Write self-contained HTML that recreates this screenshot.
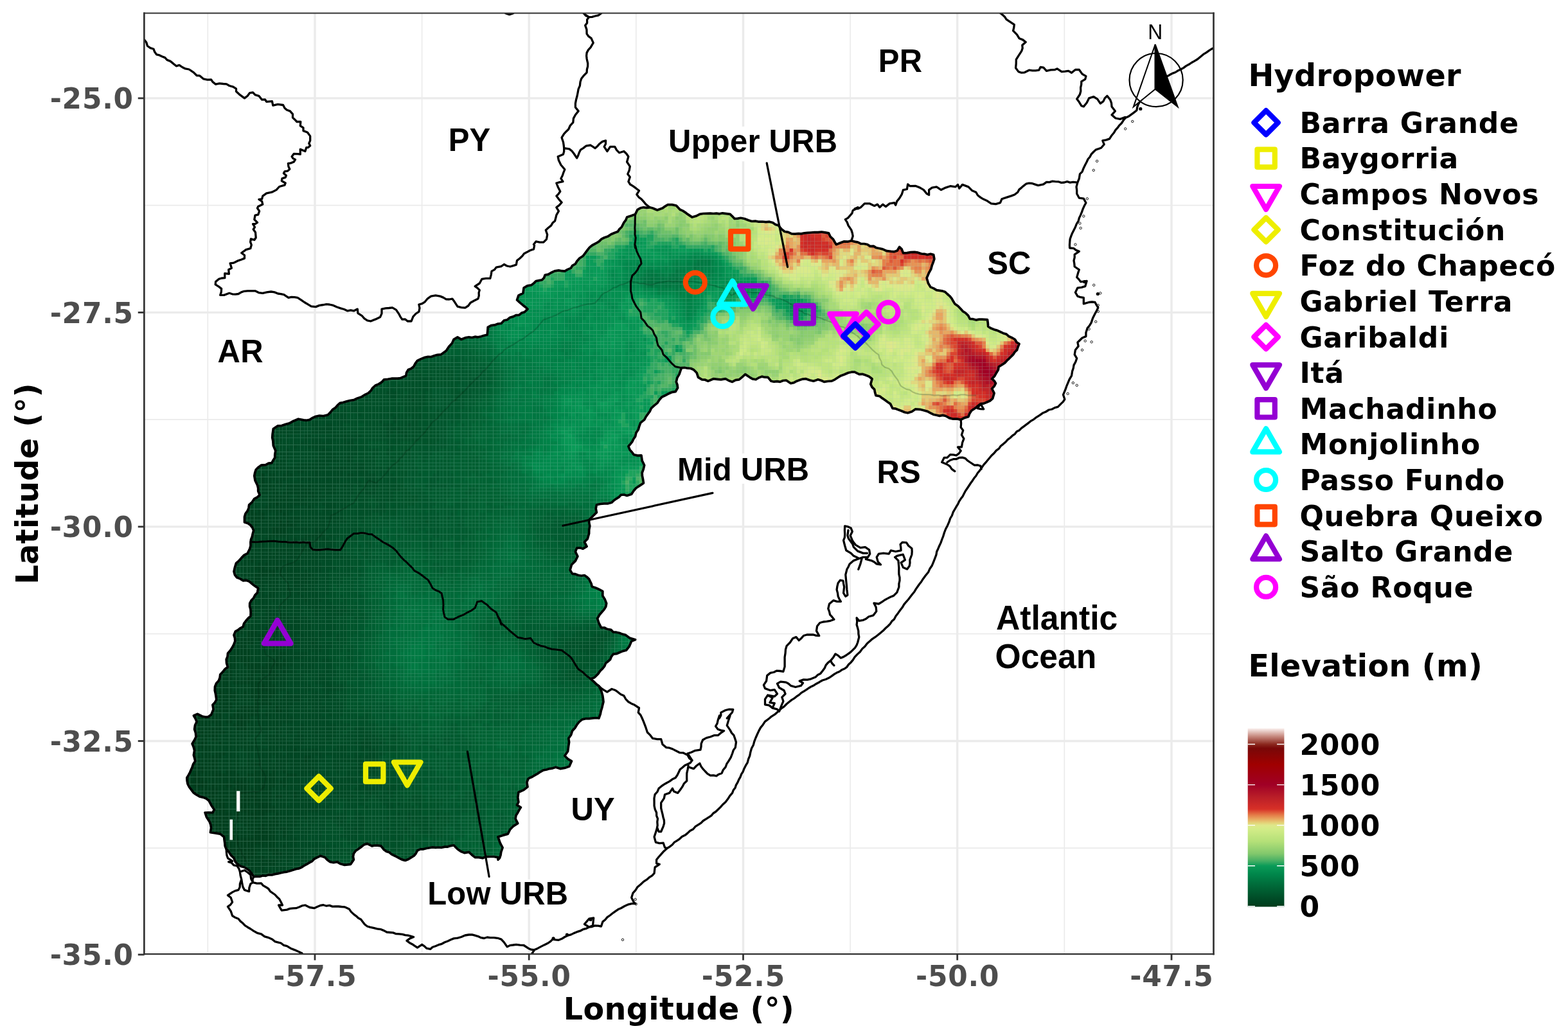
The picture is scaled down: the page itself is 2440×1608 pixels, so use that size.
<!DOCTYPE html>
<html lang="en"><head><meta charset="utf-8"><title>Uruguay River Basin map</title><style>html,body{margin:0;padding:0;background:#fff}svg{display:block}</style></head><body><svg xmlns="http://www.w3.org/2000/svg" width="2440" height="1608" viewBox="0 0 2440 1608">
<defs>
<clipPath id="panel"><rect x="224.35" y="20.5" width="1664.15" height="1464.6"/></clipPath>
<clipPath id="basin"><path d="M1011.0 322.8L1015.7 324.0L1022.8 327.0L1031.0 324.0L1039.3 318.5L1052.3 320.0L1058.2 326.3L1070.0 333.4L1077.1 338.1L1088.9 333.4L1105.4 332.2L1124.3 331.8L1136.1 333.4L1143.1 340.5L1152.6 339.3L1164.4 342.8L1180.9 345.2L1197.4 345.2L1211.6 351.1L1221.0 360.5L1237.5 364.1L1256.4 362.4L1272.9 361.7L1289.5 362.9L1296.5 372.3L1301.3 380.6L1313.1 375.9L1324.9 374.7L1335.0 377.1L1373.7 387.9L1386.6 391.4L1396.1 390.3L1399.6 384.4L1403.2 387.9L1405.5 393.8L1417.3 392.6L1433.8 395.0L1452.7 396.6L1453.9 403.2L1450.4 412.7L1445.6 424.5L1442.1 432.7L1444.5 441.0L1448.0 446.9L1457.4 451.6L1465.7 452.8L1474.0 457.5L1481.0 464.6L1485.8 472.9L1495.2 481.1L1502.3 487.0L1509.4 496.5L1518.8 498.1L1528.2 497.2L1536.5 497.6L1537.7 508.3L1547.1 513.0L1556.5 516.5L1566.0 520.1L1575.4 526.0L1586.0 535.4L1582.5 544.8L1576.6 551.9L1570.7 557.8L1563.6 564.9L1554.2 570.8L1550.6 580.2L1543.6 589.7L1549.5 596.7L1543.6 605.0L1547.1 612.1L1544.7 620.3L1535.3 626.2L1525.9 628.6L1518.8 634.5L1511.7 639.2L1507.0 648.7L1495.2 653.4L1483.4 652.2L1471.6 647.5L1457.4 646.3L1443.3 640.4L1431.5 637.3L1424.4 636.9L1412.6 642.8L1398.4 638.0L1389.0 635.7L1385.5 628.6L1377.2 622.7L1368.9 616.8L1363.0 615.6L1360.7 606.2L1354.8 597.9L1357.1 589.7L1346.5 583.8L1337.1 582.6L1330.0 579.1L1320.1 580.2L1308.3 584.9L1294.2 593.2L1282.4 594.4L1272.9 590.8L1265.9 593.2L1254.1 589.7L1239.9 593.2L1230.5 596.7L1223.4 592.0L1213.9 594.4L1199.8 593.2L1195.1 587.3L1185.6 586.1L1176.2 590.8L1166.7 587.3L1159.7 582.6L1150.2 590.8L1139.6 594.4L1129.0 589.7L1121.9 590.8L1110.1 589.7L1101.8 593.2L1092.4 590.8L1086.5 587.3L1084.1 580.2L1079.4 575.5L1070.0 573.2L1060.5 572.7L1057.0 582.6L1052.3 594.4L1054.6 603.8L1051.1 609.7L1039.3 613.3L1029.9 618.0L1022.8 627.4L1013.3 635.7L1008.6 643.9L1002.7 653.4L996.8 658.1L993.3 668.7L988.6 679.3L983.8 687.6L977.9 694.7L980.3 700.6L986.2 707.7L998.0 708.8L999.2 717.1L1002.7 724.2L999.2 736.0L1000.4 745.4L1001.5 752.0L996.8 755.1L989.7 759.8L982.7 769.2L975.6 771.6L966.2 770.4L959.1 776.3L952.0 782.2L940.2 783.9L928.4 785.8L927.2 791.7L928.4 797.6L922.5 803.5L916.6 809.4L917.8 818.8L916.6 830.6L914.2 838.9L909.5 843.6L913.1 850.7L907.2 854.2L897.7 853.0L895.4 858.9L898.9 866.0L895.4 873.1L889.5 879.0L887.1 887.2L890.6 893.1L900.1 895.5L909.5 895.5L916.6 901.4L920.1 908.5L921.3 913.2L930.8 916.7L937.8 920.3L937.8 927.4L941.4 933.3L943.7 939.2L940.2 948.6L933.1 956.8L929.6 962.7L931.9 969.8L935.5 976.9L944.9 979.3L950.8 980.4L954.4 984.0L963.8 985.2L973.2 988.2L980.3 993.4L988.6 995.8L982.7 998.1L979.1 1006.4L974.4 1012.3L963.8 1015.8L954.4 1018.2L949.6 1026.5L942.6 1032.4L937.8 1040.6L930.8 1048.9L924.9 1054.8L919.0 1056.7L924.9 1061.9L931.9 1067.8L935.5 1074.8L937.8 1083.1L939.0 1092.5L936.7 1102.0L934.3 1111.4L931.9 1118.0L928.4 1117.5L916.6 1118.7L906.0 1119.9L897.7 1128.2L890.6 1137.6L884.7 1149.4L884.7 1161.2L883.6 1169.5L878.8 1176.5L883.6 1181.3L889.5 1184.8L885.9 1193.1L878.8 1195.4L871.8 1196.6L864.7 1194.2L855.2 1196.6L841.1 1201.3L831.6 1207.2L822.2 1211.9L819.8 1217.8L821.0 1224.9L815.1 1229.6L806.9 1233.2L805.7 1241.4L806.9 1248.5L804.5 1253.2L810.4 1256.8L805.7 1265.0L802.1 1274.5L805.7 1281.6L798.6 1286.3L793.9 1291.0L790.3 1298.1L782.1 1300.4L775.0 1302.8L777.4 1309.9L782.1 1319.3L779.7 1326.4L777.4 1335.8L775.0 1338.2L774.6 1334.6L762.8 1333.5L751.0 1335.8L739.2 1334.6L729.7 1326.4L722.7 1327.6L712.0 1321.7L706.1 1315.8L692.0 1318.1L677.8 1319.3L663.7 1320.5L649.5 1324.0L647.1 1328.7L640.1 1334.6L630.6 1339.4L621.2 1335.8L609.4 1329.9L597.6 1322.8L592.9 1316.9L578.7 1316.9L571.6 1313.4L566.9 1314.6L557.5 1321.7L550.4 1328.7L550.4 1338.2L545.7 1345.3L536.2 1346.4L524.4 1341.7L513.8 1341.7L505.5 1334.6L498.5 1332.3L489.0 1337.0L477.2 1345.3L465.4 1351.9L446.5 1357.1L427.7 1360.6L408.8 1363.0L394.6 1364.6L392.3 1360.6L387.6 1354.7L380.5 1350.0L371.0 1346.4L366.3 1341.7L364.0 1335.8L359.2 1331.1L352.2 1321.7L349.8 1312.2L348.6 1302.8L342.7 1298.1L335.6 1296.9L327.4 1295.7L328.6 1288.6L326.2 1279.2L321.5 1272.1L319.1 1265.0L330.9 1265.0L333.3 1260.3L328.6 1253.2L325.0 1246.2L316.8 1241.4L305.0 1236.7L297.9 1229.6L292.0 1220.2L290.8 1210.8L295.5 1202.5L299.1 1194.2L303.8 1184.8L301.4 1175.4L302.6 1168.3L299.1 1157.7L305.0 1147.0L302.6 1135.2L306.1 1123.4L301.4 1114.0L307.3 1111.4L314.4 1115.0L323.8 1116.1L328.6 1112.6L332.1 1104.3L330.9 1097.3L336.8 1089.0L335.6 1080.7L334.5 1068.9L340.4 1059.5L342.7 1050.1L349.8 1041.8L354.5 1038.3L352.2 1026.5L354.5 1017.0L361.6 1007.6L365.8 998.1L364.0 988.7L366.3 982.8L378.1 975.7L382.8 966.3L389.9 959.2L389.9 948.6L388.7 939.2L394.6 930.9L400.5 922.6L401.7 915.6L394.6 910.8L387.6 904.9L378.1 903.8L368.7 899.0L364.0 889.6L367.5 876.6L375.8 868.4L385.2 861.3L388.7 854.2L389.9 844.8L392.3 835.3L394.6 825.9L389.9 817.6L380.5 812.9L380.5 804.6L385.2 795.2L387.6 785.8L395.8 776.3L404.1 770.4L401.7 764.5L400.5 755.1L397.0 748.0L395.8 740.7L398.2 731.3L406.4 724.2L413.5 723.7L422.9 720.6L427.7 712.4L428.8 701.8L425.3 693.5L424.8 686.4L424.1 675.8L425.3 667.5L432.4 662.8L444.2 660.5L456.0 655.7L464.2 652.2L472.5 653.9L481.9 653.4L491.4 648.2L503.2 647.5L510.3 645.8L522.1 634.5L529.1 627.4L538.6 625.1L550.4 622.7L562.2 618.0L572.8 612.1L579.9 603.8L589.3 597.9L597.6 590.8L609.4 589.2L623.5 588.5L631.8 584.9L635.3 575.5L643.6 570.8L649.5 561.4L661.3 556.2L675.5 553.8L686.1 551.9L694.3 546.0L699.1 538.9L706.1 528.3L712.0 524.8L717.9 528.3L725.0 525.5L743.9 524.8L758.1 521.2L759.2 509.4L769.9 505.9L780.0 503.5L784.4 498.8L798.6 492.9L816.3 485.8L821.0 481.1L813.9 475.2L804.5 467.0L806.9 459.9L813.9 456.3L815.1 448.1L826.9 443.8L834.0 437.5L843.4 435.8L848.2 428.0L857.6 424.5L869.4 420.9L878.8 422.1L888.3 417.4L897.7 406.8L907.2 398.5L914.2 389.1L921.3 382.0L928.4 378.2L940.2 370.0L950.8 364.8L961.4 360.5L967.3 353.5L970.9 346.4L975.6 338.1L982.7 335.8L988.6 333.4L992.1 326.3L1001.5 322.8L1011.0 322.8Z"/></clipPath>
</defs>
<rect width="2440" height="1608" fill="#fff"/>
<g stroke="#ebebeb" fill="none"><line x1="323.3" x2="323.3" y1="20.5" y2="1485.1" stroke-width="1.7"/><line x1="656.6" x2="656.6" y1="20.5" y2="1485.1" stroke-width="1.7"/><line x1="989.8" x2="989.8" y1="20.5" y2="1485.1" stroke-width="1.7"/><line x1="1323.1" x2="1323.1" y1="20.5" y2="1485.1" stroke-width="1.7"/><line x1="1656.3" x2="1656.3" y1="20.5" y2="1485.1" stroke-width="1.7"/><line y1="319.6" y2="319.6" x1="224.35" x2="1888.5" stroke-width="1.7"/><line y1="653.2" y2="653.2" x1="224.35" x2="1888.5" stroke-width="1.7"/><line y1="986.7" y2="986.7" x1="224.35" x2="1888.5" stroke-width="1.7"/><line y1="1320.2" y2="1320.2" x1="224.35" x2="1888.5" stroke-width="1.7"/><line x1="490.0" x2="490.0" y1="20.5" y2="1485.1" stroke-width="3.4"/><line x1="823.2" x2="823.2" y1="20.5" y2="1485.1" stroke-width="3.4"/><line x1="1156.5" x2="1156.5" y1="20.5" y2="1485.1" stroke-width="3.4"/><line x1="1489.7" x2="1489.7" y1="20.5" y2="1485.1" stroke-width="3.4"/><line x1="1823.0" x2="1823.0" y1="20.5" y2="1485.1" stroke-width="3.4"/><line y1="152.9" y2="152.9" x1="224.35" x2="1888.5" stroke-width="3.4"/><line y1="486.4" y2="486.4" x1="224.35" x2="1888.5" stroke-width="3.4"/><line y1="819.9" y2="819.9" x1="224.35" x2="1888.5" stroke-width="3.4"/><line y1="1153.5" y2="1153.5" x1="224.35" x2="1888.5" stroke-width="3.4"/></g>
<g clip-path="url(#panel)">
<path d="M224.7 62.0L227.9 66.3L229.4 71.5L233.8 74.6L238.9 76.2L240.7 80.8L243.6 84.9L248.1 85.9L252.3 88.0L256.6 89.6L260.1 93.4L264.8 95.1L269.6 98.9L274.3 102.8L279.0 101.4L283.5 104.5L288.4 106.9L294.3 108.0L301.4 112.8L306.1 117.5L310.9 117.9L316.8 122.9L322.6 124.1L328.6 123.8L330.9 127.4L335.6 131.2L341.5 129.8L347.4 130.5L352.5 130.9L356.9 133.5L362.8 135.2L367.5 138.2L367.5 142.3L373.4 147.7L380.5 152.9L385.2 149.3L388.7 144.6L393.5 143.9L397.0 147.7L402.9 149.3L407.6 155.2L412.3 154.8L414.7 158.3L423.4 157.6L424.8 164.2L432.4 162.3L440.6 163.5L443.0 168.2L446.5 171.3L451.3 172.9L455.5 177.7L455.5 183.1L458.8 186.2L461.9 189.5L467.8 189.5L467.3 195.8L472.0 198.9L472.0 203.6L478.4 206.0L482.7 211.9L482.7 218.9L480.8 223.2L482.7 226.7L479.6 229.6L476.8 229.6L474.9 235.5L467.3 232.4L467.3 240.2L463.1 239.7L457.2 239.5L454.1 243.7L456.0 246.6L459.5 248.4L457.2 252.0L452.4 253.9L448.4 254.3L448.9 259.1L450.8 263.3L447.7 266.1L443.0 266.9L441.4 269.7L445.4 273.2L444.2 276.1L439.0 277.9L438.3 281.5L444.2 285.0L443.0 288.1L434.7 290.5L430.0 295.6L422.9 299.2L414.7 300.8L408.8 305.1L407.6 309.8L402.9 310.3L407.6 313.3L408.8 318.1L401.7 321.6L400.5 324.0L403.6 328.7L401.7 334.1L397.0 335.1L395.8 341.7L400.5 346.4L397.0 348.7L393.5 348.7L396.5 353.5L394.2 357.0L397.5 361.7L398.2 370.0L395.8 373.5L390.4 371.9L389.6 376.6L391.3 381.3L389.9 386.0L389.9 386.7L382.8 388.6L375.8 393.8L380.5 397.3L380.5 402.1L375.8 404.0L371.0 405.6L364.0 409.1L358.1 409.8L360.4 417.4L355.7 419.8L356.4 426.4L349.8 425.7L349.8 432.7L345.0 433.0L340.4 434.4L335.6 438.6L335.2 442.9L340.4 446.2L344.6 449.3L344.3 454.4L342.7 459.4L348.6 459.4L356.9 456.3L361.5 457.8L366.2 458.1L371.0 457.5L375.4 454.9L380.1 453.3L385.2 452.8L391.1 452.9L397.0 452.8L402.6 455.6L408.8 456.3L415.2 454.9L421.8 454.0L427.3 454.9L432.4 457.0L437.1 457.7L441.8 458.7L448.9 463.4L453.6 462.3L458.3 462.7L463.1 463.4L468.5 466.8L473.7 470.5L479.0 473.7L484.3 476.9L491.4 477.6L497.1 475.4L503.2 474.5L507.9 473.6L512.6 474.0L518.7 475.4L524.4 478.0L530.0 479.9L535.6 481.5L540.9 483.9L545.7 482.8L550.4 483.9L556.3 481.1L557.0 487.7L563.4 491.7L567.0 495.9L571.6 498.8L576.8 500.0L584.6 496.9L591.7 493.4L594.0 488.2L594.0 481.1L599.9 479.9L605.3 479.5L610.6 478.8L616.5 482.3L621.2 489.4L623.2 493.4L625.9 497.2L630.6 496.9L634.2 500.0L640.1 500.0L642.9 492.9L646.9 488.5L651.9 485.1L653.0 479.6L651.9 474.0L656.9 472.7L661.3 469.8L665.4 464.8L670.7 461.1L677.8 459.9L684.9 461.1L689.8 463.1L694.3 465.8L699.1 466.0L703.8 465.1L707.3 469.8L712.0 477.1L717.8 478.7L723.8 479.2L728.7 476.0L732.1 471.2L737.9 468.0L743.9 465.1L745.3 460.4L745.1 455.6L746.3 451.6L743.0 448.4L739.2 445.7L746.3 441.0L749.8 434.4L756.2 433.4L762.8 433.4L764.2 427.8L765.1 422.1L769.3 419.9L772.2 416.2L780.0 414.6L784.4 411.5L788.9 414.0L793.9 415.0L798.6 413.6L803.3 412.2L804.5 405.6L808.8 402.2L812.8 398.5L815.6 394.7L819.8 392.6L824.9 389.7L830.5 387.9L831.6 382.0L830.5 380.6L834.0 375.9L839.8 377.2L845.8 377.1L850.5 372.3L851.7 365.3L849.3 358.2L853.3 354.5L857.6 351.1L859.9 347.1L863.5 344.0L864.8 339.3L865.9 334.6L869.4 328.7L865.9 322.8L870.3 319.4L874.1 315.2L869.4 309.8L865.9 305.1L869.1 301.8L871.8 298.0L868.2 290.9L865.9 285.0L870.9 283.6L876.0 282.7L872.9 277.9L875.3 273.2L876.9 268.5L878.8 263.8L875.9 260.2L872.9 256.7L869.4 249.6L868.2 243.7L876.5 240.2L877.7 235.6L877.7 230.7M908.3 20.7L911.8 24.6L916.6 26.6L913.6 30.5L913.6 35.7L910.7 39.6L912.9 45.9L913.1 52.6L916.0 56.7L920.1 59.7L923.2 66.7L919.0 73.8L915.5 77.6L913.1 82.1L912.6 86.8L913.1 91.5L914.7 98.6L914.6 103.4L913.4 108.0L913.1 112.8L908.7 117.3L904.8 122.2L903.0 127.6L902.4 133.4L900.1 138.7L899.1 144.3L898.0 149.8L896.5 155.2L895.4 161.1L895.4 167.0L900.1 172.9L895.4 178.8L892.4 184.4L891.8 190.6L887.4 195.3L884.7 201.3L881.1 204.7L877.7 208.3L874.1 214.2L876.5 221.3L877.2 226.0L877.7 230.7M877.7 230.7L885.9 231.9L889.9 235.0L893.0 239.0L897.7 246.1L899.8 241.8L901.4 237.3L903.6 233.1L907.9 230.4L911.9 227.2L919.0 226.0L926.0 230.7L929.8 227.4L933.1 223.7L937.4 220.4L942.6 218.9L942.5 224.0L940.2 228.4L944.9 235.5L949.6 228.4L956.7 228.4L959.6 233.6L963.8 237.8L970.9 235.5L974.8 239.2L977.9 243.7L975.6 252.0L980.3 259.1L979.2 265.2L976.8 270.9L980.3 275.6L977.9 282.7L980.6 287.0L985.0 289.7L989.8 293.2L994.5 296.8L990.9 302.7L993.9 306.8L998.0 309.8L1001.6 313.9L1005.1 318.1L1011.0 322.8M1556.5 20.2L1560.2 23.1L1563.5 26.2L1566.0 30.2L1573.1 34.9L1578.3 38.4L1577.7 43.2L1576.6 47.9L1582.5 53.8L1586.0 59.7L1591.5 61.9L1596.2 65.6L1590.8 70.3L1591.2 75.1L1589.6 79.7L1584.9 86.8L1581.3 92.7L1581.2 99.2L1580.6 105.7L1584.9 111.6L1589.5 113.2L1594.3 112.8L1601.4 109.2L1606.5 109.9L1611.6 109.9L1616.7 109.2L1619.1 104.5L1623.8 105.2L1628.5 110.4L1634.9 108.8L1641.5 108.5L1645.0 106.9L1652.1 111.6L1657.4 111.1L1662.7 110.4L1667.5 113.2L1673.4 108.5L1679.3 108.5L1684.0 115.1L1689.9 118.7L1688.7 123.4L1682.8 126.9L1682.7 131.7L1681.6 136.4L1681.8 141.8L1680.4 147.0L1675.7 154.1L1679.3 158.8L1682.8 164.7L1686.3 165.9L1691.1 160.0L1694.6 152.9L1701.7 150.5L1707.6 154.1L1712.3 161.1L1717.0 157.6L1719.2 152.9L1722.9 149.3L1727.6 155.2L1729.5 160.4L1730.0 165.9L1735.4 172.9L1730.0 178.8L1735.9 184.0L1743.0 185.4L1751.2 182.4M1324.9 374.7L1327.2 367.6L1326.3 362.8L1324.9 358.2L1320.1 351.1L1318.3 346.1L1315.4 341.7L1319.4 339.3L1322.5 335.8L1325.8 332.2L1327.2 327.5L1331.4 325.6L1335.0 322.8L1330.0 325.1L1335.0 324.9L1339.4 322.8L1345.3 316.9L1353.6 316.9L1360.7 320.4L1365.4 318.1L1368.9 322.8L1373.7 318.1L1378.4 321.6L1384.3 316.9L1391.8 315.7L1393.7 319.2L1395.7 313.4L1399.6 308.6L1403.2 302.7L1405.5 295.6L1411.4 294.5L1412.6 286.9L1416.1 289.7L1424.4 289.3L1431.5 292.1L1437.4 295.6L1442.1 301.5L1445.6 303.4L1445.6 295.6L1450.4 292.1L1457.4 290.9L1464.5 295.6L1471.6 292.1L1478.7 289.7L1486.9 290.9L1490.5 287.4L1492.8 293.3L1497.6 287.4L1502.3 289.1L1507.0 290.9L1512.9 296.8L1518.8 299.2L1521.5 304.0L1525.9 307.4L1530.4 310.1L1535.3 312.2L1542.4 316.9L1549.5 317.6L1556.5 315.7L1558.9 309.8L1566.0 307.4L1573.1 305.1L1578.8 303.0L1583.7 299.2L1585.9 295.1L1589.6 292.1L1593.1 289.1L1596.7 286.2L1601.3 285.2L1606.1 285.5L1610.8 287.1L1615.5 288.6L1623.8 286.9L1628.5 283.4L1633.1 283.6L1637.7 282.2L1642.3 282.7L1646.9 282.8L1651.5 284.4L1656.1 284.0L1660.6 282.6L1665.2 284.1L1669.8 283.4L1675.0 283.8M1890.0 73.8L1885.5 76.2L1881.2 78.8L1877.1 81.8L1872.8 84.4L1868.2 88.2L1863.7 92.0L1858.6 95.1L1854.3 97.5L1850.1 100.3L1845.7 102.6L1841.7 105.6L1837.4 108.0L1833.1 109.9L1829.2 112.5L1824.7 114.1L1820.6 116.3L1816.6 118.7L1812.1 121.6L1807.5 124.4L1802.9 127.1L1798.4 130.2L1794.8 133.8L1790.7 136.8L1786.7 139.9L1783.1 143.4L1780.4 148.3L1776.9 152.7L1774.1 157.5L1771.3 162.3L1769.7 166.9L1768.9 171.8L1764.3 175.4L1759.5 178.8L1755.6 181.6L1751.2 183.6L1748.0 187.5L1745.3 191.8L1741.9 195.1L1739.1 198.9L1735.9 202.4L1733.3 206.8L1730.0 210.7L1726.5 216.1L1721.2 217.9L1715.8 218.9L1718.2 224.8L1713.5 230.3L1705.2 233.1L1701.6 236.5L1698.1 240.2L1696.0 244.3L1693.0 247.8L1691.1 252.0L1688.6 256.7L1686.3 261.4L1684.0 267.3L1680.4 270.9L1679.3 277.9L1676.9 283.8L1675.0 290.9L1675.7 296.2L1675.7 301.5L1679.3 308.2L1686.3 309.1L1689.9 315.7L1687.4 320.3L1685.2 325.1L1683.5 329.9L1681.6 334.6L1679.4 339.1L1678.1 344.0L1675.3 348.5L1673.4 353.5L1671.0 358.2L1668.6 362.9L1666.7 367.6L1665.1 372.3L1664.7 376.9L1664.4 381.5L1664.6 386.0L1671.0 386.7L1674.8 389.6L1679.3 391.4L1672.2 396.2L1672.2 400.9L1671.0 405.6L1671.8 410.3L1672.2 415.0L1679.3 419.8L1677.4 425.6L1675.7 431.6L1678.9 434.9L1681.6 438.6L1686.4 438.2L1691.1 437.5L1688.7 445.7L1682.9 447.4L1676.9 448.1L1673.4 455.2L1676.9 461.1L1681.5 462.7L1686.3 463.4L1686.3 468.1L1686.3 472.9L1694.6 470.5L1699.3 470.0L1704.0 470.5L1706.2 474.7L1708.8 478.8L1706.6 483.6L1704.0 488.2L1700.5 495.3L1698.1 502.4L1695.5 506.7L1692.2 510.6L1689.9 517.7L1689.9 523.6L1684.0 526.0L1680.5 529.5L1676.9 533.0L1678.1 538.9L1673.4 544.8L1672.2 551.9L1675.7 557.8L1673.8 563.3L1671.0 568.4L1670.2 573.2L1668.6 577.9L1667.5 584.9L1664.1 590.7L1661.6 596.7L1659.6 601.4L1658.0 606.2L1654.5 614.4L1656.8 621.5L1654.3 625.4L1650.9 628.6L1646.2 633.3L1641.4 634.6L1637.0 637.0L1632.1 638.0L1627.4 641.0L1622.4 643.1L1617.9 646.3L1613.1 649.3L1608.6 652.8L1603.7 655.7L1599.1 659.4L1594.4 662.9L1589.6 666.4L1586.3 669.7L1582.1 671.8L1579.3 675.6L1575.4 678.2L1572.0 681.5L1568.1 684.4L1564.9 688.0L1561.3 691.1L1557.3 694.3L1554.4 698.4L1550.2 701.4L1547.1 705.3L1542.8 709.3L1539.1 713.8L1535.3 718.3L1530.8 723.3L1527.1 728.9L1524.3 732.9L1521.2 736.5L1518.8 740.7L1515.8 744.3L1513.3 748.2L1510.5 752.0L1507.6 756.5L1504.6 761.0L1502.1 764.7L1500.0 768.7L1498.0 772.7L1495.2 776.3L1492.6 780.3L1490.7 784.7L1488.1 788.7L1485.8 792.8L1483.1 797.4L1481.4 802.5L1478.7 807.0L1476.8 812.7L1474.4 818.2L1471.6 823.5L1469.5 829.0L1467.8 834.6L1465.7 840.0L1464.0 844.9L1461.8 849.5L1459.8 854.2L1457.7 858.8L1456.9 863.7L1455.1 868.4L1452.8 874.3L1450.4 880.2L1447.0 885.2L1444.5 890.8L1440.2 896.0L1436.2 901.4L1433.7 905.5L1430.7 909.3L1427.9 913.2L1425.2 917.1L1422.8 921.3L1419.7 925.0L1416.6 929.0L1413.6 933.0L1410.2 936.8L1406.8 940.9L1404.1 945.6L1400.8 949.8L1397.5 954.4L1394.0 958.9L1391.4 963.9L1387.8 967.1L1385.2 971.1L1381.9 974.5L1377.9 978.0L1374.2 981.8L1370.1 985.2L1366.1 988.5L1361.9 991.7L1357.5 994.6L1353.6 998.1L1349.3 1001.7L1345.9 1006.2L1341.8 1009.9L1338.3 1014.7L1334.0 1018.6L1330.0 1022.9L1327.4 1027.1L1324.3 1030.9L1320.6 1034.2L1317.8 1038.3L1314.1 1041.0L1309.8 1042.8L1306.1 1045.5L1301.8 1047.3L1297.9 1049.7L1294.2 1052.4L1289.7 1055.3L1284.9 1057.5L1279.8 1059.0L1275.2 1061.7L1270.6 1064.2L1266.7 1066.7L1262.5 1068.7L1258.6 1071.0L1254.8 1073.7L1250.9 1076.1L1247.0 1078.4L1243.5 1081.6L1239.5 1084.2L1235.9 1087.2L1231.8 1089.6L1228.1 1092.5L1223.9 1096.0L1220.1 1099.9L1215.6 1103.0L1211.6 1106.7L1208.3 1109.9L1204.8 1112.7L1200.8 1115.1L1197.4 1118.0L1190.3 1123.4L1187.2 1128.2L1183.6 1132.6L1180.9 1137.6L1178.4 1143.0L1176.0 1148.5L1173.8 1154.1L1172.3 1159.8L1169.5 1165.0L1167.9 1170.6L1166.8 1176.3L1164.6 1181.6L1163.2 1187.2L1160.4 1191.7L1158.0 1196.4L1156.1 1201.3L1153.6 1205.2L1152.0 1209.6L1149.7 1213.6L1147.9 1217.8L1145.5 1221.8L1144.1 1226.3L1141.2 1230.0L1139.6 1234.4L1135.7 1238.8L1132.6 1243.8L1129.0 1248.5L1124.8 1252.2L1121.2 1256.4L1117.2 1260.3L1113.8 1263.5L1109.9 1266.0L1106.9 1269.6L1103.0 1272.1L1098.7 1274.8L1094.4 1277.5L1090.8 1281.2L1086.5 1283.9L1082.0 1286.7L1078.6 1290.8L1073.8 1293.3L1070.0 1296.9L1066.0 1300.1L1061.4 1302.3L1057.6 1305.8L1053.5 1308.7L1049.3 1311.2L1046.1 1315.0L1042.3 1317.9L1038.1 1320.5L1033.1 1324.9L1028.7 1329.9L1025.0 1334.0L1021.6 1338.2L1021.6 1344.1L1026.3 1345.3L1019.2 1350.0L1018.6 1354.7L1018.1 1359.4L1014.9 1362.8L1011.0 1365.3L1006.5 1369.2L1001.5 1372.4L996.9 1376.7L992.1 1380.7L989.0 1385.7L985.0 1390.1L982.7 1397.2L986.2 1404.3L988.6 1406.6L983.2 1406.6L977.9 1407.8L971.9 1410.5L966.2 1413.7L961.9 1415.6L958.2 1418.2L954.4 1420.8L949.7 1424.5L944.9 1427.9L941.7 1431.8L937.8 1434.9L935.5 1442.0L930.8 1441.2L926.0 1440.8L921.4 1442.5L916.6 1443.2L909.5 1438.5L913.1 1434.4L916.6 1430.2L923.7 1429.0L923.1 1434.9L922.5 1440.8L917.4 1442.8L912.4 1445.3L907.2 1446.7L902.6 1449.2L897.7 1450.7L893.0 1452.6L888.5 1454.9L883.6 1456.2L878.8 1458.5L874.3 1461.3L869.4 1463.3L864.6 1462.9L860.0 1462.1L856.7 1465.4L852.9 1468.0L846.9 1470.9L841.1 1473.9L836.4 1476.4L831.6 1478.6L828.1 1484.0M1495.2 653.4L1495.6 659.3L1495.2 665.2L1498.7 669.9L1496.4 677.0L1499.9 682.9L1497.6 688.8L1496.4 695.9L1490.5 695.9L1495.2 701.8L1492.2 705.9L1488.1 708.8L1483.4 707.9L1478.7 707.7L1474.0 712.4L1469.2 712.4L1465.7 719.5L1474.0 723.0L1478.2 725.8L1481.0 730.1L1485.8 733.6M1474.0 719.5L1478.4 716.5L1483.4 714.7L1488.4 714.6L1492.8 712.4L1497.7 712.1L1502.3 713.6L1505.5 716.9L1509.4 719.5L1516.4 724.2L1521.3 723.8L1525.9 725.4L1527.1 730.1M1525.9 628.6L1528.3 632.7L1530.6 636.9L1525.8 636.6L1521.2 635.7L1525.9 628.6M919.0 1056.7L924.9 1061.9L928.3 1065.1L932.0 1068.0L935.5 1071.3L940.1 1074.4L944.9 1077.2L952.0 1072.5L957.0 1074.2L961.4 1077.2L965.8 1080.8L970.9 1083.1L973.8 1088.3L977.9 1092.5L982.5 1095.2L987.4 1097.3L994.5 1102.0L993.3 1109.1L996.9 1113.1L999.2 1118.0L1001.5 1123.4L1003.3 1128.2L1005.1 1132.9L1007.4 1140.0L1011.9 1144.4L1015.7 1149.4L1022.8 1150.6L1028.7 1150.6L1031.0 1158.8L1036.9 1163.6L1041.8 1164.2L1046.4 1165.9L1053.5 1169.5L1057.9 1171.7L1062.9 1171.8L1070.0 1175.4L1072.6 1180.3L1077.1 1183.6L1074.2 1187.4L1070.0 1189.5L1065.6 1191.6L1062.0 1194.8L1058.2 1197.8L1056.1 1202.2L1053.9 1206.7L1051.1 1210.8L1046.2 1213.1L1041.7 1216.4L1036.9 1219.0L1032.8 1221.4L1028.9 1224.2L1025.1 1227.3L1022.9 1232.5L1019.2 1236.7L1018.0 1242.5L1018.1 1248.5L1018.1 1254.3L1019.3 1259.8L1021.6 1265.0L1021.7 1269.8L1023.5 1274.4L1022.8 1279.2L1023.2 1284.9L1022.1 1290.3L1020.4 1295.7L1018.1 1302.8L1020.4 1311.1L1026.2 1312.7L1032.2 1312.2L1034.6 1319.3L1038.1 1320.5M1071.2 1191.9L1070.1 1197.8L1068.8 1203.7L1068.7 1209.6L1068.8 1215.5L1064.5 1219.6L1061.7 1224.9L1058.3 1229.7L1054.6 1234.4L1048.7 1232.0L1046.4 1227.3L1041.7 1234.4L1034.6 1236.7L1033.4 1242.6L1028.7 1249.7L1028.7 1258.0L1029.8 1262.7L1031.0 1267.4L1032.0 1272.2L1033.4 1276.8L1033.6 1281.6L1032.2 1286.3L1028.7 1294.5L1025.1 1294.5L1022.8 1288.6M1077.1 1183.6L1073.5 1178.3L1070.0 1173.0L1076.0 1171.0L1081.8 1168.3L1090.0 1167.1L1091.0 1162.4L1091.2 1157.7L1093.6 1151.8L1099.2 1148.6L1105.4 1147.0L1111.1 1144.7L1117.2 1144.7L1121.7 1140.9L1126.6 1137.6L1121.8 1136.9L1117.2 1135.2L1113.6 1130.5L1116.1 1126.1L1117.2 1121.1L1119.5 1114.0M1072.3 1194.2L1079.4 1196.6L1083.8 1192.0L1088.9 1188.3L1090.8 1192.7L1093.6 1196.6L1097.2 1200.5L1100.9 1204.3L1105.4 1207.2L1110.2 1206.8L1114.8 1207.9L1118.7 1205.2L1123.1 1203.7L1125.3 1198.5L1129.0 1194.2L1130.8 1189.2L1133.7 1184.8L1137.2 1179.1L1139.6 1173.0L1141.2 1167.9L1144.3 1163.6L1145.5 1155.3L1143.8 1150.0L1142.0 1144.7L1138.5 1140.9L1136.1 1136.4L1131.3 1129.3L1133.7 1121.1L1136.1 1114.0M1314.7 818.9L1319.7 819.9L1324.2 822.1L1326.3 827.4L1323.2 833.7L1326.3 841.1L1328.7 844.9L1331.6 848.4L1338.9 852.6L1346.3 851.6L1352.6 855.8L1353.7 862.1L1350.5 867.4L1343.2 867.4L1336.8 869.5L1332.7 867.2L1328.4 865.3L1324.2 861.1L1316.8 856.8L1314.7 849.5L1312.6 841.1L1314.4 836.5L1314.7 831.6L1314.4 825.3L1314.7 818.9M1320.0 825.3L1318.9 833.7L1320.4 838.2L1323.2 842.1L1326.5 846.5L1328.4 851.6L1334.7 857.9L1343.2 861.1L1349.5 861.1M1336.8 869.5L1328.4 872.6L1322.1 877.9L1320.2 882.2L1317.9 886.3L1315.8 894.7L1316.3 900.0L1316.8 905.3L1317.5 911.6L1317.9 917.9L1318.9 926.3L1315.8 928.4L1312.6 923.2L1313.1 918.4L1313.7 913.7L1312.7 909.0L1312.0 904.2L1307.4 903.2L1304.2 907.4L1302.9 912.6L1302.1 917.9L1303.5 923.1L1304.2 928.4L1306.1 932.5L1308.4 936.4L1302.5 936.4L1296.8 934.7L1290.5 940.0L1288.8 947.4L1290.5 952.0L1291.6 956.8L1294.9 960.4L1297.9 964.2L1292.3 966.3L1286.3 967.4L1281.0 968.0L1275.8 969.5L1271.6 974.7L1270.5 982.1L1274.7 989.5L1270.1 989.3L1265.7 988.0L1261.1 988.0L1255.7 988.0L1250.5 989.5L1247.1 993.4L1243.2 996.8L1238.9 991.6L1233.7 993.7L1229.5 1000.0L1224.2 1005.3L1222.5 1010.9L1222.1 1016.8L1221.1 1023.1L1221.1 1029.5L1221.1 1037.9L1218.9 1045.3L1213.7 1044.5L1208.4 1044.2L1203.9 1046.5L1198.9 1047.4L1193.7 1051.6L1192.6 1060.0L1188.4 1066.3L1190.5 1071.6L1198.9 1074.7L1205.3 1073.7L1209.5 1080.0L1205.3 1084.2L1200.0 1083.2L1194.7 1082.1L1190.5 1088.4L1190.5 1096.8L1196.8 1097.9L1202.1 1102.1L1209.5 1104.2L1212.6 1107.4M1392.6 867.4L1397.9 872.6L1398.4 878.4L1398.9 884.2L1398.8 889.2L1398.9 894.1L1400.0 898.9L1400.0 903.9L1398.9 908.7L1398.9 913.7L1395.8 922.1L1390.5 927.4L1385.7 929.2L1381.1 931.6L1376.7 934.0L1372.6 936.8L1367.4 940.0L1360.0 938.9L1363.2 945.3L1363.8 951.6L1358.9 957.9L1351.6 960.0L1347.7 963.2L1343.2 965.3L1336.8 966.3L1333.1 961.7L1333.8 967.2L1333.1 972.6L1334.6 977.3L1335.8 982.1L1335.9 986.9L1336.8 991.6L1334.7 1000.0L1333.0 1004.4L1330.5 1008.4L1324.2 1014.7L1320.5 1017.4L1316.8 1020.0L1312.8 1022.4L1308.4 1024.2L1304.5 1020.6L1300.0 1017.9L1296.8 1023.2L1292.6 1028.4L1288.4 1031.6L1285.2 1035.4L1283.2 1040.0L1280.1 1044.3L1276.8 1048.4L1272.7 1050.4L1269.5 1053.7L1262.1 1056.8L1256.4 1058.1L1250.5 1057.9L1244.2 1060.0L1249.5 1063.2L1246.3 1067.4L1237.9 1069.5L1230.5 1067.4L1227.1 1064.3L1223.2 1062.1L1214.7 1061.1L1209.5 1064.2L1212.6 1070.5L1220.0 1074.7L1222.1 1080.0L1216.8 1085.3L1218.9 1091.6L1215.8 1098.9L1212.6 1107.4M1350.5 867.4L1347.4 870.5L1355.8 872.6L1360.3 874.8L1364.2 877.9L1370.5 878.9L1366.3 874.7L1364.2 867.4L1367.4 862.1L1374.7 861.1L1383.2 862.1L1386.3 856.8L1393.7 858.5L1402.1 856.8L1401.8 852.1L1401.1 847.4L1404.2 844.2L1410.5 844.6L1413.7 849.5L1418.9 853.7L1419.2 858.4L1418.9 863.2L1415.8 871.6L1416.0 876.3L1415.2 881.1L1411.6 885.9L1405.3 883.2L1402.1 875.8L1408.4 871.6L1405.3 863.2L1400.5 864.2L1395.8 865.3L1392.6 867.4M1341.1 869.5L1338.9 877.9L1335.8 886.3M1292.6 1028.4L1294.7 1032.5L1297.9 1035.8M1194.7 1082.1L1202.1 1086.3L1197.9 1093.7L1205.3 1094.7L1202.1 1102.1M1119.5 1118.0L1121.8 1113.8L1121.9 1109.1L1129.0 1105.5L1134.8 1104.1L1140.8 1104.3L1139.4 1109.0L1136.1 1112.6L1131.3 1118.0M394.6 1364.6L393.0 1369.0L393.5 1373.6L399.8 1375.2L406.4 1374.8L409.4 1378.4L413.5 1380.7L417.8 1383.5L420.6 1387.7L427.7 1392.5L431.1 1396.2L434.7 1399.5L437.3 1404.2L439.5 1409.0L433.6 1409.0L435.9 1413.2L438.3 1417.2L446.5 1416.1L451.1 1414.4L455.9 1413.8L460.7 1413.7L465.4 1412.0L469.9 1409.9L474.9 1409.0L481.9 1412.5L489.0 1413.7L493.7 1411.5L498.5 1409.5L503.3 1408.7L507.9 1410.2L512.7 1409.4L517.3 1411.1L522.1 1410.9L526.8 1411.0L531.5 1411.5L536.2 1411.8L543.3 1414.9L546.4 1419.4L550.4 1423.1L554.1 1425.8L557.5 1429.0L561.7 1431.2L564.5 1434.9L567.6 1439.0L571.6 1442.0L576.3 1443.4L581.1 1444.4L586.9 1445.9L592.9 1446.7L597.5 1448.6L601.9 1451.0L607.0 1451.5L611.8 1451.9L616.4 1453.7L621.2 1453.8L626.0 1454.3L630.6 1455.6L635.3 1456.2L643.6 1458.5L637.7 1460.9L633.0 1464.4L637.5 1467.7L642.4 1470.3L649.5 1475.1L656.6 1470.3L660.4 1472.9L663.7 1476.2L669.6 1477.4L673.2 1474.2L677.8 1472.7L682.5 1470.7L687.5 1469.3L692.0 1466.8L696.8 1465.0L701.4 1462.8L706.1 1460.9L712.1 1460.1L717.9 1458.5L723.6 1456.0L729.7 1455.0L734.5 1454.8L739.2 1456.2L744.0 1457.6L748.6 1459.7L753.3 1460.5L758.1 1459.0L762.8 1459.7L768.6 1459.6L774.4 1460.3L780.0 1462.1L784.4 1466.8L789.2 1473.9L793.6 1471.6L798.5 1471.0L803.3 1470.3L809.2 1471.1L815.1 1471.5L822.2 1476.2L826.7 1478.2L831.6 1478.6M352.2 1321.7L352.4 1326.5L352.9 1331.2L354.5 1335.8L361.6 1340.5L355.7 1341.7L360.3 1343.0L363.9 1346.8L368.7 1347.6L371.7 1352.0L373.4 1357.1L374.2 1363.0L375.8 1368.9L373.4 1375.9L373.2 1380.9L371.0 1385.4L366.1 1386.6L361.6 1388.9L354.5 1393.6L359.2 1397.2L361.6 1404.3L358.6 1408.4L354.5 1411.3L359.2 1418.4L361.6 1425.5L366.1 1428.3L371.0 1430.2L374.2 1434.1L378.1 1437.3L381.2 1440.7L385.2 1443.2L390.0 1446.0L394.6 1449.1L400.2 1452.3L406.4 1453.8L411.8 1457.8L418.2 1459.7L423.4 1461.9L427.7 1465.6L432.4 1466.8L437.1 1468.0L441.3 1471.3L446.5 1472.7L452.2 1476.2L458.3 1478.6L464.3 1481.2L470.1 1484.0M373.4 1357.1L380.5 1354.7L385.4 1358.0L389.9 1361.8L390.7 1368.0L393.5 1373.6L389.9 1375.9L387.9 1381.7L387.6 1387.7L380.5 1385.4L378.1 1380.9L376.9 1375.9L375.8 1368.9M786.8 20.7L792.7 22.6L798.6 20.7M908.3 20.7L912.3 24.0L916.6 26.6L921.4 26.3L926.0 25.0L931.2 23.8L935.5 20.7" fill="none" stroke="#000" stroke-width="3.3" stroke-linejoin="round" stroke-linecap="round"/>
<g clip-path="url(#basin)" id="raster">
<path d="M1011.0 322.8L1015.7 324.0L1022.8 327.0L1031.0 324.0L1039.3 318.5L1052.3 320.0L1058.2 326.3L1070.0 333.4L1077.1 338.1L1088.9 333.4L1105.4 332.2L1124.3 331.8L1136.1 333.4L1143.1 340.5L1152.6 339.3L1164.4 342.8L1180.9 345.2L1197.4 345.2L1211.6 351.1L1221.0 360.5L1237.5 364.1L1256.4 362.4L1272.9 361.7L1289.5 362.9L1296.5 372.3L1301.3 380.6L1313.1 375.9L1324.9 374.7L1335.0 377.1L1373.7 387.9L1386.6 391.4L1396.1 390.3L1399.6 384.4L1403.2 387.9L1405.5 393.8L1417.3 392.6L1433.8 395.0L1452.7 396.6L1453.9 403.2L1450.4 412.7L1445.6 424.5L1442.1 432.7L1444.5 441.0L1448.0 446.9L1457.4 451.6L1465.7 452.8L1474.0 457.5L1481.0 464.6L1485.8 472.9L1495.2 481.1L1502.3 487.0L1509.4 496.5L1518.8 498.1L1528.2 497.2L1536.5 497.6L1537.7 508.3L1547.1 513.0L1556.5 516.5L1566.0 520.1L1575.4 526.0L1586.0 535.4L1582.5 544.8L1576.6 551.9L1570.7 557.8L1563.6 564.9L1554.2 570.8L1550.6 580.2L1543.6 589.7L1549.5 596.7L1543.6 605.0L1547.1 612.1L1544.7 620.3L1535.3 626.2L1525.9 628.6L1518.8 634.5L1511.7 639.2L1507.0 648.7L1495.2 653.4L1483.4 652.2L1471.6 647.5L1457.4 646.3L1443.3 640.4L1431.5 637.3L1424.4 636.9L1412.6 642.8L1398.4 638.0L1389.0 635.7L1385.5 628.6L1377.2 622.7L1368.9 616.8L1363.0 615.6L1360.7 606.2L1354.8 597.9L1357.1 589.7L1346.5 583.8L1337.1 582.6L1330.0 579.1L1320.1 580.2L1308.3 584.9L1294.2 593.2L1282.4 594.4L1272.9 590.8L1265.9 593.2L1254.1 589.7L1239.9 593.2L1230.5 596.7L1223.4 592.0L1213.9 594.4L1199.8 593.2L1195.1 587.3L1185.6 586.1L1176.2 590.8L1166.7 587.3L1159.7 582.6L1150.2 590.8L1139.6 594.4L1129.0 589.7L1121.9 590.8L1110.1 589.7L1101.8 593.2L1092.4 590.8L1086.5 587.3L1084.1 580.2L1079.4 575.5L1070.0 573.2L1060.5 572.7L1057.0 582.6L1052.3 594.4L1054.6 603.8L1051.1 609.7L1039.3 613.3L1029.9 618.0L1022.8 627.4L1013.3 635.7L1008.6 643.9L1002.7 653.4L996.8 658.1L993.3 668.7L988.6 679.3L983.8 687.6L977.9 694.7L980.3 700.6L986.2 707.7L998.0 708.8L999.2 717.1L1002.7 724.2L999.2 736.0L1000.4 745.4L1001.5 752.0L996.8 755.1L989.7 759.8L982.7 769.2L975.6 771.6L966.2 770.4L959.1 776.3L952.0 782.2L940.2 783.9L928.4 785.8L927.2 791.7L928.4 797.6L922.5 803.5L916.6 809.4L917.8 818.8L916.6 830.6L914.2 838.9L909.5 843.6L913.1 850.7L907.2 854.2L897.7 853.0L895.4 858.9L898.9 866.0L895.4 873.1L889.5 879.0L887.1 887.2L890.6 893.1L900.1 895.5L909.5 895.5L916.6 901.4L920.1 908.5L921.3 913.2L930.8 916.7L937.8 920.3L937.8 927.4L941.4 933.3L943.7 939.2L940.2 948.6L933.1 956.8L929.6 962.7L931.9 969.8L935.5 976.9L944.9 979.3L950.8 980.4L954.4 984.0L963.8 985.2L973.2 988.2L980.3 993.4L988.6 995.8L982.7 998.1L979.1 1006.4L974.4 1012.3L963.8 1015.8L954.4 1018.2L949.6 1026.5L942.6 1032.4L937.8 1040.6L930.8 1048.9L924.9 1054.8L919.0 1056.7L924.9 1061.9L931.9 1067.8L935.5 1074.8L937.8 1083.1L939.0 1092.5L936.7 1102.0L934.3 1111.4L931.9 1118.0L928.4 1117.5L916.6 1118.7L906.0 1119.9L897.7 1128.2L890.6 1137.6L884.7 1149.4L884.7 1161.2L883.6 1169.5L878.8 1176.5L883.6 1181.3L889.5 1184.8L885.9 1193.1L878.8 1195.4L871.8 1196.6L864.7 1194.2L855.2 1196.6L841.1 1201.3L831.6 1207.2L822.2 1211.9L819.8 1217.8L821.0 1224.9L815.1 1229.6L806.9 1233.2L805.7 1241.4L806.9 1248.5L804.5 1253.2L810.4 1256.8L805.7 1265.0L802.1 1274.5L805.7 1281.6L798.6 1286.3L793.9 1291.0L790.3 1298.1L782.1 1300.4L775.0 1302.8L777.4 1309.9L782.1 1319.3L779.7 1326.4L777.4 1335.8L775.0 1338.2L774.6 1334.6L762.8 1333.5L751.0 1335.8L739.2 1334.6L729.7 1326.4L722.7 1327.6L712.0 1321.7L706.1 1315.8L692.0 1318.1L677.8 1319.3L663.7 1320.5L649.5 1324.0L647.1 1328.7L640.1 1334.6L630.6 1339.4L621.2 1335.8L609.4 1329.9L597.6 1322.8L592.9 1316.9L578.7 1316.9L571.6 1313.4L566.9 1314.6L557.5 1321.7L550.4 1328.7L550.4 1338.2L545.7 1345.3L536.2 1346.4L524.4 1341.7L513.8 1341.7L505.5 1334.6L498.5 1332.3L489.0 1337.0L477.2 1345.3L465.4 1351.9L446.5 1357.1L427.7 1360.6L408.8 1363.0L394.6 1364.6L392.3 1360.6L387.6 1354.7L380.5 1350.0L371.0 1346.4L366.3 1341.7L364.0 1335.8L359.2 1331.1L352.2 1321.7L349.8 1312.2L348.6 1302.8L342.7 1298.1L335.6 1296.9L327.4 1295.7L328.6 1288.6L326.2 1279.2L321.5 1272.1L319.1 1265.0L330.9 1265.0L333.3 1260.3L328.6 1253.2L325.0 1246.2L316.8 1241.4L305.0 1236.7L297.9 1229.6L292.0 1220.2L290.8 1210.8L295.5 1202.5L299.1 1194.2L303.8 1184.8L301.4 1175.4L302.6 1168.3L299.1 1157.7L305.0 1147.0L302.6 1135.2L306.1 1123.4L301.4 1114.0L307.3 1111.4L314.4 1115.0L323.8 1116.1L328.6 1112.6L332.1 1104.3L330.9 1097.3L336.8 1089.0L335.6 1080.7L334.5 1068.9L340.4 1059.5L342.7 1050.1L349.8 1041.8L354.5 1038.3L352.2 1026.5L354.5 1017.0L361.6 1007.6L365.8 998.1L364.0 988.7L366.3 982.8L378.1 975.7L382.8 966.3L389.9 959.2L389.9 948.6L388.7 939.2L394.6 930.9L400.5 922.6L401.7 915.6L394.6 910.8L387.6 904.9L378.1 903.8L368.7 899.0L364.0 889.6L367.5 876.6L375.8 868.4L385.2 861.3L388.7 854.2L389.9 844.8L392.3 835.3L394.6 825.9L389.9 817.6L380.5 812.9L380.5 804.6L385.2 795.2L387.6 785.8L395.8 776.3L404.1 770.4L401.7 764.5L400.5 755.1L397.0 748.0L395.8 740.7L398.2 731.3L406.4 724.2L413.5 723.7L422.9 720.6L427.7 712.4L428.8 701.8L425.3 693.5L424.8 686.4L424.1 675.8L425.3 667.5L432.4 662.8L444.2 660.5L456.0 655.7L464.2 652.2L472.5 653.9L481.9 653.4L491.4 648.2L503.2 647.5L510.3 645.8L522.1 634.5L529.1 627.4L538.6 625.1L550.4 622.7L562.2 618.0L572.8 612.1L579.9 603.8L589.3 597.9L597.6 590.8L609.4 589.2L623.5 588.5L631.8 584.9L635.3 575.5L643.6 570.8L649.5 561.4L661.3 556.2L675.5 553.8L686.1 551.9L694.3 546.0L699.1 538.9L706.1 528.3L712.0 524.8L717.9 528.3L725.0 525.5L743.9 524.8L758.1 521.2L759.2 509.4L769.9 505.9L780.0 503.5L784.4 498.8L798.6 492.9L816.3 485.8L821.0 481.1L813.9 475.2L804.5 467.0L806.9 459.9L813.9 456.3L815.1 448.1L826.9 443.8L834.0 437.5L843.4 435.8L848.2 428.0L857.6 424.5L869.4 420.9L878.8 422.1L888.3 417.4L897.7 406.8L907.2 398.5L914.2 389.1L921.3 382.0L928.4 378.2L940.2 370.0L950.8 364.8L961.4 360.5L967.3 353.5L970.9 346.4L975.6 338.1L982.7 335.8L988.6 333.4L992.1 326.3L1001.5 322.8L1011.0 322.8Z" fill="#0a6a40" fill-opacity="0.35"/>
<g transform="translate(284.312 311.704) scale(5.5542 5.5587)" fill="none" stroke-width="1">
<path stroke="#003c1c" d="M1 162h1m1 0h1m-2 1h1m1 0h1m-2 1h1m1 0h1m-4 1h1m9 16h1m0 1h1"/>
<path stroke="#003c1c" d="M3 161h1m0 1h1m-4 1h1m1 0h1m1 0h1m-2 1h1m1 4h1m7 14h1m-2 1h1m0 1h1"/>
<path stroke="#003f1e" d="M22 137h1m-14 1h1m-7 6h1m0 1h1m11 0h1m-14 1h1m0 1h1m11 0h1m-14 1h1m0 1h1m-2 1h1m-1 2h1m1 0h1m-3 6h1m-2 1h1m1 0h1m-2 1h1m1 0h1m-4 1h1m1 0h1m5 0h1m11 0h1m-18 1h1m0 1h1m7 0h1m1 0h1m-16 1h1m11 0h1m1 0h1m1 0h1m-14 1h1m1 0h1m1 0h1m5 0h1m1 0h1m5 0h1m-20 1h1m1 0h1m1 0h1m1 0h1m5 0h1m1 0h1m-14 1h1m1 0h1m1 0h1m5 0h1m3 0h1m1 0h1m-14 1h1m1 0h1m5 0h1m1 0h1m3 0h1m-12 1h1m3 0h1m1 0h1m1 0h1m1 0h1m1 0h1m-14 1h1m1 0h1m3 0h1m1 0h1m3 0h1m1 0h1m-16 1h1m1 0h1m5 0h1m1 0h1m1 0h1m1 0h1m-16 1h1m1 0h1m1 0h1m1 0h1m1 0h1m3 0h1m1 0h1m-16 1h1m1 0h1m1 0h1m1 0h1m7 0h1m-14 1h1m1 0h1m1 0h1m1 0h1m-6 1h1m1 0h1m1 0h1m9 0h1m-14 1h1m1 0h1m1 0h1m7 0h1m-14 1h1m1 0h1m1 0h1m7 0h1m1 0h1m-12 1h1m1 0h1m7 0h1m1 0h1m-12 1h1m1 0h1m1 0h1m1 0h1m1 0h1m1 0h1m-12 1h1m1 0h1m1 0h1m1 0h1m1 0h1m1 0h1m-8 1h1m1 0h1m1 0h1m-4 1h1m1 0h1m1 0h1m-6 1h1m1 0h1m1 0h1m-4 1h1m1 0h1m-4 1h1m1 0h1m-2 1h1"/>
<path stroke="#003f1e" d="M26 130h1m-5 6h1m-14 1h1m13 0h1m-14 1h1m-2 1h1m-6 5h1m-2 1h1m1 0h1m-2 1h1m11 0h1m-14 1h1m0 1h1m-2 1h1m1 0h1m-2 1h1m-2 1h1m1 2h1m-2 5h1m-2 1h1m1 0h1m-4 1h1m1 0h1m-4 1h1m7 0h1m-8 1h1m12 1h1m-14 1h1m3 0h1m1 0h1m3 0h1m3 0h1m5 0h1m-20 1h1m1 0h1m1 0h1m1 0h1m5 0h1m1 0h1m-14 1h1m1 0h1m1 0h1m5 0h1m1 0h1m3 0h1m-16 1h1m1 0h1m7 0h1m1 0h1m1 0h1m-10 1h1m3 0h1m1 0h1m1 0h1m1 0h1m-14 1h1m1 0h1m1 0h1m3 0h1m1 0h1m3 0h1m1 0h1m-16 1h1m1 0h1m5 0h1m5 0h1m-14 1h1m1 0h1m3 0h1m1 0h1m3 0h1m1 0h1m-18 1h1m1 0h1m1 0h1m1 0h1m5 0h1m1 0h1m1 0h1m-16 1h1m1 0h1m1 0h1m1 0h1m-6 1h1m1 0h1m1 0h1m-6 1h1m1 0h1m1 0h1m1 0h1m-4 1h1m1 0h1m9 0h1m-16 1h1m1 0h1m1 0h1m1 0h1m7 0h1m1 0h1m-12 1h1m1 0h1m5 0h1m1 0h1m-12 1h1m1 0h1m1 0h1m1 0h1m1 0h1m1 0h1m1 0h1m-12 1h1m1 0h1m1 0h1m1 0h1m1 0h1m-8 1h1m3 0h1m1 0h1m-8 1h1m3 0h1m1 0h1m-4 1h1m1 0h1m1 0h1m-4 1h1m1 0h1m-4 1h1m1 0h1m-2 1h1"/>
<path stroke="#004220" d="M22 77h1m-3 2h1m1 0h1m-2 1h1m4 5h1m-9 2h1m-2 1h1m1 0h1m1 0h1m-4 1h1m1 0h1m1 0h1m-6 1h1m1 0h1m1 0h1m5 0h1m1 0h1m-12 1h1m1 0h1m7 0h1m1 0h1m-12 1h1m1 0h1m3 0h1m1 0h1m-2 1h1m1 0h1m-10 1h1m1 8h1m1 0h1m-10 1h1m5 0h1m1 0h1m3 0h1m-6 1h1m1 0h1m1 0h1m-12 1h1m5 0h1m1 0h1m-6 1h1m3 0h1m-2 1h1m-2 7h1m-1 2h1m-2 1h1m6 1h1m-11 2h1m7 0h1m-10 1h1m1 0h1m1 0h1m1 0h1m-6 1h1m3 0h1m1 0h1m3 0h1m-12 1h1m1 0h1m1 0h1m-4 1h1m1 0h1m1 0h1m5 0h1m-12 1h1m1 0h1m9 0h1m-14 1h1m1 0h1m1 0h1m7 0h1m-14 1h1m1 0h1m1 0h1m1 0h1m9 0h1m-16 1h1m1 0h1m1 0h1m9 0h1m-16 1h1m1 0h1m1 0h1m1 0h1m5 0h1m1 0h1m1 0h1m-16 1h1m3 0h1m1 0h1m1 0h1m1 0h1m1 0h1m1 0h1m-16 1h1m1 0h1m3 0h1m1 0h1m1 0h1m1 0h1m1 0h1m-16 1h1m1 0h1m5 0h1m1 0h1m1 0h1m1 0h1m-16 1h1m1 0h1m9 0h1m1 0h1m1 0h1m-16 1h1m1 0h1m5 0h1m1 0h1m1 0h1m1 0h1m-16 1h1m1 0h1m1 0h1m1 0h1m1 0h1m1 0h1m1 0h1m1 0h1m-16 1h1m1 0h1m7 0h1m1 0h1m1 0h1m1 0h1m-16 1h1m1 0h1m7 0h1m3 0h1m-14 1h1m1 0h1m3 0h1m1 0h1m1 0h1m1 0h1m1 0h1m-16 1h1m1 0h1m1 0h1m5 0h1m1 0h1m1 0h1m-16 1h1m1 0h1m11 0h1m-16 1h1m1 0h1m1 0h1m7 0h1m1 0h1m1 0h1m-16 1h1m1 0h1m1 0h1m3 0h1m1 0h1m-12 1h1m1 0h1m1 0h1m3 0h1m1 0h1m1 0h1m5 0h1m-20 1h1m1 0h1m5 0h1m1 0h1m1 0h1m3 0h1m-18 1h1m1 0h1m1 0h1m3 0h1m3 0h1m-14 1h1m1 0h1m1 0h1m3 0h1m1 0h1m1 0h1m-12 1h1m3 0h1m3 0h1m-10 1h1m1 0h1m1 0h1m5 0h1m1 0h1m-12 1h1m1 0h1m1 0h1m-6 1h1m1 0h1m1 0h1m-6 1h1m1 0h1m1 0h1m-7 2h1m1 0h1m1 0h1m-4 1h1m1 0h1m1 0h1m23 0h1m-26 1h1m3 0h1m-8 1h1m1 0h1m1 0h1m1 0h1m25 0h1m-32 1h1m1 0h1m1 0h1m25 0h1m-30 1h1m1 0h1m1 0h1m11 0h1m-16 1h1m1 0h1m-2 1h1m1 0h1m3 0h1m7 0h1m1 0h1m1 0h1m-20 1h1m1 0h1m3 0h1m1 0h1m3 0h1m1 0h1m3 0h1m5 0h1m-24 1h1m1 0h1m1 0h1m1 0h1m1 0h1m1 0h1m3 0h1m1 0h1m1 0h1m-18 1h1m1 0h1m1 0h1m5 0h1m1 0h1m1 0h1m1 0h1m3 0h1m-22 1h1m1 0h1m1 0h1m9 0h1m1 0h1m1 0h1m-16 1h1m1 0h1m5 0h1m1 0h1m3 0h1m-14 1h1m1 0h1m5 0h1m1 0h1m1 0h1m7 0h1m-22 1h1m1 0h1m3 0h1m5 0h1m1 0h1m1 0h1m-16 1h1m1 0h1m5 0h1m3 0h1m-16 1h1m3 0h1m11 0h1m-12 1h1m5 0h1m5 0h1m-14 1h1m1 0h1m9 0h1m-8 1h1m5 0h1m-10 1h1m1 0h1m1 0h1m3 0h1m-8 1h1m1 0h1m1 0h1m1 0h1m1 0h1m1 0h1m-12 1h1m3 0h1m1 0h1m3 0h1m1 0h1m-12 1h1m3 0h1m3 0h1m1 0h1m1 0h1m-14 1h1m1 0h1m1 0h1m5 0h1m3 0h1m-14 1h1m1 0h1m1 0h1m5 0h1m-2 1h1m-2 1h1m1 0h1m-6 1h1m1 0h1m1 0h1m3 0h1m-8 1h1m3 0h1m-6 1h1m5 0h1m-8 1h1m1 0h1m-4 1h1m1 0h1m1 0h1m1 0h1m-8 1h1m1 0h1m1 0h1m1 0h1m1 0h1m-8 1h1m1 0h1m1 0h1m-4 1h1m3 0h1m-4 1h1m3 0h1"/>
<path stroke="#004220" d="M22 78h1m-4 7h1m-2 1h1m0 1h1m1 0h1m5 0h1m-10 1h1m1 0h1m1 0h1m5 0h1m-12 1h1m1 0h1m1 0h1m-4 1h1m1 0h1m-2 1h1m7 0h1m1 0h1m-10 1h1m5 0h1m1 0h1m-10 1h1m5 0h1m1 0h1m-8 1h1m-2 7h1m1 2h1m0 1h1m1 0h1m-4 1h1m1 0h1m1 0h1m-6 1h1m-2 1h1m1 0h1m-3 8h1m-3 4h1m-2 1h1m-2 1h1m3 0h1m5 0h1m-12 1h1m3 0h1m1 0h1m1 0h1m-8 1h1m1 0h1m1 0h1m1 0h1m-8 1h1m1 0h1m1 0h1m5 0h1m1 0h1m-12 1h1m1 0h1m7 0h1m-12 1h1m1 0h1m1 0h1m-6 1h1m1 0h1m1 0h1m9 0h1m-16 1h1m1 0h1m1 0h1m1 0h1m7 0h1m-14 1h1m3 0h1m7 0h1m-14 1h1m1 0h1m3 0h1m1 0h1m3 0h1m3 0h1m-16 1h1m5 0h1m1 0h1m1 0h1m1 0h1m1 0h1m-16 1h1m7 0h1m1 0h1m1 0h1m3 0h1m-18 1h1m1 0h1m5 0h1m5 0h1m-16 1h1m1 0h1m5 0h1m5 0h1m-16 1h1m1 0h1m3 0h1m1 0h1m1 0h1m1 0h1m1 0h1m-14 1h1m1 0h1m7 0h1m3 0h1m-14 1h1m1 0h1m5 0h1m1 0h1m3 0h1m-14 1h1m1 0h1m5 0h1m1 0h1m1 0h1m-14 1h1m1 0h1m5 0h1m1 0h1m1 0h1m-14 1h1m1 0h1m1 0h1m5 0h1m1 0h1m-14 1h1m1 0h1m1 0h1m7 0h1m1 0h1m-16 1h1m1 0h1m1 0h1m3 0h1m1 0h1m1 0h1m5 0h1m-18 1h1m1 0h1m3 0h1m1 0h1m1 0h1m7 0h1m-20 1h1m1 0h1m3 0h1m1 0h1m1 0h1m1 0h1m-14 1h1m1 0h1m3 0h1m1 0h1m1 0h1m-12 1h1m1 0h1m1 0h1m1 0h1m5 0h1m-14 1h1m1 0h1m1 0h1m5 0h1m1 0h1m-12 1h1m1 0h1m1 0h1m5 0h1m-10 1h1m1 0h1m1 0h1m-6 1h1m1 0h1m-4 1h1m3 0h1m-8 1h1m1 0h1m1 0h1m3 0h1m-8 1h1m3 0h1m-4 1h1m1 0h1m-2 1h1m1 0h1m1 0h1m1 0h1m-8 1h1m1 0h1m1 0h1m1 0h1m23 0h1m-32 1h1m1 0h1m1 0h1m1 0h1m-4 1h1m1 0h1m11 0h1m-14 1h1m1 0h1m-4 1h1m1 0h1m1 0h1m1 0h1m1 0h1m5 0h1m1 0h1m5 0h1m-24 1h1m1 0h1m3 0h1m1 0h1m1 0h1m3 0h1m1 0h1m1 0h1m1 0h1m3 0h1m1 0h1m-26 1h1m1 0h1m1 0h1m1 0h1m1 0h1m1 0h1m3 0h1m1 0h1m1 0h1m3 0h1m-22 1h1m1 0h1m1 0h1m1 0h1m3 0h1m3 0h1m1 0h1m1 0h1m1 0h1m-18 1h1m3 0h1m3 0h1m1 0h1m3 0h1m3 0h1m-18 1h1m1 0h1m5 0h1m1 0h1m1 0h1m-14 1h1m1 0h1m5 0h1m3 0h1m1 0h1m-16 1h1m1 0h1m1 0h1m7 0h1m1 0h1m3 0h1m3 0h1m-24 1h1m3 0h1m9 0h1m1 0h1m-12 1h1m5 0h1m-8 1h1m1 0h1m3 0h1m1 0h1m3 0h1m-12 1h1m5 0h1m5 0h1m-12 1h1m1 0h1m9 0h1m-12 1h1m1 0h1m1 0h1m1 0h1m1 0h1m1 0h1m-12 1h1m1 0h1m1 0h1m1 0h1m1 0h1m1 0h1m1 0h1m-10 1h1m1 0h1m1 0h1m1 0h1m1 0h1m-18 1h1m5 0h1m1 0h1m1 0h1m1 0h1m3 0h1m3 0h1m-14 1h1m1 0h1m1 0h1m5 0h1m-10 1h1m1 0h1m5 0h1m3 0h1m-4 1h1m-4 1h1m1 0h1m-10 1h1m5 0h1m1 0h1m1 0h1m-6 1h1m3 0h1m1 0h1m-2 1h1m1 0h1m-8 1h1m1 0h1m-4 1h1m1 0h1m1 0h1m1 0h1m-8 1h1m1 0h1m1 0h1m1 0h1m-8 1h1m1 0h1m1 0h1m-4 1h1m1 0h1m1 0h1m1 0h1m-6 1h1m1 0h1m1 0h1"/>
<path stroke="#004623" d="M25 66h1m13 4h1m-19 6h1m1 0h1m5 0h1m3 0h1m3 0h1m-18 1h1m3 0h1m3 0h1m1 0h1m-10 1h1m1 0h1m1 0h1m1 0h1m5 0h1m1 0h1m-12 1h1m1 0h1m-4 1h1m1 0h1m1 0h1m1 0h1m1 0h1m1 0h1m1 0h1m-14 1h1m1 0h1m5 0h1m1 0h1m1 0h1m-14 1h1m1 0h1m1 0h1m3 0h1m1 0h1m1 0h1m1 0h1m-12 1h1m1 0h1m1 0h1m3 0h1m1 0h1m1 0h1m-18 1h1m5 0h1m1 0h1m1 0h1m1 0h1m1 0h1m-16 1h1m5 0h1m3 0h1m1 0h1m1 0h1m1 0h1m-16 1h1m3 0h1m1 0h1m1 0h1m1 0h1m5 0h1m-16 1h1m1 0h1m1 0h1m1 0h1m1 0h1m1 0h1m-8 1h1m3 0h1m1 0h1m-6 1h1m1 0h1m1 0h1m1 0h1m1 0h1m-10 1h1m1 0h1m5 0h1m-10 1h1m1 0h1m1 0h1m-4 1h1m5 0h1m1 0h1m1 0h1m3 0h1m-18 1h1m1 0h1m1 0h1m5 0h1m7 0h1m-18 1h1m3 0h1m1 0h1m1 0h1m5 0h1m1 0h1m1 0h1m-20 1h1m3 0h1m9 0h1m-16 1h1m1 0h1m7 0h1m1 0h1m1 0h1m1 0h1m-18 1h1m1 0h1m1 0h1m7 0h1m-12 1h1m1 0h1m1 0h1m3 0h1m1 0h1m1 0h1m1 0h1m1 0h1m-18 1h1m1 0h1m1 0h1m1 0h1m1 0h1m1 0h1m1 0h1m-14 1h1m1 0h1m1 0h1m1 0h1m1 0h1m1 0h1m1 0h1m1 0h1m-14 1h1m1 0h1m1 0h1m1 0h1m1 0h1m1 0h1m-14 1h1m1 0h1m1 0h1m5 0h1m1 0h1m1 0h1m1 0h1m-16 1h1m1 0h1m5 0h1m3 0h1m1 0h1m1 0h1m-18 1h1m1 0h1m1 0h1m7 0h1m1 0h1m1 0h1m-16 1h1m1 0h1m5 0h1m1 0h1m1 0h1m1 0h1m1 0h1m1 0h1m-20 1h1m3 0h1m3 0h1m1 0h1m3 0h1m1 0h1m1 0h1m-16 1h1m3 0h1m1 0h1m1 0h1m5 0h1m1 0h1m-16 1h1m1 0h1m3 0h1m5 0h1m1 0h1m-12 1h1m3 0h1m3 0h1m3 0h1m-14 1h1m3 0h1m-6 1h1m1 0h1m1 0h1m-6 1h1m1 0h1m1 0h1m1 0h1m-8 1h1m1 0h1m1 0h1m-2 1h1m1 0h1m-4 1h1m3 0h1m-2 1h1m1 0h1m-6 1h1m1 0h1m1 0h1m1 0h1m1 0h1m-12 1h1m5 0h1m3 0h1m3 0h1m-14 1h1m1 0h1m1 0h1m1 0h1m1 0h1m3 0h1m1 0h1m-16 1h1m1 0h1m1 0h1m3 0h1m1 0h1m1 0h1m1 0h1m-10 1h1m1 0h1m1 0h1m3 0h1m1 0h1m-16 1h1m5 0h1m3 0h1m1 0h1m1 0h1m1 0h1m-14 1h1m1 0h1m1 0h1m1 0h1m1 0h1m1 0h1m1 0h1m-12 1h1m1 0h1m3 0h1m1 0h1m1 0h1m-14 1h1m1 0h1m1 0h1m1 0h1m3 0h1m1 0h1m-12 1h1m1 0h1m1 0h1m3 0h1m1 0h1m-10 1h1m1 0h1m1 0h1m1 0h1m3 0h1m1 0h1m1 0h1m-16 1h1m1 0h1m1 0h1m1 0h1m3 0h1m1 0h1m1 0h1m-14 1h1m1 0h1m7 0h1m-16 1h1m13 0h1m3 0h1m-18 1h1m11 0h1m-14 1h1m1 0h1m9 0h1m1 0h1m-16 1h1m1 0h1m1 0h1m1 0h1m7 0h1m-14 1h1m1 0h1m9 0h1m-2 1h1m1 0h1m-16 1h1m1 0h1m1 0h1m9 0h1m-14 1h1m1 0h1m1 0h1m7 0h1m1 0h1m-14 1h1m13 0h1m-14 1h1m1 0h1m7 0h1m1 0h1m1 0h1m1 0h1m-20 1h1m1 0h1m1 0h1m1 0h1m1 0h1m3 0h1m1 0h1m1 0h1m1 0h1m-18 1h1m1 0h1m1 0h1m7 0h1m1 0h1m1 0h1m-16 1h1m5 0h1m1 0h1m1 0h1m1 0h1m1 0h1m-16 1h1m9 0h1m3 0h1m-18 1h1m1 0h1m7 0h1m3 0h1m1 0h1m1 0h1m-18 1h1m7 0h1m1 0h1m1 0h1m1 0h1m1 0h1m1 0h1m-20 1h1m7 0h1m1 0h1m1 0h1m1 0h1m1 0h1m1 0h1m-22 1h1m3 0h1m5 0h1m1 0h1m1 0h1m1 0h1m1 0h1m-16 1h1m1 0h1m5 0h1m1 0h1m1 0h1m1 0h1m7 0h1m-22 1h1m1 0h1m1 0h1m1 0h1m1 0h1m1 0h1m3 0h1m3 0h1m1 0h1m-22 1h1m1 0h1m1 0h1m1 0h1m5 0h1m1 0h1m7 0h1m-24 1h1m1 0h1m1 0h1m1 0h1m7 0h1m1 0h1m1 0h1m3 0h1m-26 1h1m1 0h1m1 0h1m1 0h1m1 0h1m1 0h1m1 0h1m3 0h1m1 0h1m1 0h1m1 0h1m1 0h1m1 0h1m-26 1h1m1 0h1m1 0h1m1 0h1m1 0h1m1 0h1m1 0h1m3 0h1m1 0h1m1 0h1m1 0h1m1 0h1m-24 1h1m1 0h1m1 0h1m1 0h1m1 0h1m1 0h1m1 0h1m1 0h1m1 0h1m3 0h1m3 0h1m1 0h1m1 0h1m-34 1h1m3 0h1m3 0h1m1 0h1m3 0h1m1 0h1m1 0h1m1 0h1m1 0h1m3 0h1m1 0h1m1 0h1m1 0h1m1 0h1m-28 1h1m1 0h1m1 0h1m5 0h1m1 0h1m3 0h1m1 0h1m1 0h1m1 0h1m-24 1h1m1 0h1m1 0h1m3 0h1m1 0h1m1 0h1m1 0h1m1 0h1m1 0h1m1 0h1m1 0h1m3 0h1m-26 1h1m1 0h1m1 0h1m3 0h1m3 0h1m1 0h1m1 0h1m3 0h1m1 0h1m1 0h1m-26 1h1m1 0h1m1 0h1m1 0h1m1 0h1m1 0h1m1 0h1m1 0h1m1 0h1m1 0h1m1 0h1m1 0h1m1 0h1m1 0h1m-26 1h1m3 0h1m1 0h1m1 0h1m7 0h1m1 0h1m1 0h1m1 0h1m1 0h1m1 0h1m-22 1h1m9 0h1m1 0h1m3 0h1m1 0h1m1 0h1m-18 1h1m7 0h1m1 0h1m1 0h1m-6 1h1m3 0h1m1 0h1m-14 1h1m7 0h1m1 0h1m1 0h1m1 0h1m-8 1h1m1 0h1m1 0h1m1 0h1m1 0h1m1 0h1m-12 1h1m1 0h1m1 0h1m3 0h1m-6 1h1m1 0h1m1 0h1m-8 1h1m1 0h1m1 0h1m1 0h1m1 0h1m1 0h1m-10 1h1m1 0h1m1 0h1m1 0h1m1 0h1m1 0h1m-10 1h1m1 0h1m1 0h1m1 0h1m1 0h1m1 0h1m-12 1h1m1 0h1m1 0h1m1 0h1m1 0h1m1 0h1m-12 1h1m1 0h1m1 0h1m1 0h1m1 0h1m-10 1h1m1 0h1m1 0h1m1 0h1m1 0h1m1 0h1m-8 1h1m1 0h1m1 0h1m-16 1h1m11 0h1m1 0h1m-14 1h1m11 0h1m-4 1h1m3 0h1m-4 1h1m1 0h1m-4 1h1m1 0h1m1 0h1m-4 1h1m1 0h1m1 0h1m-6 1h1m3 0h1m-8 1h1m3 0h1m1 0h1m1 0h1m-10 1h1m1 0h1m3 0h1m1 0h1m-8 1h1m1 0h1m1 0h1m1 0h1m-4 1h1m-3 2h1m1 0h1m1 0h1m-8 1h1m3 0h1m-4 1h1"/>
<path stroke="#004623" d="M25 67h1m-6 9h1m11 0h1m-12 1h1m3 0h1m3 0h1m7 0h1m-18 1h1m3 0h1m3 0h1m-8 1h1m1 0h1m3 0h1m-6 1h1m1 0h1m5 0h1m1 0h1m-12 1h1m1 0h1m1 0h1m3 0h1m1 0h1m1 0h1m1 0h1m-14 1h1m3 0h1m1 0h1m1 0h1m1 0h1m1 0h1m1 0h1m-16 1h1m3 0h1m1 0h1m1 0h1m3 0h1m-14 1h1m3 0h1m1 0h1m1 0h1m1 0h1m1 0h1m-8 1h1m1 0h1m1 0h1m1 0h1m1 0h1m-14 1h1m3 0h1m1 0h1m1 0h1m1 0h1m-8 1h1m1 0h1m3 0h1m-4 1h1m-4 1h1m1 0h1m1 0h1m1 0h1m1 0h1m-10 1h1m1 0h1m1 0h1m1 0h1m1 0h1m1 0h1m-12 1h1m1 0h1m1 0h1m5 0h1m-10 1h1m1 0h1m5 0h1m1 0h1m1 0h1m-14 1h1m1 0h1m5 0h1m7 0h1m-14 1h1m1 0h1m1 0h1m5 0h1m1 0h1m1 0h1m-20 1h1m1 0h1m1 0h1m5 0h1m1 0h1m1 0h1m3 0h1m1 0h1m-20 1h1m1 0h1m7 0h1m1 0h1m1 0h1m-16 1h1m1 0h1m7 0h1m3 0h1m1 0h1m-18 1h1m1 0h1m1 0h1m1 0h1m1 0h1m1 0h1m1 0h1m1 0h1m1 0h1m-18 1h1m1 0h1m1 0h1m1 0h1m1 0h1m1 0h1m1 0h1m1 0h1m-16 1h1m1 0h1m1 0h1m1 0h1m1 0h1m1 0h1m3 0h1m-16 1h1m1 0h1m3 0h1m1 0h1m1 0h1m1 0h1m1 0h1m-16 1h1m1 0h1m1 0h1m1 0h1m1 0h1m1 0h1m1 0h1m3 0h1m1 0h1m-18 1h1m1 0h1m1 0h1m3 0h1m1 0h1m1 0h1m1 0h1m1 0h1m-18 1h1m3 0h1m1 0h1m5 0h1m1 0h1m1 0h1m1 0h1m1 0h1m-20 1h1m1 0h1m1 0h1m7 0h1m1 0h1m1 0h1m1 0h1m1 0h1m-20 1h1m1 0h1m3 0h1m1 0h1m1 0h1m3 0h1m1 0h1m1 0h1m-12 1h1m1 0h1m5 0h1m1 0h1m1 0h1m-16 1h1m1 0h1m1 0h1m1 0h1m5 0h1m-8 1h1m3 0h1m3 0h1m-14 1h1m1 0h1m1 0h1m7 0h1m-12 1h1m1 0h1m1 0h1m7 0h1m-14 1h1m1 0h1m11 0h1m-16 1h1m1 0h1m1 0h1m-4 1h1m1 0h1m1 0h1m3 0h1m-8 1h1m1 0h1m1 0h1m-6 1h1m3 0h1m3 0h1m-10 1h1m1 0h1m1 0h1m1 0h1m3 0h1m1 0h1m-14 1h1m1 0h1m3 0h1m1 0h1m5 0h1m-14 1h1m1 0h1m1 0h1m1 0h1m1 0h1m1 0h1m1 0h1m-14 1h1m1 0h1m1 0h1m1 0h1m1 0h1m1 0h1m1 0h1m1 0h1m-16 1h1m3 0h1m1 0h1m5 0h1m1 0h1m-16 1h1m7 0h1m1 0h1m3 0h1m-8 1h1m1 0h1m1 0h1m1 0h1m1 0h1m-12 1h1m1 0h1m5 0h1m1 0h1m1 0h1m3 0h1m-18 1h1m1 0h1m1 0h1m3 0h1m1 0h1m1 0h1m-12 1h1m1 0h1m1 0h1m1 0h1m1 0h1m1 0h1m-12 1h1m1 0h1m1 0h1m1 0h1m3 0h1m1 0h1m1 0h1m-14 1h1m1 0h1m1 0h1m3 0h1m1 0h1m1 0h1m-18 1h1m3 0h1m1 0h1m1 0h1m3 0h1m1 0h1m-14 1h1m5 0h1m7 0h1m-16 1h1m1 0h1m11 0h1m-16 1h1m1 0h1m1 0h1m7 0h1m3 0h1m-16 1h1m1 0h1m3 0h1m1 0h1m3 0h1m-14 1h1m1 0h1m3 0h1m1 0h1m3 0h1m1 0h1m-16 1h1m11 0h1m1 0h1m-14 1h1m1 0h1m1 0h1m7 0h1m1 0h1m-14 1h1m1 0h1m9 0h1m-12 1h1m1 0h1m7 0h1m-12 1h1m1 0h1m7 0h1m3 0h1m1 0h1m-16 1h1m1 0h1m5 0h1m1 0h1m1 0h1m1 0h1m1 0h1m-18 1h1m1 0h1m1 0h1m5 0h1m1 0h1m1 0h1m-16 1h1m7 0h1m1 0h1m3 0h1m-16 1h1m7 0h1m1 0h1m1 0h1m3 0h1m-18 1h1m9 0h1m1 0h1m1 0h1m1 0h1m-18 1h1m7 0h1m1 0h1m1 0h1m1 0h1m1 0h1m1 0h1m-16 1h1m5 0h1m1 0h1m1 0h1m1 0h1m1 0h1m1 0h1m-20 1h1m1 0h1m5 0h1m1 0h1m1 0h1m1 0h1m1 0h1m5 0h1m-22 1h1m1 0h1m3 0h1m1 0h1m1 0h1m1 0h1m1 0h1m3 0h1m-18 1h1m1 0h1m1 0h1m1 0h1m1 0h1m1 0h1m3 0h1m1 0h1m7 0h1m-28 1h1m1 0h1m1 0h1m1 0h1m1 0h1m5 0h1m1 0h1m5 0h1m-26 1h1m3 0h1m1 0h1m1 0h1m1 0h1m5 0h1m1 0h1m1 0h1m3 0h1m1 0h1m-26 1h1m3 0h1m1 0h1m1 0h1m1 0h1m3 0h1m1 0h1m1 0h1m1 0h1m1 0h1m1 0h1m-24 1h1m1 0h1m1 0h1m1 0h1m1 0h1m1 0h1m1 0h1m3 0h1m1 0h1m1 0h1m1 0h1m-24 1h1m1 0h1m1 0h1m1 0h1m3 0h1m1 0h1m1 0h1m1 0h1m1 0h1m1 0h1m1 0h1m1 0h1m1 0h1m1 0h1m-34 1h1m9 0h1m7 0h1m1 0h1m1 0h1m1 0h1m1 0h1m1 0h1m1 0h1m1 0h1m1 0h1m-26 1h1m1 0h1m3 0h1m1 0h1m1 0h1m1 0h1m1 0h1m1 0h1m1 0h1m1 0h1m3 0h1m1 0h1m-28 1h1m1 0h1m1 0h1m3 0h1m1 0h1m1 0h1m3 0h1m1 0h1m1 0h1m1 0h1m1 0h1m1 0h1m-28 1h1m1 0h1m1 0h1m3 0h1m3 0h1m1 0h1m1 0h1m1 0h1m1 0h1m1 0h1m1 0h1m-24 1h1m1 0h1m1 0h1m1 0h1m1 0h1m1 0h1m1 0h1m1 0h1m1 0h1m3 0h1m1 0h1m1 0h1m-20 1h1m1 0h1m5 0h1m1 0h1m3 0h1m1 0h1m1 0h1m1 0h1m-20 1h1m9 0h1m5 0h1m3 0h1m-20 1h1m7 0h1m3 0h1m1 0h1m3 0h1m-18 1h1m9 0h1m1 0h1m-6 1h1m3 0h1m1 0h1m-8 1h1m1 0h1m1 0h1m1 0h1m1 0h1m-8 1h1m1 0h1m1 0h1m1 0h1m1 0h1m1 0h1m-12 1h1m3 0h1m3 0h1m-8 1h1m1 0h1m1 0h1m1 0h1m1 0h1m-10 1h1m1 0h1m3 0h1m1 0h1m1 0h1m1 0h1m-12 1h1m1 0h1m1 0h1m1 0h1m1 0h1m1 0h1m-10 1h1m1 0h1m1 0h1m1 0h1m1 0h1m1 0h1m-14 1h1m3 0h1m1 0h1m1 0h1m1 0h1m-8 1h1m1 0h1m1 0h1m-4 1h1m1 0h1m-16 1h1m11 0h1m1 0h1m1 0h1m-6 1h1m3 0h1m-4 1h1m1 0h1m-4 1h1m3 0h1m-4 1h1m1 0h1m1 0h1m-6 1h1m1 0h1m1 0h1m-4 1h1m1 0h1m1 0h1m-10 1h1m5 0h1m1 0h1m1 0h1m-12 1h1m1 0h1m5 0h1m1 0h1m-8 1h1m1 0h1m1 0h1m1 0h1m-4 1h1m1 0h1m-4 1h1m-4 1h1m1 0h1m1 0h1m-2 1h1m-2 1h1"/>
<path stroke="#004925" d="M39 60h1m-2 1h1m-2 1h1m-12 1h1m1 0h1m3 0h1m3 0h1m3 0h1m-16 1h1m1 0h1m1 0h1m1 0h1m1 0h1m3 0h1m1 0h1m1 0h1m-16 1h1m1 0h1m1 0h1m1 0h1m3 0h1m1 0h1m1 0h1m1 0h1m-14 1h1m5 0h1m7 0h1m1 0h1m-20 1h1m7 0h1m1 0h1m1 0h1m1 0h1m1 0h1m-18 1h1m7 0h1m3 0h1m1 0h1m1 0h1m3 0h1m1 0h1m-12 1h1m1 0h1m-10 1h1m7 0h1m3 0h1m-14 1h1m9 0h1m1 0h1m1 0h1m-18 1h1m3 0h1m9 0h1m1 0h1m-16 1h1m1 0h1m9 0h1m1 0h1m1 0h1m3 0h1m-24 1h1m3 0h1m5 0h1m1 0h1m1 0h1m1 0h1m-20 1h1m1 0h1m1 0h1m1 0h1m1 0h1m1 0h1m1 0h1m1 0h1m1 0h1m1 0h1m3 0h1m1 0h1m-20 1h1m1 0h1m3 0h1m3 0h1m3 0h1m1 0h1m1 0h1m-18 1h1m5 0h1m1 0h1m1 0h1m1 0h1m1 0h1m1 0h1m1 0h1m1 0h1m-18 1h1m7 0h1m1 0h1m1 0h1m1 0h1m-16 1h1m1 0h1m1 0h1m1 0h1m1 0h1m1 0h1m1 0h1m1 0h1m-6 1h1m1 0h1m1 0h1m3 0h1m-20 1h1m1 0h1m7 0h1m1 0h1m1 0h1m1 0h1m-16 1h1m9 0h1m3 0h1m-22 1h1m1 0h1m7 0h1m7 0h1m-18 1h1m1 0h1m11 0h1m1 0h1m-18 1h1m1 0h1m13 0h1m3 0h1m1 0h1m-22 1h1m9 0h1m1 0h1m7 0h1m-10 1h1m1 0h1m1 0h1m3 0h1m-16 1h1m5 0h1m1 0h1m1 0h1m1 0h1m1 0h1m1 0h1m-8 1h1m1 0h1m1 0h1m1 0h1m1 0h1m-10 1h1m1 0h1m1 0h1m1 0h1m-8 1h1m1 0h1m1 0h1m1 0h1m-4 1h1m3 0h1m-8 1h1m1 0h1m1 0h1m-14 1h1m7 0h1m1 0h1m7 0h1m-20 1h1m3 0h1m1 0h1m1 0h1m1 0h1m3 0h1m1 0h1m1 0h1m-18 1h1m1 0h1m1 0h1m9 0h1m1 0h1m1 0h1m-18 1h1m1 0h1m1 0h1m3 0h1m1 0h1m1 0h1m1 0h1m1 0h1m-16 1h1m11 0h1m1 0h1m-8 1h1m1 0h1m1 0h1m1 0h1m-6 1h1m1 0h1m1 0h1m1 0h1m-24 1h1m13 0h1m1 0h1m1 0h1m1 0h1m-4 1h1m1 0h1m1 0h1m-2 1h1m1 0h1m-6 1h1m1 0h1m1 0h1m-2 1h1m-10 1h1m7 0h1m1 0h1m-10 1h1m1 0h1m5 0h1m-14 1h1m3 0h1m1 0h1m5 0h1m-12 1h1m3 0h1m3 0h1m3 0h1m-14 1h1m3 0h1m1 0h1m1 0h1m1 0h1m1 0h1m1 0h1m-12 1h1m3 0h1m1 0h1m1 0h1m1 0h1m-10 1h1m1 0h1m1 0h1m1 0h1m1 0h1m1 0h1m-14 1h1m1 0h1m1 0h1m1 0h1m1 0h1m1 0h1m1 0h1m-12 1h1m1 0h1m1 0h1m5 0h1m1 0h1m-16 1h1m3 0h1m1 0h1m1 0h1m1 0h1m-12 1h1m5 0h1m1 0h1m1 0h1m5 0h1m-8 1h1m1 0h1m1 0h1m-16 1h1m1 0h1m7 0h1m3 0h1m1 0h1m-8 1h1m5 0h1m-2 1h1m1 0h1m-8 1h1m5 0h1m1 0h1m1 0h1m-4 1h1m-2 1h1m1 0h1m-4 1h1m1 0h1m1 0h1m-6 1h1m1 0h1m1 0h1m1 0h1m-8 1h1m1 0h1m1 0h1m1 0h1m-3 2h1m1 0h1m-6 1h1m1 0h1m1 0h1m3 0h1m-10 1h1m3 0h1m-6 1h1m1 0h1m1 0h1m1 0h1m-6 1h1m1 0h1m1 0h1m-6 1h1m1 0h1m5 0h1m-10 1h1m1 0h1m1 0h1m5 0h1m-10 1h1m1 0h1m1 0h1m3 0h1m1 0h1m-12 1h1m1 0h1m1 0h1m1 0h1m3 0h1m1 0h1m-12 1h1m1 0h1m1 0h1m1 0h1m3 0h1m1 0h1m-16 1h1m3 0h1m1 0h1m3 0h1m-4 1h1m1 0h1m1 0h1m1 0h1m-8 1h1m1 0h1m1 0h1m-6 1h1m1 0h1m1 0h1m1 0h1m-8 1h1m1 0h1m3 0h1m1 0h1m-18 1h1m7 0h1m1 0h1m1 0h1m1 0h1m1 0h1m1 0h1m-10 1h1m1 0h1m1 0h1m1 0h1m3 0h1m-10 1h1m1 0h1m1 0h1m1 0h1m-8 1h1m1 0h1m1 0h1m1 0h1m1 0h1m-12 1h1m1 0h1m1 0h1m1 0h1m1 0h1m1 0h1m1 0h1m1 0h1m-16 1h1m1 0h1m1 0h1m3 0h1m1 0h1m1 0h1m1 0h1m-18 1h1m3 0h1m5 0h1m1 0h1m1 0h1m1 0h1m1 0h1m-24 1h1m1 0h1m5 0h1m1 0h1m1 0h1m3 0h1m1 0h1m1 0h1m1 0h1m-24 1h1m1 0h1m1 0h1m7 0h1m3 0h1m1 0h1m1 0h1m1 0h1m-20 1h1m13 0h1m1 0h1m1 0h1m1 0h1m9 0h1m-30 1h1m11 0h1m1 0h1m1 0h1m5 0h1m5 0h1m1 0h1m-26 1h1m11 0h1m3 0h1m1 0h1m7 0h1m-38 1h1m11 0h1m11 0h1m1 0h1m1 0h1m3 0h1m3 0h1m-36 1h1m1 0h1m5 0h1m11 0h1m1 0h1m3 0h1m1 0h1m3 0h1m1 0h1m1 0h1m-38 1h1m21 0h1m3 0h1m1 0h1m1 0h1m1 0h1m1 0h1m1 0h1m-36 1h1m11 0h1m7 0h1m5 0h1m5 0h1m-12 1h1m3 0h1m1 0h1m3 0h1m1 0h1m1 0h1m-10 1h1m5 0h1m1 0h1m1 0h1m-16 1h1m1 0h1m5 0h1m-14 1h1m1 0h1m1 0h1m1 0h1m1 0h1m3 0h1m1 0h1m3 0h1m1 0h1m-20 1h1m1 0h1m1 0h1m1 0h1m1 0h1m1 0h1m1 0h1m1 0h1m1 0h1m1 0h1m-18 1h1m1 0h1m1 0h1m1 0h1m1 0h1m1 0h1m3 0h1m1 0h1m3 0h1m-18 1h1m1 0h1m1 0h1m1 0h1m1 0h1m1 0h1m3 0h1m-18 1h1m1 0h1m1 0h1m3 0h1m1 0h1m-12 1h1m1 0h1m1 0h1m1 0h1m3 0h1m1 0h1m-10 1h1m1 0h1m-2 1h1m0 1h1m-2 1h1m-4 1h1m1 0h1m1 0h1m-4 1h1m-4 1h1m1 0h1m-4 1h1m-2 1h1m1 0h1m1 0h1m-4 1h1m1 0h1m-4 1h1m1 0h1m-2 1h1m1 0h1m-2 1h1m1 0h1m1 0h1m-6 1h1m1 0h1m1 0h1m-4 1h1m3 0h1m-6 1h1m-2 1h1m1 0h1m3 0h1m-10 1h1m1 0h1m1 0h1m1 0h1m-8 1h1m1 0h1m1 0h1m1 0h1m-4 1h1m1 0h1m-6 1h1m1 0h1"/>
<path stroke="#004925" d="M37 61h1m1 0h1m-13 2h1m3 0h1m5 0h1m3 0h1m-16 1h1m1 0h1m1 0h1m1 0h1m5 0h1m1 0h1m-16 1h1m1 0h1m1 0h1m1 0h1m5 0h1m1 0h1m1 0h1m-16 1h1m7 0h1m7 0h1m-16 1h1m9 0h1m3 0h1m3 0h1m1 0h1m-22 1h1m7 0h1m1 0h1m1 0h1m1 0h1m5 0h1m-22 1h1m5 0h1m3 0h1m1 0h1m1 0h1m-2 1h1m1 0h1m-14 1h1m1 0h1m9 0h1m1 0h1m-16 1h1m1 0h1m9 0h1m1 0h1m1 0h1m3 0h1m-22 1h1m1 0h1m9 0h1m1 0h1m1 0h1m1 0h1m-22 1h1m1 0h1m1 0h1m1 0h1m3 0h1m1 0h1m1 0h1m1 0h1m1 0h1m-20 1h1m1 0h1m3 0h1m1 0h1m1 0h1m1 0h1m1 0h1m1 0h1m1 0h1m1 0h1m1 0h1m1 0h1m-24 1h1m1 0h1m1 0h1m1 0h1m1 0h1m3 0h1m1 0h1m1 0h1m1 0h1m1 0h1m1 0h1m-22 1h1m3 0h1m3 0h1m1 0h1m1 0h1m3 0h1m1 0h1m1 0h1m3 0h1m-22 1h1m3 0h1m1 0h1m1 0h1m1 0h1m1 0h1m1 0h1m1 0h1m-18 1h1m3 0h1m1 0h1m1 0h1m1 0h1m1 0h1m1 0h1m1 0h1m1 0h1m-18 1h1m1 0h1m5 0h1m1 0h1m1 0h1m1 0h1m1 0h1m-16 1h1m9 0h1m1 0h1m1 0h1m-18 1h1m13 0h1m1 0h1m1 0h1m-20 1h1m7 0h1m3 0h1m1 0h1m1 0h1m-18 1h1m11 0h1m1 0h1m1 0h1m-18 1h1m1 0h1m11 0h1m1 0h1m1 0h1m1 0h1m-20 1h1m9 0h1m1 0h1m1 0h1m3 0h1m1 0h1m-12 1h1m1 0h1m1 0h1m1 0h1m1 0h1m1 0h1m-18 1h1m5 0h1m1 0h1m1 0h1m1 0h1m1 0h1m1 0h1m1 0h1m-10 1h1m1 0h1m1 0h1m1 0h1m1 0h1m1 0h1m-10 1h1m1 0h1m1 0h1m3 0h1m-10 1h1m1 0h1m1 0h1m1 0h1m-4 1h1m1 0h1m-8 1h1m1 0h1m1 0h1m3 0h1m-18 1h1m7 0h1m1 0h1m-8 1h1m1 0h1m7 0h1m-12 1h1m1 0h1m1 0h1m7 0h1m1 0h1m1 0h1m-18 1h1m1 0h1m1 0h1m3 0h1m5 0h1m1 0h1m1 0h1m-6 1h1m1 0h1m-6 1h1m1 0h1m1 0h1m-10 1h1m3 0h1m1 0h1m1 0h1m1 0h1m-8 1h1m1 0h1m1 0h1m1 0h1m-10 1h1m5 0h1m1 0h1m1 0h1m-6 1h1m1 0h1m1 0h1m-22 1h1m19 0h1m1 0h1m-11 2h1m7 0h1m-10 1h1m1 0h1m7 0h1m-10 1h1m1 0h1m3 0h1m1 0h1m-16 1h1m1 0h1m3 0h1m3 0h1m3 0h1m-10 1h1m1 0h1m1 0h1m3 0h1m1 0h1m-10 1h1m1 0h1m1 0h1m3 0h1m1 0h1m-14 1h1m1 0h1m1 0h1m1 0h1m1 0h1m3 0h1m1 0h1m-14 1h1m1 0h1m1 0h1m1 0h1m1 0h1m1 0h1m1 0h1m-12 1h1m3 0h1m1 0h1m3 0h1m1 0h1m-12 1h1m1 0h1m1 0h1m1 0h1m3 0h1m-16 1h1m3 0h1m3 0h1m1 0h1m-6 1h1m5 0h1m-12 1h1m5 0h1m1 0h1m3 0h1m-2 1h1m1 0h1m-2 1h1m-8 1h1m5 0h1m1 0h1m-8 1h1m3 0h1m1 0h1m1 0h1m1 0h1m-6 1h1m1 0h1m1 0h1m-4 1h1m-2 1h1m1 0h1m1 0h1m-6 1h1m1 0h1m1 0h1m1 0h1m-4 1h1m1 0h1m-4 1h1m1 0h1m-6 1h1m1 0h1m1 0h1m1 0h1m1 0h1m-8 1h1m1 0h1m1 0h1m-6 1h1m1 0h1m1 0h1m-2 1h1m5 0h1m-12 1h1m1 0h1m1 0h1m5 0h1m-10 1h1m1 0h1m5 0h1m-10 1h1m1 0h1m1 0h1m3 0h1m1 0h1m-10 1h1m1 0h1m1 0h1m5 0h1m-12 1h1m1 0h1m1 0h1m1 0h1m3 0h1m1 0h1m-14 1h1m1 0h1m1 0h1m1 0h1m1 0h1m3 0h1m-14 1h1m5 0h1m1 0h1m1 0h1m1 0h1m-4 1h1m1 0h1m-8 1h1m1 0h1m1 0h1m1 0h1m-8 1h1m1 0h1m1 0h1m1 0h1m1 0h1m-8 1h1m1 0h1m1 0h1m1 0h1m1 0h1m-10 1h1m1 0h1m1 0h1m1 0h1m1 0h1m-8 1h1m1 0h1m1 0h1m1 0h1m1 0h1m-8 1h1m1 0h1m1 0h1m1 0h1m1 0h1m-12 1h1m1 0h1m3 0h1m1 0h1m1 0h1m1 0h1m-14 1h1m3 0h1m1 0h1m1 0h1m1 0h1m1 0h1m1 0h1m-18 1h1m5 0h1m1 0h1m1 0h1m3 0h1m1 0h1m-22 1h1m1 0h1m5 0h1m1 0h1m3 0h1m1 0h1m1 0h1m1 0h1m1 0h1m-24 1h1m1 0h1m7 0h1m5 0h1m1 0h1m1 0h1m1 0h1m9 0h1m-32 1h1m13 0h1m1 0h1m1 0h1m9 0h1m1 0h1m1 0h1m-30 1h1m9 0h1m1 0h1m1 0h1m1 0h1m3 0h1m1 0h1m5 0h1m-36 1h1m21 0h1m3 0h1m1 0h1m5 0h1m1 0h1m-38 1h1m1 0h1m1 0h1m19 0h1m1 0h1m1 0h1m1 0h1m7 0h1m-38 1h1m25 0h1m1 0h1m1 0h1m1 0h1m3 0h1m-36 1h1m7 0h1m13 0h1m3 0h1m1 0h1m1 0h1m1 0h1m3 0h1m-38 1h1m19 0h1m5 0h1m7 0h1m-22 1h1m7 0h1m5 0h1m3 0h1m1 0h1m1 0h1m1 0h1m-16 1h1m1 0h1m5 0h1m3 0h1m1 0h1m-18 1h1m3 0h1m11 0h1m-18 1h1m3 0h1m1 0h1m1 0h1m1 0h1m1 0h1m5 0h1m-20 1h1m1 0h1m1 0h1m1 0h1m1 0h1m1 0h1m1 0h1m1 0h1m3 0h1m1 0h1m-20 1h1m1 0h1m1 0h1m1 0h1m1 0h1m1 0h1m1 0h1m3 0h1m-16 1h1m1 0h1m1 0h1m3 0h1m1 0h1m3 0h1m1 0h1m1 0h1m-16 1h1m1 0h1m1 0h1m1 0h1m1 0h1m5 0h1m-18 1h1m1 0h1m1 0h1m3 0h1m1 0h1m1 0h1m-12 1h1m1 0h1m7 0h1m-18 1h1m11 0h1m-4 1h1m1 0h1m-2 1h1m-4 1h1m1 0h1m-6 1h1m1 0h1m1 0h1m5 0h1m-12 1h1m1 0h1m1 0h1m7 0h1m-12 1h1m1 0h1m-4 1h1m1 0h1m13 0h1m-18 1h1m1 0h1m1 0h1m-4 1h1m1 0h1m-2 1h1m-2 1h1m1 0h1m-2 1h1m1 0h1m1 0h1m-5 2h1m3 0h1m-6 1h1m1 0h1m1 0h1m-6 1h1m1 0h1m1 0h1m-8 1h1m1 0h1m1 0h1m1 0h1m-6 1h1m1 0h1m1 0h1m-6 1h1m1 0h1"/>
<path stroke="#004c27" d="M58 53h1m-2 1h1m1 0h1m-2 1h1m-12 1h1m3 0h1m-8 1h1m3 0h1m-6 1h1m1 0h1m1 0h1m-6 1h1m5 0h1m-8 1h1m1 0h1m1 0h1m3 0h1m-18 1h1m3 0h1m3 0h1m1 0h1m1 0h1m-14 1h1m1 0h1m1 0h1m3 0h1m1 0h1m1 0h1m1 0h1m9 0h1m3 0h1m-30 1h1m3 0h1m3 0h1m3 0h1m1 0h1m11 0h1m1 0h1m-24 1h1m7 0h1m1 0h1m11 0h1m1 0h1m-26 1h1m9 0h1m1 0h1m1 0h1m9 0h1m1 0h1m1 0h1m-36 1h1m3 0h1m1 0h1m3 0h1m1 0h1m1 0h1m5 0h1m1 0h1m7 0h1m-30 1h1m1 0h1m1 0h1m11 0h1m1 0h1m1 0h1m-22 1h1m1 0h1m1 0h1m3 0h1m7 0h1m-18 1h1m1 0h1m1 0h1m1 0h1m1 0h1m5 0h1m1 0h1m1 0h1m1 0h1m1 0h1m-22 1h1m3 0h1m1 0h1m1 0h1m7 0h1m1 0h1m1 0h1m-22 1h1m3 0h1m1 0h1m1 0h1m1 0h1m7 0h1m1 0h1m1 0h1m-22 1h1m3 0h1m1 0h1m1 0h1m1 0h1m5 0h1m1 0h1m1 0h1m-18 1h1m1 0h1m1 0h1m1 0h1m7 0h1m-20 1h1m3 0h1m1 0h1m9 0h1m1 0h1m1 0h1m1 0h1m1 0h1m-10 1h1m5 0h1m1 0h1m1 0h1m-6 1h1m1 0h1m1 0h1m1 0h1m-4 1h1m1 0h1m1 0h1m-22 1h1m13 0h1m1 0h1m3 0h1m1 0h1m-10 1h1m1 0h1m1 0h1m3 0h1m-10 1h1m3 0h1m1 0h1m1 0h1m1 0h1m-10 1h1m1 0h1m-8 1h1m3 0h1m1 0h1m1 0h1m3 0h1m1 0h1m-14 1h1m1 0h1m1 0h1m1 0h1m-8 1h1m1 0h1m1 0h1m1 0h1m-8 1h1m5 0h1m-8 1h1m1 0h1m3 0h1m1 0h1m-8 1h1m3 0h1m1 0h1m-2 1h1m0 1h1m-4 1h1m1 0h1m1 0h1m-6 1h1m1 0h1m-2 1h1m1 0h1m-4 1h1m1 0h1m0 1h1m-2 1h1m-1 2h1m-2 1h1m-2 1h1m1 0h1m-2 1h1m1 0h1m-6 1h1m1 0h1m-2 1h1m1 0h1m-8 1h1m5 0h1m1 0h1m-4 1h1m-2 1h1m1 0h1m-2 1h1m-2 1h1m1 0h1m-4 1h1m1 0h1m-2 1h1m1 0h1m-2 1h1m-12 1h1m9 0h1m0 1h1m-2 1h1m1 0h1m-10 1h1m1 0h1m5 0h1m1 0h1m-8 1h1m1 0h1m1 0h1m1 0h1m1 0h1m1 0h1m-12 1h1m1 0h1m3 0h1m1 0h1m1 0h1m-8 1h1m1 0h1m1 0h1m1 0h1m-6 1h1m1 0h1m1 0h1m-6 1h1m1 0h1m1 0h1m1 0h1m-6 1h1m1 0h1m1 0h1m-2 1h1m-4 1h1m1 0h1m1 0h1m1 0h1m-6 1h1m0 1h1m1 0h1m-2 1h1m-2 1h1m-4 1h1m1 0h1m1 0h1m-2 1h1m-2 1h1m-2 1h1m1 0h1m1 0h1m-4 1h1m1 0h1m-4 1h1m1 0h1m1 0h1m-8 1h1m1 0h1m3 0h1m1 0h1m-8 1h1m1 0h1m3 0h1m-6 1h1m5 0h1m-6 1h1m5 0h1m-6 1h1m5 0h1m-10 1h1m3 0h1m1 0h1m0 1h1m-4 1h1m1 0h1m1 0h1m-4 1h1m1 0h1m1 0h1m-10 1h1m5 0h1m1 0h1m-2 1h1m1 0h1m-6 1h1m3 0h1m-4 1h1m1 0h1m-2 1h1m1 0h1m0 1h1m1 0h1m-4 1h1m1 0h1m3 0h1m-6 1h1m1 0h1m1 0h1m1 0h1m1 0h1m-10 1h1m1 0h1m1 0h1m1 0h1m1 0h1m1 0h1m-12 1h1m1 0h1m1 0h1m1 0h1m1 0h1m1 0h1m1 0h1m-12 1h1m1 0h1m1 0h1m1 0h1m3 0h1m1 0h1m-16 1h1m1 0h1m3 0h1m1 0h1m5 0h1m-14 1h1m5 0h1m1 0h1m1 0h1m-6 1h1m3 0h1m3 0h1m-14 1h1m5 0h1m-8 1h1m13 0h1m-16 1h1m1 0h1m3 0h1m1 0h1m3 0h1m1 0h1m-14 1h1m5 0h1m7 0h1m-16 1h1m1 0h1m3 0h1m1 0h1m-6 1h1m1 0h1m3 0h1m1 0h1m1 0h1m1 0h1m-12 1h1m5 0h1m4 1h1m1 0h1m-10 1h1m5 0h1m5 0h1m-10 1h1m3 0h1m1 0h1m1 0h1m-18 1h1m5 0h1m1 0h1m1 0h1m1 0h1m3 0h1m-16 1h1m5 0h1m3 0h1m1 0h1m1 0h1m1 0h1m-18 1h1m1 0h1m1 0h1m1 0h1m1 0h1m1 0h1m3 0h1m1 0h1m-18 1h1m1 0h1m3 0h1m1 0h1m1 0h1m5 0h1m1 0h1m1 0h1m-20 1h1m3 0h1m1 0h1m3 0h1m5 0h1m-18 1h1m1 0h1m5 0h1m-8 1h1m1 0h1m1 0h1m3 0h1m13 0h1m-26 1h1m1 0h1m1 0h1m1 0h1m3 0h1m1 0h1m-14 1h1m1 0h1m3 0h1m1 0h1m1 0h1m1 0h1m-16 1h1m1 0h1m1 0h1m5 0h1m1 0h1m1 0h1m1 0h1m-14 1h1m1 0h1m5 0h1m1 0h1m1 0h1m7 0h1m-22 1h1m1 0h1m7 0h1m1 0h1m-14 1h1m1 0h1m7 0h1m1 0h1m-12 1h1m1 0h1m7 0h1m1 0h1m-11 2h1m1 0h1m1 0h1m11 0h1m-20 1h1m3 0h1m-6 1h1m1 0h1m1 0h1m1 0h1m-6 1h1m3 0h1m-4 1h1m3 0h1"/>
<path stroke="#004c27" d="M58 54h1m-8 1h1m7 0h1m3 0h1m-18 1h1m1 0h1m15 0h1m-22 1h1m1 0h1m1 0h1m-6 1h1m1 0h1m3 0h1m-8 1h1m1 0h1m1 0h1m1 0h1m-8 1h1m1 0h1m1 0h1m13 0h1m-18 1h1m1 0h1m1 0h1m13 0h1m-30 1h1m1 0h1m1 0h1m1 0h1m1 0h1m1 0h1m1 0h1m1 0h1m1 0h1m-18 1h1m3 0h1m1 0h1m3 0h1m3 0h1m13 0h1m5 0h1m-30 1h1m1 0h1m5 0h1m1 0h1m13 0h1m1 0h1m-28 1h1m1 0h1m7 0h1m1 0h1m1 0h1m9 0h1m3 0h1m-34 1h1m1 0h1m1 0h1m3 0h1m1 0h1m1 0h1m3 0h1m1 0h1m1 0h1m13 0h1m-34 1h1m1 0h1m1 0h1m1 0h1m3 0h1m3 0h1m-16 1h1m1 0h1m1 0h1m9 0h1m1 0h1m-18 1h1m1 0h1m3 0h1m7 0h1m1 0h1m1 0h1m1 0h1m-22 1h1m1 0h1m1 0h1m1 0h1m1 0h1m1 0h1m5 0h1m1 0h1m1 0h1m1 0h1m-18 1h1m1 0h1m1 0h1m1 0h1m5 0h1m1 0h1m1 0h1m-18 1h1m1 0h1m1 0h1m1 0h1m7 0h1m-16 1h1m1 0h1m1 0h1m1 0h1m9 0h1m1 0h1m-18 1h1m11 0h1m1 0h1m1 0h1m1 0h1m1 0h1m-26 1h1m21 0h1m1 0h1m-4 1h1m1 0h1m1 0h1m-6 1h1m3 0h1m1 0h1m1 0h1m-10 1h1m1 0h1m1 0h1m3 0h1m-8 1h1m1 0h1m1 0h1m1 0h1m1 0h1m-10 1h1m1 0h1m5 0h1m1 0h1m-12 1h1m1 0h1m1 0h1m3 0h1m1 0h1m-10 1h1m1 0h1m5 0h1m-12 1h1m1 0h1m1 0h1m-6 1h1m1 0h1m1 0h1m1 0h1m-4 1h1m1 0h1m-8 1h1m5 0h1m-2 1h1m0 1h1m-5 2h1m3 0h1m-4 1h1m1 0h1m-4 1h1m1 0h1m-2 1h1m1 0h1m-4 1h1m1 0h1m-2 1h1m0 1h1m-3 2h1m1 0h1m-4 1h1m1 0h1m1 0h1m-4 1h1m1 0h1m1 0h1m-6 1h1m1 0h1m-2 1h1m-2 1h1m1 0h1m-2 1h1m-4 1h1m1 0h1m-2 1h1m1 0h1m-2 1h1m-2 1h1m1 0h1m-4 1h1m1 0h1m-2 1h1m1 0h1m-2 1h1m0 1h1m-2 1h1m1 0h1m-8 1h1m5 0h1m1 0h1m-8 1h1m3 0h1m1 0h1m1 0h1m1 0h1m-12 1h1m1 0h1m1 0h1m1 0h1m1 0h1m1 0h1m-10 1h1m1 0h1m1 0h1m1 0h1m-6 1h1m1 0h1m1 0h1m-4 1h1m1 0h1m1 0h1m-6 1h1m1 0h1m1 0h1m1 0h1m-6 1h1m1 0h1m1 0h1m-2 1h1m-2 1h1m3 0h1m-6 1h1m1 0h1m-2 1h1m1 0h1m-2 1h1m-2 1h1m-2 1h1m1 0h1m0 1h1m-4 1h1m1 0h1m-4 1h1m1 0h1m1 0h1m-10 1h1m3 0h1m1 0h1m3 0h1m-8 1h1m1 0h1m3 0h1m-8 1h1m1 0h1m3 0h1m-6 1h1m5 0h1m-6 1h1m1 0h1m3 0h1m1 0h1m-8 1h1m5 0h1m-6 1h1m3 0h1m-2 1h1m-8 1h1m5 0h1m1 0h1m-4 1h1m1 0h1m1 0h1m-4 1h1m1 0h1m1 0h1m-4 1h1m1 0h1m-4 1h1m1 0h1m1 0h1m-4 1h1m1 0h1m-2 1h1m1 0h1m-2 1h1m1 0h1m-2 1h1m3 0h1m1 0h1m-8 1h1m3 0h1m1 0h1m1 0h1m-8 1h1m1 0h1m1 0h1m1 0h1m1 0h1m-10 1h1m1 0h1m1 0h1m1 0h1m3 0h1m-14 1h1m1 0h1m1 0h1m1 0h1m7 0h1m-14 1h1m5 0h1m1 0h1m3 0h1m-14 1h1m5 0h1m1 0h1m5 0h1m-8 1h1m1 0h1m1 0h1m3 0h1m-16 1h1m9 0h1m3 0h1m-14 1h1m9 0h1m-14 1h1m1 0h1m3 0h1m1 0h1m1 0h1m3 0h1m-14 1h1m1 0h1m3 0h1m-4 1h1m1 0h1m3 0h1m5 0h1m-14 1h1m1 0h1m1 0h1m1 0h1m1 0h1m3 0h1m-6 1h1m1 0h1m3 0h1m-6 1h1m5 0h1m-8 1h1m3 0h1m1 0h1m1 0h1m1 0h1m-18 1h1m5 0h1m7 0h1m1 0h1m1 0h1m-12 1h1m1 0h1m3 0h1m1 0h1m1 0h1m-18 1h1m7 0h1m1 0h1m3 0h1m-16 1h1m1 0h1m1 0h1m3 0h1m1 0h1m5 0h1m-18 1h1m3 0h1m1 0h1m1 0h1m1 0h1m7 0h1m-16 1h1m3 0h1m1 0h1m9 0h1m-18 1h1m3 0h1m-6 1h1m1 0h1m1 0h1m3 0h1m11 0h1m-22 1h1m1 0h1m3 0h1m3 0h1m7 0h1m5 0h1m-26 1h1m3 0h1m5 0h1m1 0h1m-14 1h1m1 0h1m3 0h1m1 0h1m1 0h1m1 0h1m-14 1h1m1 0h1m7 0h1m3 0h1m11 0h1m-26 1h1m7 0h1m1 0h1m1 0h1m-14 1h1m1 0h1m5 0h1m1 0h1m1 0h1m-14 1h1m1 0h1m9 0h1m-12 1h1m1 0h1m0 1h1m13 0h1m-20 1h1m1 0h1m1 0h1m1 0h1m-6 1h1m3 0h1m-2 1h1m1 0h1"/>
<path stroke="#005029" d="M64 47h1m-2 1h1m1 0h1m-4 1h1m1 0h1m1 0h1m-6 1h1m1 0h1m1 0h1m1 0h1m1 0h1m-12 1h1m3 0h1m1 0h1m1 0h1m1 0h1m-16 1h1m1 0h1m1 0h1m1 0h1m1 0h1m1 0h1m1 0h1m1 0h1m-16 1h1m1 0h1m1 0h1m3 0h1m1 0h1m1 0h1m1 0h1m1 0h1m-18 1h1m1 0h1m1 0h1m5 0h1m1 0h1m1 0h1m1 0h1m-18 1h1m1 0h1m1 0h1m1 0h1m3 0h1m1 0h1m1 0h1m1 0h1m-18 1h1m3 0h1m1 0h1m1 0h1m1 0h1m1 0h1m1 0h1m1 0h1m1 0h1m-22 1h1m3 0h1m1 0h1m1 0h1m1 0h1m1 0h1m1 0h1m1 0h1m1 0h1m1 0h1m-18 1h1m1 0h1m1 0h1m1 0h1m1 0h1m1 0h1m3 0h1m1 0h1m-22 1h1m1 0h1m3 0h1m1 0h1m1 0h1m1 0h1m1 0h1m1 0h1m1 0h1m1 0h1m-18 1h1m3 0h1m1 0h1m1 0h1m1 0h1m1 0h1m1 0h1m1 0h1m1 0h1m-20 1h1m1 0h1m1 0h1m1 0h1m1 0h1m1 0h1m1 0h1m1 0h1m1 0h1m1 0h1m1 0h1m-20 1h1m1 0h1m1 0h1m1 0h1m3 0h1m3 0h1m1 0h1m1 0h1m-20 1h1m1 0h1m3 0h1m1 0h1m5 0h1m1 0h1m1 0h1m-18 1h1m1 0h1m1 0h1m1 0h1m1 0h1m5 0h1m1 0h1m1 0h1m-16 1h1m1 0h1m1 0h1m1 0h1m7 0h1m1 0h1m-16 1h1m1 0h1m1 0h1m3 0h1m1 0h1m1 0h1m1 0h1m-16 1h1m1 0h1m1 0h1m1 0h1m1 0h1m1 0h1m1 0h1m1 0h1m-16 1h1m1 0h1m5 0h1m1 0h1m-10 1h1m7 0h1m-10 1h1m1 0h1m1 0h1m3 0h1m-8 1h1m3 0h1m-6 1h1m1 0h1m1 0h1m-6 1h1m1 0h1m1 0h1m-2 1h1m1 0h1m-2 1h1m1 0h1m-2 1h1m1 0h1m1 0h1m-4 1h1m1 0h1m1 0h1m-10 1h1m5 0h1m1 0h1m1 0h1m-10 1h1m3 0h1m1 0h1m1 0h1m-4 1h1m1 0h1m1 0h1m-12 1h1m1 0h1m1 0h1m1 0h1m1 0h1m1 0h1m1 0h1m-12 1h1m5 0h1m1 0h1m-10 1h1m1 0h1m1 0h1m1 0h1m1 0h1m1 0h1m-12 1h1m1 0h1m1 0h1m3 0h1m1 0h1m-12 1h1m3 0h1m5 0h1m-10 1h1m1 0h1m1 0h1m3 0h1m-10 1h1m1 0h1m1 0h1m1 0h1m1 0h1m1 0h1m-12 1h1m1 0h1m1 0h1m1 0h1m3 0h1m-10 1h1m1 0h1m1 0h1m-4 1h1m-4 1h1m1 0h1m1 0h1m-4 1h1m1 0h1m1 0h1m-6 1h1m1 0h1m1 0h1m-4 1h1m1 0h1m-4 1h1m3 0h1m-6 1h1m1 0h1m-2 1h1m-2 1h1m1 0h1m-2 1h1m0 1h1m-4 1h1m1 0h1m1 0h1m-4 1h1m1 0h1m-2 1h1m1 0h1m-6 1h1m1 0h1m1 0h1m-4 1h1m1 0h1m1 0h1m-6 1h1m1 0h1m-2 1h1m1 0h1m-4 1h1m1 0h1m-3 2h1m-2 1h1m1 0h1m1 0h1m-4 1h1m1 0h1m1 0h1m-4 1h1m1 0h1m-2 1h1m1 0h1m0 1h1m-2 1h1m1 0h1m-4 1h1m3 0h1m-6 1h1m1 0h1m-2 1h1m-2 1h1m1 0h1m-4 1h1m1 0h1m0 1h1m69 0h1m1 0h1m-78 1h1m1 0h1m1 0h1m69 0h1m1 0h1m-74 1h1m1 0h1m61 0h1m1 0h1m1 0h1m1 0h1m1 0h1m-74 1h1m1 0h1m63 0h1m3 0h1m1 0h1m-74 1h1m1 0h1m63 0h1m3 0h1m1 0h1m1 0h1m-74 1h1m-2 1h1m0 1h1m0 1h1m-2 1h1m0 1h1m-1 2h1m0 1h1m0 1h1m-3 2h1m1 0h1m-2 1h1m0 1h1m-1 2h1m0 1h1m-2 1h1m1 0h1m3 0h1m-8 1h1m1 0h1m1 0h1m1 0h1m-6 1h1m1 0h1m1 0h1m1 0h1m-4 1h1m1 0h1m1 0h1m-6 1h1m3 0h1m1 0h1m0 1h1m0 1h1m3 0h1m-4 1h1m1 0h1m-3 2h1m1 0h1m-4 1h1m1 0h1m1 0h1m-4 1h1m-2 1h1m2 1h1m-4 1h1m1 0h1m-2 1h1m1 0h1m-4 1h1m1 0h1m1 0h1m-4 1h1m1 0h1m1 0h1m-6 1h1m1 0h1m1 0h1m1 0h1m-4 1h1m1 0h1m1 0h1m-6 1h1m3 0h1m-2 1h1m-6 1h1m3 0h1m-10 1h1m9 0h1m3 0h1m1 0h1m-14 1h1m5 0h1m1 0h1m1 0h1m1 0h1m-22 1h1m7 0h1m1 0h1m7 0h1m3 0h1m-24 1h1m5 0h1m3 0h1m1 0h1m3 0h1m1 0h1m1 0h1m-20 1h1m1 0h1m3 0h1m1 0h1m1 0h1m1 0h1m1 0h1m1 0h1m1 0h1m1 0h1m1 0h1m-20 1h1m3 0h1m1 0h1m1 0h1m1 0h1m1 0h1m1 0h1m3 0h1m5 0h1m-26 1h1m5 0h1m1 0h1m1 0h1m1 0h1m1 0h1m1 0h1m1 0h1m1 0h1m1 0h1m-28 1h1m9 0h1m1 0h1m1 0h1m1 0h1m1 0h1m1 0h1m1 0h1m1 0h1m1 0h1m-28 1h1m1 0h1m9 0h1m1 0h1m1 0h1m1 0h1m1 0h1m1 0h1m1 0h1m1 0h1m1 0h1m-28 1h1m1 0h1m7 0h1m1 0h1m1 0h1m3 0h1m1 0h1m1 0h1m3 0h1m1 0h1m-30 1h1m1 0h1m1 0h1m5 0h1m1 0h1m1 0h1m1 0h1m1 0h1m1 0h1m1 0h1m3 0h1m1 0h1m-30 1h1m1 0h1m1 0h1m5 0h1m1 0h1m1 0h1m1 0h1m1 0h1m1 0h1m1 0h1m1 0h1m-24 1h1m1 0h1m1 0h1m5 0h1m1 0h1m3 0h1m1 0h1m1 0h1m3 0h1m-26 1h1m1 0h1m1 0h1m3 0h1m1 0h1m1 0h1m1 0h1m1 0h1m1 0h1m1 0h1m1 0h1m-18 1h1m5 0h1m1 0h1m3 0h1m1 0h1m1 0h1m-20 1h1m1 0h1m1 0h1m1 0h1m11 0h1m-18 1h1m1 0h1m1 0h1m-6 1h1m1 0h1m-2 1h1"/>
<path stroke="#005029" d="M63 47h1m1 0h1m-2 1h1m-2 1h1m1 0h1m-6 1h1m1 0h1m1 0h1m1 0h1m1 0h1m-10 1h1m1 0h1m1 0h1m1 0h1m1 0h1m-14 1h1m3 0h1m1 0h1m1 0h1m1 0h1m1 0h1m1 0h1m-16 1h1m1 0h1m1 0h1m1 0h1m1 0h1m1 0h1m1 0h1m1 0h1m-16 1h1m1 0h1m1 0h1m3 0h1m3 0h1m-12 1h1m1 0h1m1 0h1m3 0h1m3 0h1m1 0h1m-18 1h1m1 0h1m1 0h1m1 0h1m1 0h1m3 0h1m3 0h1m-18 1h1m1 0h1m1 0h1m1 0h1m1 0h1m1 0h1m1 0h1m1 0h1m1 0h1m1 0h1m-22 1h1m3 0h1m1 0h1m1 0h1m1 0h1m1 0h1m1 0h1m1 0h1m1 0h1m1 0h1m-18 1h1m1 0h1m1 0h1m1 0h1m1 0h1m1 0h1m3 0h1m1 0h1m-20 1h1m1 0h1m1 0h1m1 0h1m1 0h1m1 0h1m3 0h1m1 0h1m1 0h1m1 0h1m-20 1h1m1 0h1m1 0h1m1 0h1m1 0h1m1 0h1m3 0h1m3 0h1m-18 1h1m1 0h1m1 0h1m1 0h1m1 0h1m1 0h1m1 0h1m1 0h1m1 0h1m-20 1h1m1 0h1m3 0h1m1 0h1m1 0h1m3 0h1m1 0h1m3 0h1m-20 1h1m1 0h1m1 0h1m1 0h1m1 0h1m1 0h1m5 0h1m1 0h1m1 0h1m-18 1h1m1 0h1m1 0h1m1 0h1m3 0h1m3 0h1m1 0h1m1 0h1m-18 1h1m1 0h1m1 0h1m1 0h1m1 0h1m1 0h1m3 0h1m-16 1h1m1 0h1m1 0h1m1 0h1m1 0h1m1 0h1m1 0h1m1 0h1m1 0h1m-18 1h1m1 0h1m7 0h1m1 0h1m-12 1h1m1 0h1m-2 1h1m1 0h1m1 0h1m3 0h1m-10 1h1m1 0h1m1 0h1m3 0h1m-10 1h1m1 0h1m1 0h1m5 0h1m-10 1h1m1 0h1m1 0h1m-2 1h1m-2 1h1m1 0h1m1 0h1m1 0h1m-6 1h1m1 0h1m1 0h1m-2 1h1m1 0h1m-8 1h1m3 0h1m1 0h1m1 0h1m-4 1h1m1 0h1m1 0h1m-12 1h1m1 0h1m5 0h1m1 0h1m1 0h1m-12 1h1m5 0h1m1 0h1m1 0h1m-12 1h1m1 0h1m3 0h1m1 0h1m1 0h1m-12 1h1m1 0h1m1 0h1m1 0h1m1 0h1m1 0h1m-10 1h1m1 0h1m3 0h1m1 0h1m1 0h1m-12 1h1m1 0h1m1 0h1m3 0h1m-10 1h1m1 0h1m1 0h1m1 0h1m1 0h1m1 0h1m-12 1h1m1 0h1m1 0h1m1 0h1m1 0h1m1 0h1m-10 1h1m1 0h1m1 0h1m1 0h1m-8 1h1m1 0h1m1 0h1m-4 1h1m1 0h1m1 0h1m-6 1h1m1 0h1m-4 1h1m1 0h1m1 0h1m-4 1h1m1 0h1m-4 1h1m1 0h1m-4 1h1m1 0h1m1 0h1m-4 1h1m-2 1h1m1 0h1m-2 1h1m0 1h1m0 1h1m-4 1h1m1 0h1m-4 1h1m1 0h1m1 0h1m-4 1h1m1 0h1m1 0h1m-6 1h1m1 0h1m1 0h1m-6 1h1m1 0h1m1 0h1m-4 1h1m1 0h1m-4 1h1m1 0h1m-3 2h1m0 1h1m-2 1h1m0 1h1m0 1h1m1 0h1m-2 1h1m2 1h1m-2 1h1m-4 1h1m1 0h1m-4 1h1m1 0h1m-2 1h1m1 0h1m-2 1h1m-2 1h1m1 0h1m-4 1h1m1 0h1m71 0h1m1 0h1m-78 1h1m3 0h1m63 0h1m5 0h1m1 0h1m-76 1h1m1 0h1m63 0h1m1 0h1m1 0h1m1 0h1m1 0h1m-74 1h1m63 0h1m1 0h1m1 0h1m1 0h1m1 0h1m-74 1h1m1 0h1m1 0h1m61 0h1m3 0h1m1 0h1m-74 1h1m1 0h1m69 0h1m-72 1h1m3 0h1m-4 1h1m-2 1h1m0 3h1m-2 1h1m0 1h1m1 0h1m-1 2h1m-2 1h1m-2 1h1m1 0h1m-2 1h1m0 1h1m-1 2h1m1 0h1m-2 1h1m1 0h1m-4 1h1m1 0h1m1 0h1m1 0h1m-6 1h1m1 0h1m1 0h1m-4 1h1m1 0h1m1 0h1m1 0h1m-8 1h1m5 0h1m-8 1h1m7 0h1m0 1h1m3 0h1m-4 1h1m3 0h1m-4 1h1m-2 1h1m1 0h1m1 0h1m-4 1h1m1 0h1m-4 3h1m-2 1h1m1 0h1m1 0h1m-4 1h1m1 0h1m-2 1h1m1 0h1m-4 1h1m1 0h1m1 0h1m-4 1h1m1 0h1m1 0h1m-4 1h1m1 0h1m1 0h1m-2 1h1m0 1h1m-2 1h1m-8 1h1m3 0h1m1 0h1m1 0h1m3 0h1m-14 1h1m1 0h1m3 0h1m1 0h1m3 0h1m1 0h1m-16 1h1m1 0h1m1 0h1m3 0h1m1 0h1m1 0h1m1 0h1m-22 1h1m5 0h1m1 0h1m1 0h1m1 0h1m3 0h1m1 0h1m1 0h1m1 0h1m-24 1h1m3 0h1m1 0h1m1 0h1m1 0h1m1 0h1m1 0h1m1 0h1m1 0h1m1 0h1m1 0h1m-20 1h1m3 0h1m1 0h1m1 0h1m1 0h1m1 0h1m3 0h1m1 0h1m1 0h1m-20 1h1m3 0h1m1 0h1m1 0h1m3 0h1m1 0h1m3 0h1m1 0h1m3 0h1m-32 1h1m5 0h1m5 0h1m1 0h1m1 0h1m1 0h1m1 0h1m1 0h1m1 0h1m1 0h1m1 0h1m1 0h1m-30 1h1m9 0h1m1 0h1m1 0h1m1 0h1m1 0h1m1 0h1m1 0h1m1 0h1m1 0h1m-28 1h1m1 0h1m1 0h1m7 0h1m1 0h1m1 0h1m1 0h1m1 0h1m5 0h1m1 0h1m-30 1h1m1 0h1m1 0h1m7 0h1m1 0h1m1 0h1m1 0h1m1 0h1m1 0h1m1 0h1m3 0h1m1 0h1m-30 1h1m1 0h1m7 0h1m1 0h1m1 0h1m1 0h1m1 0h1m1 0h1m3 0h1m-26 1h1m1 0h1m1 0h1m1 0h1m3 0h1m1 0h1m1 0h1m1 0h1m1 0h1m1 0h1m1 0h1m-22 1h1m1 0h1m1 0h1m1 0h1m1 0h1m1 0h1m1 0h1m1 0h1m1 0h1m1 0h1m1 0h1m-20 1h1m1 0h1m5 0h1m5 0h1m1 0h1m1 0h1m1 0h1m-20 1h1m1 0h1m1 0h1m9 0h1m1 0h1m1 0h1m-20 1h1m1 0h1m3 0h1m-6 1h1m-2 1h1m1 0h1"/>
<path stroke="#00542b" d="M65 46h1m3 0h1m-4 1h1m1 0h1m1 0h1m1 0h1m1 0h1m-8 1h1m1 0h1m1 0h1m1 0h1m1 0h1m-8 1h1m1 0h1m1 0h1m1 0h1m-18 1h1m1 0h1m11 0h1m1 0h1m1 0h1m1 0h1m-22 1h1m3 0h1m9 0h1m1 0h1m1 0h1m1 0h1m3 0h1m-12 1h1m1 0h1m1 0h1m1 0h1m0 1h1m-8 1h1m5 0h1m1 0h1m-10 1h1m7 0h1m-8 1h1m-2 1h1m-8 1h1m5 0h1m1 0h1m-4 1h1m1 0h1m-2 1h1m1 0h1m1 0h1m-4 1h1m1 0h1m-4 1h1m1 0h1m-20 1h1m15 0h1m1 0h1m-2 1h1m1 0h1m-2 1h1m1 0h1m-4 1h1m1 0h1m1 0h1m-6 1h1m1 0h1m1 0h1m-18 1h1m1 0h1m5 0h1m1 0h1m1 0h1m1 0h1m1 0h1m-18 1h1m1 0h1m1 0h1m3 0h1m1 0h1m-8 1h1m3 0h1m1 0h1m1 0h1m-12 1h1m3 0h1m1 0h1m1 0h1m1 0h1m-8 1h1m1 0h1m1 0h1m1 0h1m1 0h1m-10 1h1m1 0h1m1 0h1m1 0h1m-6 1h1m1 0h1m1 0h1m1 0h1m-6 1h1m1 0h1m1 0h1m-2 1h1m1 0h1m-2 1h1m1 0h1m-2 1h1m-2 1h1m0 1h1m0 1h1m-4 1h1m1 0h1m1 0h1m-4 1h1m1 0h1m1 0h1m-12 1h1m5 0h1m1 0h1m1 0h1m1 0h1m-18 1h1m3 0h1m1 0h1m3 0h1m1 0h1m1 0h1m1 0h1m-12 1h1m3 0h1m1 0h1m1 0h1m-4 1h1m-6 1h1m3 0h1m1 0h1m-8 1h1m1 0h1m1 0h1m-8 1h1m1 0h1m1 0h1m-4 1h1m1 0h1m1 0h1m-4 1h1m-2 1h1m-2 1h1m1 0h1m-6 1h1m3 0h1m1 0h1m-6 1h1m3 0h1m-6 1h1m5 0h1m-6 1h1m1 0h1m1 0h1m-6 1h1m3 0h1m-4 1h1m3 0h1m-4 1h1m-2 1h1m1 0h1m-2 1h1m-2 1h1m1 0h1m-5 2h1m1 0h1m-2 1h1m-2 1h1m1 0h1m-6 1h1m1 0h1m1 0h1m-4 1h1m1 0h1m1 0h1m-2 1h1m1 0h1m-2 1h1m-2 1h1m1 0h1m-2 1h1m0 1h1m0 1h1m-4 1h1m3 0h1m-4 1h1m-2 1h1m1 0h1m-2 1h1m-2 1h1m1 0h1m61 0h1m1 0h1m1 0h1m1 0h1m1 0h1m-72 1h1m61 0h1m1 0h1m1 0h1m5 0h1m-74 1h1m59 0h1m1 0h1m1 0h1m1 0h1m5 0h1m-2 1h1m-72 1h1m59 0h1m3 0h1m5 0h1m-72 1h1m1 0h1m57 0h1m3 0h1m7 0h1m-74 1h1m1 0h1m59 0h1m1 0h1m1 0h1m1 0h1m1 0h1m-72 1h1m1 0h1m1 0h1m57 0h1m1 0h1m1 0h1m1 0h1m1 0h1m-70 1h1m1 0h1m59 0h1m1 0h1m1 0h1m1 0h1m1 0h1m-70 1h1m1 0h1m61 0h1m1 0h1m1 0h1m-70 1h1m1 0h1m63 0h1m1 0h1m-68 1h1m1 0h1m61 0h1m1 0h1m-68 1h1m1 0h1m1 0h1m59 0h1m1 0h1m-66 1h1m1 0h1m61 0h1m-63 2h1m-2 1h1m1 0h1m-2 1h1m-2 1h1m1 0h1m-2 1h1m-2 1h1m1 0h1m-2 1h1m1 0h1m-2 1h1m1 0h1m1 0h1m-4 1h1m2 1h1m0 1h1m0 1h1m0 1h1m3 0h1m-4 1h1m1 0h1m1 0h1m-4 1h1m2 1h1m-4 1h1m1 0h1m1 0h1m-2 1h1m0 1h1m-4 1h1m1 0h1m-4 1h1m1 0h1m-4 1h1m3 0h1m-2 1h1m0 1h1m2 3h1m0 1h1m1 0h1m-4 1h1m1 0h1m-4 1h1m1 0h1m1 0h1m-6 1h1m1 0h1m1 0h1m-4 1h1m4 1h1m1 0h1m1 0h1m-8 1h1m3 0h1m1 0h1m1 0h1m-8 1h1m1 0h1m1 0h1m1 0h1m-4 1h1m1 0h1m1 0h1m-6 1h1m1 0h1m3 0h1m-4 1h1m1 0h1m1 0h1m-6 1h1m1 0h1m1 0h1m-4 1h1m1 0h1m-8 1h1m5 0h1m-8 1h1m5 0h1m1 0h1m-8 1h1m1 0h1m1 0h1m1 0h1m-18 1h1m7 0h1m3 0h1m3 0h1m-26 1h1m17 0h1m1 0h1m-20 1h1m1 0h1m13 0h1m1 0h1m-8 1h1m3 0h1m1 0h1m-6 1h1m1 0h1m1 0h1m-18 1h1m1 0h1m13 0h1m1 0h1m-20 1h1m1 0h1m15 0h1m-18 1h1"/>
<path stroke="#00542b" d="M66 46h1m3 0h1m-4 1h1m1 0h1m1 0h1m1 0h1m-8 1h1m1 0h1m1 0h1m1 0h1m1 0h1m-8 1h1m1 0h1m1 0h1m1 0h1m1 0h1m-20 1h1m1 0h1m11 0h1m1 0h1m1 0h1m-20 1h1m1 0h1m11 0h1m1 0h1m1 0h1m1 0h1m1 0h1m-22 1h1m13 0h1m1 0h1m1 0h1m1 0h1m-8 1h1m5 0h1m-14 1h1m3 0h1m1 0h1m7 0h1m1 0h1m-30 1h1m19 0h1m3 0h1m3 0h1m-18 1h1m7 0h1m1 0h1m5 0h1m-9 2h1m-8 1h1m5 0h1m3 0h1m-4 1h1m1 0h1m1 0h1m-10 1h1m3 0h1m1 0h1m-4 1h1m1 0h1m-20 1h1m17 0h1m1 0h1m-2 1h1m1 0h1m-2 1h1m1 0h1m-6 1h1m1 0h1m1 0h1m-4 1h1m1 0h1m1 0h1m-20 1h1m1 0h1m1 0h1m5 0h1m1 0h1m3 0h1m1 0h1m-18 1h1m1 0h1m1 0h1m1 0h1m1 0h1m1 0h1m-8 1h1m3 0h1m1 0h1m-8 1h1m3 0h1m1 0h1m1 0h1m-10 1h1m1 0h1m3 0h1m-6 1h1m1 0h1m1 0h1m-6 1h1m1 0h1m1 0h1m1 0h1m-2 1h1m-2 1h1m1 0h1m1 0h1m-4 1h1m1 0h1m-2 1h1m0 1h1m-1 2h1m-2 1h1m1 0h1m-4 1h1m1 0h1m1 0h1m1 0h1m-14 1h1m7 0h1m1 0h1m1 0h1m-12 1h1m3 0h1m1 0h1m1 0h1m1 0h1m-6 1h1m1 0h1m1 0h1m-6 1h1m1 0h1m-6 1h1m1 0h1m1 0h1m-8 1h1m1 0h1m3 0h1m-6 1h1m1 0h1m13 0h1m-20 1h1m1 0h1m-2 1h1m1 0h1m-4 1h1m1 0h1m-4 1h1m1 0h1m0 1h1m-6 1h1m1 0h1m3 0h1m-6 1h1m1 0h1m-4 1h1m0 1h1m3 0h1m-4 1h1m-2 1h1m1 0h1m-2 1h1m-1 2h1m-2 1h1m1 0h1m-4 1h1m1 0h1m-4 1h1m1 0h1m-6 1h1m1 0h1m1 0h1m-4 1h1m1 0h1m1 0h1m-4 1h1m1 0h1m1 0h1m-6 1h1m1 0h1m1 0h1m1 0h1m-6 1h1m1 0h1m0 1h1m-2 1h1m1 0h1m0 1h1m-2 1h1m1 0h1m-4 1h1m1 0h1m-4 1h1m1 0h1m-2 1h1m-2 1h1m1 0h1m-2 1h1m63 0h1m1 0h1m1 0h1m1 0h1m1 0h1m-74 1h1m59 0h1m3 0h1m1 0h1m1 0h1m-10 1h1m1 0h1m3 0h1m1 0h1m-68 1h1m59 0h1m-62 1h1m1 0h1m57 0h1m11 0h1m-12 1h1m3 0h1m5 0h1m-72 1h1m1 0h1m57 0h1m1 0h1m1 0h1m1 0h1m3 0h1m-72 1h1m61 0h1m1 0h1m1 0h1m1 0h1m1 0h1m-70 1h1m1 0h1m61 0h1m1 0h1m1 0h1m-70 1h1m1 0h1m63 0h1m1 0h1m-70 1h1m1 0h1m63 0h1m1 0h1m-68 1h1m1 0h1m1 0h1m59 0h1m1 0h1m-66 1h1m1 0h1m59 0h1m1 0h1m1 0h1m-68 1h1m1 0h1m61 0h1m-63 2h1m0 1h1m-2 1h1m1 0h1m-2 1h1m-2 1h1m1 0h1m-2 1h1m1 0h1m-4 1h1m1 0h1m1 0h1m1 0h1m-4 1h1m1 0h1m-2 1h1m1 0h1m0 1h1m-2 1h1m1 2h1m1 0h1m1 0h1m-4 1h1m1 0h1m1 0h1m-4 1h1m3 0h1m-4 1h1m3 0h1m-4 1h1m1 0h1m1 0h1m-2 1h1m-2 1h1m-4 1h1m1 0h1m1 0h1m-6 1h1m1 0h1m1 0h1m-4 1h1m1 0h1m0 1h1m-2 1h1m0 1h1m0 1h1m1 0h1m-2 1h1m1 0h1m-2 1h1m1 0h1m-4 1h1m1 0h1m1 0h1m-4 1h1m1 0h1m-4 1h1m1 0h1m1 0h1m-4 1h1m3 0h1m1 0h1m-8 1h1m7 0h1m1 0h1m-6 1h1m1 0h1m1 0h1m-4 1h1m1 0h1m-4 1h1m1 0h1m1 0h1m-4 1h1m1 0h1m1 0h1m1 0h1m-6 1h1m3 0h1m-2 1h1m1 0h1m-6 1h1m1 0h1m1 0h1m-10 1h1m5 0h1m1 0h1m-8 1h1m5 0h1m-10 1h1m3 0h1m1 0h1m1 0h1m1 0h1m-10 1h1m1 0h1m-4 1h1m1 0h1m1 0h1m-22 1h1m1 0h1m15 0h1m-16 1h1m13 0h1m1 0h1m-20 1h1m11 0h1m1 0h1m1 0h1m1 0h1m-20 1h1m1 0h1m15 0h1m-18 1h1m1 0h1m-4 1h1m1 0h1"/>
<path stroke="#00572e" d="M67 44h1m3 0h1m1 0h1m-8 1h1m1 0h1m1 0h1m1 0h1m3 0h1m-10 1h1m3 0h1m1 0h1m1 0h1m1 0h1m-2 1h1m1 0h1m-2 1h1m1 0h1m-4 1h1m1 0h1m1 0h1m-2 1h1m1 0h1m-4 1h1m3 0h1m-6 1h1m1 0h1m1 0h1m-12 1h1m1 0h1m1 0h1m3 0h1m1 0h1m-10 1h1m1 0h1m5 0h1m-10 1h1m1 0h1m1 0h1m3 0h1m1 0h1m-10 1h1m1 0h1m1 0h1m1 0h1m-8 1h1m1 0h1m1 0h1m1 0h1m1 0h1m-8 1h1m1 0h1m1 0h1m1 0h1m-8 1h1m1 0h1m1 0h1m1 0h1m-4 1h1m1 0h1m1 0h1m-6 1h1m1 0h1m1 0h1m-6 1h1m1 0h1m1 0h1m-6 1h1m1 0h1m-2 1h1m1 0h1m-2 1h1m0 1h1m-2 1h1m-2 1h1m1 0h1m-10 1h1m1 0h1m1 0h1m1 0h1m1 0h1m-8 1h1m1 0h1m1 0h1m1 0h1m-8 1h1m1 0h1m1 0h1m-4 1h1m1 0h1m-6 1h1m1 0h1m-2 1h1m-2 1h1m1 0h1m-2 1h1m1 0h1m5 0h1m-8 1h1m1 0h1m3 0h1m-8 1h1m5 0h1m1 0h1m-10 1h1m1 0h1m5 0h1m-8 1h1m5 0h1m1 0h1m1 0h1m-10 1h1m1 0h1m-2 1h1m1 0h1m-2 1h1m1 0h1m-2 1h1m1 0h1m-4 1h1m1 0h1m1 0h1m-8 1h1m1 0h1m1 0h1m1 0h1m-10 1h1m1 0h1m1 0h1m5 0h1m-10 1h1m1 0h1m1 0h1m1 0h1m1 0h1m1 0h1m3 0h1m-18 1h1m1 0h1m1 0h1m1 0h1m1 0h1m1 0h1m1 0h1m3 0h1m-20 1h1m1 0h1m3 0h1m1 0h1m1 0h1m1 0h1m1 0h1m1 0h1m-16 1h1m5 0h1m1 0h1m1 0h1m1 0h1m1 0h1m-18 1h1m1 0h1m7 0h1m3 0h1m1 0h1m1 0h1m-20 1h1m11 0h1m3 0h1m1 0h1m-18 1h1m1 0h1m1 0h1m13 0h1m-18 1h1m-6 1h1m3 0h1m15 0h1m-22 1h1m1 0h1m3 0h1m-2 1h1m1 0h1m-8 1h1m3 0h1m3 0h1m-8 1h1m3 0h1m-4 1h1m1 0h1m-3 2h1m-3 2h1m1 0h1m-2 1h1m-2 1h1m0 1h1m-2 1h1m0 1h1m0 1h1m-2 1h1m0 1h1m-2 1h1m0 1h1m0 1h1m-3 2h1m0 1h1m-2 1h1m59 0h1m1 0h1m1 0h1m1 0h1m1 0h1m-14 1h1m1 0h1m1 0h1m-60 1h1m55 0h1m1 0h1m-60 1h1m55 0h1m-58 1h1m55 0h1m1 0h1m-58 1h1m55 0h1m13 0h1m-18 1h1m1 0h1m-56 1h1m53 0h1m1 0h1m11 0h1m-68 1h1m53 0h1m11 0h1m-68 1h1m55 0h1m11 0h1m-12 1h1m1 0h1m7 0h1m-68 1h1m57 0h1m1 0h1m5 0h1m-66 1h1m57 0h1m-58 1h1m55 0h1m5 0h1m-64 1h1m1 0h1m53 0h1m1 0h1m3 0h1m-66 1h1m1 0h1m1 0h1m1 0h1m53 0h1m3 0h1m-62 1h1m0 1h1m-2 1h1m0 1h1m1 0h1m-4 1h1m1 0h1m1 0h1m-4 1h1m1 0h1m1 0h1m1 0h1m-6 1h1m1 0h1m1 0h1m1 0h1m-4 1h1m1 0h1m-4 1h1m1 0h1m-2 1h1m1 0h1m-2 1h1m1 0h1m-2 1h1m1 0h1m-2 1h1m3 2h1m0 1h1m11 0h1m-12 1h1m3 0h1m5 0h1m-12 1h1m3 0h1m3 0h1m-8 1h1m7 0h1m-10 1h1m-2 1h1m1 0h1m-2 1h1m1 0h1m1 0h1m-6 1h1m1 0h1m1 0h1m-4 1h1m1 0h1m1 0h1m1 0h1m5 0h1m-14 1h1m1 0h1m1 0h1m1 0h1m1 0h1m-8 1h1m1 0h1m1 0h1m1 0h1m1 0h1m1 0h1m-8 1h1m1 0h1m1 0h1m1 0h1m1 0h1m-6 1h1m1 0h1m1 0h1m1 0h1m-8 1h1m1 0h1m1 0h1m1 0h1m1 0h1m-8 1h1m1 0h1m1 0h1m1 0h1m1 0h1m-10 1h1m1 0h1m1 0h1m1 0h1m1 0h1m3 0h1m-12 1h1m1 0h1m1 0h1m1 0h1m5 0h1m-8 1h1m1 0h1m1 0h1m1 0h1m1 0h1m-8 1h1m1 0h1m1 0h1m-6 1h1m1 0h1m1 0h1m1 0h1m1 0h1m-8 1h1m1 0h1m1 0h1m3 0h1m-8 1h1m1 0h1m-2 1h1m-2 1h1m-2 1h1m1 0h1m-4 1h1m3 0h1m-4 1h1m-2 1h1m-6 1h1m3 0h1m1 0h1m-8 1h1m1 0h1m1 0h1m-6 1h1m1 0h1m1 0h1m-6 1h1m1 0h1m-4 1h1m-6 1h1"/>
<path stroke="#00572e" d="M70 44h1m1 0h1m-8 1h1m1 0h1m1 0h1m1 0h1m1 0h1m1 0h1m-8 1h1m3 0h1m1 0h1m1 0h1m-2 1h1m1 0h1m-2 1h1m1 0h1m1 0h1m-4 1h1m1 0h1m-4 1h1m1 0h1m1 0h1m1 0h1m-4 1h1m1 0h1m1 0h1m-6 1h1m1 0h1m1 0h1m-12 1h1m1 0h1m3 0h1m1 0h1m1 0h1m-12 1h1m1 0h1m1 0h1m5 0h1m-10 1h1m3 0h1m3 0h1m-8 1h1m1 0h1m3 0h1m-10 1h1m1 0h1m1 0h1m1 0h1m1 0h1m-8 1h1m1 0h1m1 0h1m1 0h1m1 0h1m-10 1h1m3 0h1m1 0h1m-2 1h1m1 0h1m-6 1h1m1 0h1m1 0h1m1 0h1m-8 1h1m1 0h1m-2 1h1m1 0h1m-2 1h1m0 1h1m-2 1h1m0 1h1m-8 1h1m5 0h1m-8 1h1m1 0h1m1 0h1m1 0h1m1 0h1m-10 1h1m1 0h1m1 0h1m1 0h1m-6 1h1m1 0h1m1 0h1m-8 1h1m1 0h1m3 0h1m-8 1h1m1 0h1m3 0h1m-6 1h1m1 0h1m-4 1h1m1 0h1m1 0h1m-2 1h1m-2 1h1m1 0h1m5 0h1m-10 1h1m1 0h1m5 0h1m-8 1h1m5 0h1m-8 1h1m1 0h1m3 0h1m1 0h1m1 0h1m-10 1h1m1 0h1m3 0h1m-6 1h1m1 0h1m0 1h1m-2 1h1m1 0h1m-4 1h1m1 0h1m1 0h1m-6 1h1m1 0h1m1 0h1m-8 1h1m1 0h1m1 0h1m1 0h1m1 0h1m-10 1h1m1 0h1m1 0h1m1 0h1m1 0h1m1 0h1m-16 1h1m3 0h1m1 0h1m1 0h1m1 0h1m1 0h1m1 0h1m1 0h1m-16 1h1m5 0h1m1 0h1m1 0h1m3 0h1m-18 1h1m1 0h1m1 0h1m3 0h1m1 0h1m1 0h1m1 0h1m1 0h1m1 0h1m5 0h1m-24 1h1m7 0h1m1 0h1m1 0h1m3 0h1m-18 1h1m1 0h1m1 0h1m5 0h1m1 0h1m3 0h1m1 0h1m-20 1h1m1 0h1m5 0h1m9 0h1m-22 1h1m3 0h1m15 0h1m-20 1h1m0 1h1m1 0h1m1 0h1m13 0h1m-22 1h1m1 0h1m1 0h1m-4 1h1m0 1h1m1 0h1m1 0h1m-5 2h1m-2 1h1m0 1h1m-2 3h1m-2 1h1m1 0h1m-2 1h1m-2 3h1m1 0h1m-2 1h1m0 1h1m0 3h1m-2 1h1m-2 1h1m0 1h1m57 0h1m1 0h1m3 0h1m1 0h1m-68 1h1m55 0h1m1 0h1m1 0h1m-62 1h1m1 0h1m53 0h1m3 0h1m-62 1h1m1 0h1m69 0h1m-72 1h1m55 0h1m13 0h1m-16 1h1m-56 1h1m53 0h1m1 0h1m-56 1h1m53 0h1m13 0h1m-70 1h1m55 0h1m11 0h1m-12 1h1m1 0h1m7 0h1m-68 1h1m57 0h1m1 0h1m5 0h1m-68 1h1m57 0h1m1 0h1m5 0h1m1 0h1m-10 1h1m5 0h1m-64 1h1m1 0h1m53 0h1m-58 1h1m1 0h1m55 0h1m3 0h1m-64 1h1m1 0h1m59 0h1m-62 1h1m1 0h1m-2 1h1m0 1h1m-2 1h1m1 0h1m1 0h1m-4 1h1m1 0h1m-2 1h1m1 0h1m1 0h1m-2 1h1m1 0h1m-4 1h1m1 0h1m1 0h1m-4 1h1m1 0h1m-2 1h1m-2 1h1m1 0h1m-2 1h1m1 0h1m1 0h1m0 1h1m0 1h1m0 1h1m0 1h1m9 0h1m-6 1h1m5 0h1m-12 1h1m5 0h1m-8 1h1m3 0h1m3 0h1m-8 1h1m7 0h1m-10 1h1m-2 1h1m1 0h1m1 0h1m-4 1h1m1 0h1m9 0h1m-14 1h1m1 0h1m1 0h1m1 0h1m1 0h1m-8 1h1m1 0h1m1 0h1m1 0h1m1 0h1m-6 1h1m1 0h1m1 0h1m-4 1h1m1 0h1m1 0h1m1 0h1m-6 1h1m1 0h1m1 0h1m1 0h1m1 0h1m-6 1h1m1 0h1m1 0h1m1 0h1m-10 1h1m1 0h1m1 0h1m1 0h1m1 0h1m-8 1h1m1 0h1m1 0h1m1 0h1m5 0h1m-10 1h1m1 0h1m3 0h1m1 0h1m1 0h1m-14 1h1m5 0h1m1 0h1m1 0h1m1 0h1m-8 1h1m1 0h1m3 0h1m-8 1h1m1 0h1m1 0h1m1 0h1m3 0h1m-10 1h1m1 0h1m1 0h1m1 0h1m1 0h1m-6 1h1m-2 1h1m1 0h1m5 0h1m-8 1h1m-2 1h1m1 0h1m-4 1h1m1 0h1m-4 1h1m0 1h1m-8 1h1m1 0h1m1 0h1m1 0h1m1 0h1m-8 1h1m1 0h1m1 0h1m-8 1h1m1 0h1m1 0h1m-4 1h1m-2 1h1m-6 1h1m3 0h1"/>
<path stroke="#005b30" d="M72 43h1m-4 1h1m5 0h1m1 0h1m-4 1h1m3 0h1m0 1h1m0 1h1m0 1h1m1 0h1m-2 1h1m1 0h1m-2 1h1m1 0h1m-2 1h1m-2 1h1m-2 1h1m1 0h1m-4 1h1m1 0h1m-2 1h1m-4 1h1m1 0h1m-2 1h1m-2 1h1m-2 1h1m1 0h1m-2 1h1m-2 1h1m-2 1h1m-4 1h1m1 0h1m1 0h1m-4 1h1m-2 1h1m0 1h1m-2 1h1m0 1h1m1 0h1m-4 1h1m1 0h1m-4 1h1m1 0h1m1 0h1m-8 1h1m1 0h1m1 0h1m1 0h1m-8 1h1m1 0h1m1 0h1m1 0h1m-10 1h1m1 0h1m1 0h1m1 0h1m1 0h1m-10 1h1m1 0h1m1 0h1m1 0h1m1 0h1m-8 1h1m1 0h1m1 0h1m1 0h1m1 0h1m-8 1h1m1 0h1m3 0h1m-6 1h1m3 0h1m1 0h1m-10 1h1m1 0h1m5 0h1m1 0h1m-10 1h1m1 0h1m3 0h1m1 0h1m-10 1h1m1 0h1m7 0h1m1 0h1m-10 1h1m1 0h1m1 0h1m1 0h1m5 0h1m-12 1h1m1 0h1m1 0h1m5 0h1m-10 1h1m1 0h1m1 0h1m-4 1h1m1 0h1m5 0h1m-8 1h1m3 0h1m1 0h1m-8 1h1m1 0h1m1 0h1m1 0h1m1 0h1m-14 1h1m1 0h1m3 0h1m1 0h1m1 0h1m1 0h1m-6 1h1m5 0h1m-8 1h1m3 0h1m1 0h1m-20 1h1m13 0h1m1 0h1m1 0h1m27 0h1m-48 1h1m1 0h1m11 0h1m1 0h1m1 0h1m1 0h1m25 0h1m1 0h1m-50 1h1m1 0h1m1 0h1m3 0h1m7 0h1m1 0h1m1 0h1m1 0h1m23 0h1m1 0h1m1 0h1m1 0h1m-56 1h1m1 0h1m1 0h1m1 0h1m1 0h1m3 0h1m5 0h1m1 0h1m1 0h1m1 0h1m1 0h1m23 0h1m1 0h1m1 0h1m-50 1h1m1 0h1m1 0h1m1 0h1m1 0h1m1 0h1m3 0h1m1 0h1m1 0h1m1 0h1m23 0h1m1 0h1m1 0h1m1 0h1m-54 1h1m1 0h1m1 0h1m1 0h1m1 0h1m1 0h1m1 0h1m1 0h1m1 0h1m1 0h1m1 0h1m1 0h1m25 0h1m1 0h1m1 0h1m1 0h1m-56 1h1m1 0h1m1 0h1m1 0h1m1 0h1m3 0h1m3 0h1m5 0h1m27 0h1m1 0h1m1 0h1m-54 1h1m1 0h1m1 0h1m1 0h1m5 0h1m1 0h1m1 0h1m3 0h1m29 0h1m1 0h1m-52 1h1m1 0h1m9 0h1m1 0h1m1 0h1m3 0h1m29 0h1m-54 1h1m3 0h1m11 0h1m1 0h1m-18 1h1m1 0h1m1 0h1m11 0h1m-18 1h1m1 0h1m1 0h1m-8 1h1m1 0h1m3 0h1m13 0h1m0 1h1m-22 1h1m-1 2h1m-2 1h1m0 1h1m-2 1h1m1 0h1m-2 1h1m-1 2h1m0 1h1m-2 1h1m0 1h1m41 0h1m1 0h1m-2 1h1m1 0h1m-46 1h1m41 0h1m-44 1h1m44 1h1m1 0h1m1 0h1m5 0h1m1 0h1m1 0h1m1 0h1m1 0h1m-20 1h1m1 0h1m1 0h1m1 0h1m1 0h1m1 0h1m1 0h1m11 0h1m-70 1h1m1 0h1m43 0h1m1 0h1m1 0h1m1 0h1m17 0h1m-70 1h1m43 0h1m1 0h1m1 0h1m1 0h1m1 0h1m-54 1h1m45 0h1m1 0h1m3 0h1m-54 1h1m49 0h1m1 0h1m17 0h1m-70 1h1m49 0h1m1 0h1m-54 1h1m49 0h1m-50 1h1m49 0h1m17 0h1m-18 1h1m15 0h1m-16 1h1m-54 1h1m53 0h1m-54 1h1m53 0h1m11 0h1m-66 1h1m51 0h1m1 0h1m7 0h1m1 0h1m-64 1h1m51 0h1m9 0h1m-62 1h1m49 0h1m9 0h1m-10 1h1m3 0h1m3 0h1m-62 1h1m1 0h1m51 0h1m1 0h1m1 0h1m1 0h1m-60 1h1m53 0h1m1 0h1m1 0h1m-60 1h1m1 0h1m0 1h1m1 0h1m-2 1h1m1 0h1m0 3h1m-2 1h1m1 0h1m-2 1h1m1 0h1m-2 1h1m1 0h1m1 0h1m-4 1h1m1 0h1m1 0h1m11 0h1m-16 1h1m1 0h1m1 0h1m9 0h1m-14 1h1m1 0h1m9 0h1m1 0h1m-14 1h1m1 0h1m1 0h1m5 0h1m1 0h1m1 0h1m-14 1h1m1 0h1m1 0h1m1 0h1m1 0h1m3 0h1m1 0h1m-14 1h1m3 0h1m1 0h1m3 0h1m1 0h1m1 0h1m-16 1h1m3 0h1m3 0h1m1 0h1m1 0h1m1 0h1m1 0h1m-16 1h1m1 0h1m1 0h1m3 0h1m1 0h1m1 0h1m1 0h1m-16 1h1m1 0h1m1 0h1m1 0h1m1 0h1m3 0h1m-12 1h1m1 0h1m1 0h1m1 0h1m1 0h1m1 0h1m1 0h1m1 0h1m-12 1h1m1 0h1m1 0h1m1 0h1m1 0h1m1 0h1m-12 1h1m1 0h1m1 0h1m1 0h1m1 0h1m-6 1h1m1 0h1m3 0h1m-6 1h1m1 0h1m1 0h1m1 0h1m1 0h1m-6 1h1m1 0h1m1 0h1m-4 1h1m1 0h1m1 0h1m3 0h1m-8 1h1m1 0h1m5 0h1m-8 1h1m1 0h1m1 0h1m3 0h1m-8 1h1m1 0h1m1 0h1m3 0h1m-10 1h1m3 0h1m3 0h1m-10 1h1m1 0h1m3 0h1m1 0h1m1 0h1m1 0h1m-6 1h1m1 0h1m1 0h1m-8 1h1m1 0h1m1 0h1m-2 1h1m-4 1h1m3 0h1m-6 1h1m1 0h1m1 0h1m5 0h1m-12 1h1m1 0h1m1 0h1m1 0h1m3 0h1m1 0h1m-14 1h1m1 0h1m1 0h1m1 0h1m5 0h1m-12 1h1m1 0h1m3 0h1m3 0h1m-14 1h1m3 0h1m-4 1h1m1 0h1m-4 1h1m1 0h1m-2 1h1m-4 1h1m1 0h1m-4 1h1m1 0h1m1 0h1m0 1h1"/>
<path stroke="#005b30" d="M71 43h1m1 0h1m-6 1h1m5 0h1m1 0h1m1 0h1m-2 1h1m1 0h1m-2 1h1m1 0h1m-2 1h1m3 0h1m-2 1h1m1 0h1m-4 1h1m1 0h1m0 1h1m0 1h1m-2 1h1m-2 1h1m-2 1h1m-2 1h1m-2 1h1m-2 1h1m1 0h1m-2 1h1m-4 1h1m1 0h1m-2 1h1m0 1h1m-6 1h1m1 0h1m-2 1h1m-2 1h1m0 1h1m-2 1h1m0 1h1m-2 1h1m1 0h1m-2 1h1m-4 1h1m1 0h1m1 0h1m-6 1h1m1 0h1m1 0h1m1 0h1m-12 1h1m3 0h1m3 0h1m-10 1h1m3 0h1m1 0h1m1 0h1m-8 1h1m1 0h1m1 0h1m1 0h1m1 0h1m-8 1h1m1 0h1m1 0h1m1 0h1m1 0h1m-10 1h1m1 0h1m1 0h1m1 0h1m1 0h1m-8 1h1m1 0h1m3 0h1m1 0h1m-10 1h1m1 0h1m3 0h1m1 0h1m-10 1h1m1 0h1m3 0h1m1 0h1m1 0h1m-10 1h1m7 0h1m1 0h1m-10 1h1m3 0h1m1 0h1m7 0h1m-14 1h1m1 0h1m1 0h1m1 0h1m5 0h1m-12 1h1m1 0h1m1 0h1m-4 1h1m1 0h1m5 0h1m-8 1h1m1 0h1m3 0h1m1 0h1m-10 1h1m1 0h1m1 0h1m1 0h1m1 0h1m-8 1h1m1 0h1m1 0h1m-4 1h1m1 0h1m1 0h1m1 0h1m-6 1h1m1 0h1m1 0h1m-20 1h1m1 0h1m11 0h1m1 0h1m1 0h1m1 0h1m25 0h1m-46 1h1m13 0h1m1 0h1m27 0h1m1 0h1m3 0h1m-54 1h1m1 0h1m1 0h1m7 0h1m3 0h1m1 0h1m1 0h1m1 0h1m21 0h1m3 0h1m1 0h1m1 0h1m-50 1h1m1 0h1m5 0h1m5 0h1m1 0h1m1 0h1m1 0h1m23 0h1m1 0h1m1 0h1m1 0h1m-54 1h1m1 0h1m3 0h1m1 0h1m1 0h1m1 0h1m3 0h1m1 0h1m1 0h1m1 0h1m25 0h1m1 0h1m1 0h1m1 0h1m-56 1h1m1 0h1m1 0h1m1 0h1m1 0h1m1 0h1m1 0h1m3 0h1m1 0h1m3 0h1m27 0h1m1 0h1m1 0h1m-56 1h1m1 0h1m1 0h1m1 0h1m1 0h1m5 0h1m1 0h1m1 0h1m3 0h1m1 0h1m27 0h1m1 0h1m-52 1h1m1 0h1m1 0h1m1 0h1m3 0h1m3 0h1m5 0h1m29 0h1m1 0h1m-56 1h1m1 0h1m1 0h1m1 0h1m7 0h1m1 0h1m1 0h1m1 0h1m1 0h1m31 0h1m-56 1h1m1 0h1m1 0h1m1 0h1m11 0h1m-16 1h1m1 0h1m-8 1h1m1 0h1m1 0h1m1 0h1m1 0h1m-8 1h1m5 0h1m11 0h1m-20 1h1m20 1h1m-22 1h1m-2 1h1m0 1h1m-1 2h1m-2 1h1m0 1h1m-1 2h1m0 1h1m-2 1h1m43 0h1m1 0h1m-46 1h1m41 0h1m1 0h1m-2 1h1m4 1h1m-50 1h1m43 0h1m1 0h1m1 0h1m1 0h1m3 0h1m1 0h1m1 0h1m1 0h1m1 0h1m-18 1h1m1 0h1m1 0h1m1 0h1m1 0h1m1 0h1m5 0h1m5 0h1m-68 1h1m43 0h1m1 0h1m1 0h1m1 0h1m1 0h1m-52 1h1m43 0h1m1 0h1m1 0h1m1 0h1m17 0h1m-70 1h1m43 0h1m1 0h1m1 0h1m1 0h1m1 0h1m-54 1h1m47 0h1m1 0h1m1 0h1m-54 1h1m49 0h1m1 0h1m-52 1h1m49 0h1m17 0h1m-20 1h1m1 0h1m-52 1h1m49 0h1m1 0h1m-54 1h1m51 0h1m1 0h1m13 0h1m-68 1h1m53 0h1m11 0h1m-68 1h1m1 0h1m51 0h1m-54 1h1m53 0h1m9 0h1m-12 1h1m9 0h1m-62 1h1m51 0h1m7 0h1m-62 1h1m1 0h1m49 0h1m1 0h1m1 0h1m3 0h1m-60 1h1m53 0h1m1 0h1m1 0h1m-60 1h1m1 0h1m55 0h1m-58 1h1m1 0h1m0 1h1m-2 1h1m1 0h1m0 1h1m0 1h1m0 1h1m-2 1h1m-2 1h1m1 0h1m-2 1h1m1 0h1m1 0h1m-2 1h1m3 0h1m9 0h1m-14 1h1m1 0h1m11 0h1m-14 1h1m1 0h1m7 0h1m1 0h1m-12 1h1m1 0h1m1 0h1m1 0h1m1 0h1m1 0h1m1 0h1m1 0h1m-14 1h1m1 0h1m1 0h1m1 0h1m3 0h1m1 0h1m1 0h1m-16 1h1m1 0h1m3 0h1m1 0h1m3 0h1m1 0h1m1 0h1m-16 1h1m1 0h1m3 0h1m1 0h1m1 0h1m1 0h1m1 0h1m-16 1h1m3 0h1m3 0h1m1 0h1m1 0h1m1 0h1m-14 1h1m1 0h1m1 0h1m3 0h1m1 0h1m1 0h1m-14 1h1m1 0h1m1 0h1m1 0h1m1 0h1m1 0h1m1 0h1m1 0h1m-12 1h1m1 0h1m1 0h1m1 0h1m1 0h1m1 0h1m-12 1h1m1 0h1m1 0h1m1 0h1m3 0h1m-6 1h1m1 0h1m1 0h1m1 0h1m-6 1h1m1 0h1m1 0h1m1 0h1m-8 1h1m1 0h1m1 0h1m1 0h1m1 0h1m-6 1h1m1 0h1m1 0h1m-2 1h1m1 0h1m3 0h1m1 0h1m-18 1h1m9 0h1m1 0h1m3 0h1m1 0h1m-10 1h1m1 0h1m1 0h1m3 0h1m-10 1h1m1 0h1m3 0h1m1 0h1m1 0h1m-12 1h1m7 0h1m1 0h1m1 0h1m-6 1h1m1 0h1m1 0h1m-10 1h1m3 0h1m1 0h1m1 0h1m-6 1h1m3 0h1m-2 1h1m-6 1h1m1 0h1m1 0h1m1 0h1m3 0h1m-10 1h1m1 0h1m5 0h1m1 0h1m-12 1h1m1 0h1m1 0h1m1 0h1m3 0h1m-10 1h1m3 0h1m5 0h1m-12 1h1m1 0h1m-6 1h1m1 0h1m-2 1h1m1 0h1m-5 2h1m1 0h1m-6 1h1m1 0h1m1 0h1"/>
<path stroke="#005f32" d="M73 42h1m1 0h1m1 0h1m1 0h1m-6 1h1m1 0h1m1 0h1m1 0h1m-2 1h1m1 0h1m-2 1h1m1 0h1m-2 1h1m1 0h1m-2 1h1m1 0h1m0 1h1m0 1h1m-1 2h1m-2 1h1m-2 3h1m-2 1h1m-2 1h1m-2 1h1m0 1h1m-2 1h1m-2 1h1m1 0h1m-4 1h1m1 0h1m-2 1h1m-4 1h1m1 0h1m-4 1h1m1 0h1m1 0h1m-4 1h1m1 0h1m-4 1h1m1 0h1m-1 2h1m1 0h1m-2 1h1m-2 1h1m1 0h1m-4 1h1m1 0h1m1 0h1m-6 1h1m1 0h1m1 0h1m1 0h1m-8 1h1m1 0h1m1 0h1m1 0h1m-6 1h1m1 0h1m1 0h1m1 0h1m-8 1h1m1 0h1m1 0h1m1 0h1m-6 1h1m1 0h1m1 0h1m1 0h1m-6 1h1m-2 1h1m1 0h1m0 1h1m1 0h1m-6 1h1m1 0h1m3 0h1m-8 1h1m1 0h1m3 0h1m-6 1h1m1 0h1m1 0h1m1 0h1m-8 1h1m1 0h1m3 0h1m7 0h1m-16 1h1m5 0h1m1 0h1m3 0h1m3 0h1m-10 1h1m5 0h1m1 0h1m-10 1h1m1 0h1m3 0h1m-10 1h1m3 0h1m1 0h1m19 0h1m-24 1h1m1 0h1m1 0h1m17 0h1m1 0h1m1 0h1m1 0h1m1 0h1m-32 1h1m1 0h1m1 0h1m15 0h1m1 0h1m1 0h1m3 0h1m1 0h1m-30 1h1m1 0h1m15 0h1m1 0h1m1 0h1m5 0h1m1 0h1m-30 1h1m1 0h1m15 0h1m1 0h1m9 0h1m-12 1h1m1 0h1m7 0h1m-30 1h1m17 0h1m1 0h1m9 0h1m-32 1h1m19 0h1m1 0h1m-38 1h1m7 0h1m1 0h1m3 0h1m1 0h1m17 0h1m1 0h1m1 0h1m7 0h1m-48 1h1m1 0h1m7 0h1m3 0h1m1 0h1m19 0h1m1 0h1m1 0h1m5 0h1m-50 1h1m1 0h1m1 0h1m1 0h1m7 0h1m3 0h1m1 0h1m21 0h1m1 0h1m3 0h1m-50 1h1m1 0h1m5 0h1m5 0h1m1 0h1m1 0h1m1 0h1m23 0h1m1 0h1m1 0h1m-48 1h1m7 0h1m3 0h1m1 0h1m1 0h1m1 0h1m27 0h1m-48 1h1m7 0h1m1 0h1m1 0h1m1 0h1m1 0h1m1 0h1m1 0h1m-26 1h1m3 0h1m9 0h1m3 0h1m1 0h1m1 0h1m1 0h1m-28 1h1m1 0h1m1 0h1m1 0h1m11 0h1m3 0h1m1 0h1m-24 1h1m17 0h1m1 0h1m1 0h1m-24 1h1m1 0h1m17 0h1m-20 1h1m-2 1h1m0 1h1m0 1h1m-2 1h1m-2 1h1m0 1h1m0 1h1m-2 1h1m41 0h1m1 0h1m-44 1h1m43 0h1m1 0h1m1 0h1m-50 1h1m1 0h1m37 0h1m5 0h1m1 0h1m1 0h1m-12 1h1m3 0h1m1 0h1m3 0h1m1 0h1m-52 1h1m35 0h1m1 0h1m1 0h1m1 0h1m1 0h1m1 0h1m1 0h1m1 0h1m1 0h1m1 0h1m1 0h1m3 0h1m-62 1h1m33 0h1m3 0h1m3 0h1m7 0h1m1 0h1m11 0h1m-66 1h1m1 0h1m33 0h1m5 0h1m-40 1h1m35 0h1m1 0h1m1 0h1m-42 1h1m-2 1h1m41 0h1m5 0h1m19 0h1m-70 1h1m1 0h1m43 0h1m-46 1h1m43 0h1m1 0h1m-48 1h1m45 0h1m21 0h1m-68 1h1m45 0h1m-48 1h1m47 0h1m-50 1h1m1 0h1m47 0h1m17 0h1m-68 1h1m1 0h1m47 0h1m15 0h1m-66 1h1m49 0h1m-50 1h1m47 0h1m-48 1h1m47 0h1m13 0h1m-16 1h1m-48 1h1m47 0h1m11 0h1m-60 1h1m45 0h1m1 0h1m9 0h1m-60 1h1m1 0h1m43 0h1m1 0h1m1 0h1m7 0h1m-58 1h1m1 0h1m37 0h1m3 0h1m1 0h1m1 0h1m1 0h1m1 0h1m1 0h1m1 0h1m-54 1h1m29 0h1m1 0h1m1 0h1m1 0h1m1 0h1m1 0h1m1 0h1m1 0h1m1 0h1m1 0h1m1 0h1m-22 1h1m1 0h1m1 0h1m1 0h1m1 0h1m1 0h1m1 0h1m1 0h1m1 0h1m3 0h1m1 0h1m-52 1h1m31 0h1m1 0h1m1 0h1m1 0h1m1 0h1m1 0h1m1 0h1m-44 1h1m1 0h1m3 0h1m19 0h1m3 0h1m1 0h1m1 0h1m3 0h1m1 0h1m-40 1h1m1 0h1m1 0h1m17 0h1m1 0h1m3 0h1m3 0h1m5 0h1m1 0h1m-40 1h1m1 0h1m1 0h1m9 0h1m7 0h1m1 0h1m1 0h1m1 0h1m1 0h1m-30 1h1m1 0h1m1 0h1m7 0h1m1 0h1m1 0h1m1 0h1m1 0h1m1 0h1m3 0h1m1 0h1m1 0h1m-28 1h1m1 0h1m5 0h1m1 0h1m1 0h1m1 0h1m1 0h1m1 0h1m3 0h1m1 0h1m1 0h1m-26 1h1m5 0h1m1 0h1m3 0h1m1 0h1m3 0h1m3 0h1m-22 1h1m5 0h1m3 0h1m1 0h1m1 0h1m3 0h1m-20 1h1m1 0h1m1 0h1m1 0h1m5 0h1m1 0h1m1 0h1m-14 1h1m1 0h1m7 0h1m1 0h1m-2 1h1m0 1h1m1 0h1m-2 1h1m-2 1h1m-8 1h1m3 0h1m1 0h1m1 0h1m-2 1h1m-2 1h1m1 0h1m3 0h1m-10 1h1m1 0h1m3 0h1m1 0h1m1 0h1m-10 1h1m1 0h1m1 0h1m1 0h1m1 0h1m1 0h1m1 0h1m-10 1h1m1 0h1m1 0h1m1 0h1m1 0h1m1 0h1m-12 1h1m1 0h1m1 0h1m1 0h1m1 0h1m1 0h1m-10 1h1m3 0h1m1 0h1m-8 1h1m1 0h1m3 0h1m1 0h1m3 0h1m-10 1h1m3 0h1m-4 1h1m3 0h1m3 0h1m-10 1h1m3 0h1m1 0h1m1 0h1m1 0h1m-4 1h1m1 0h1m-4 1h1m1 0h1m-6 1h1m1 0h1m1 0h1m1 0h1m-8 1h1m1 0h1m1 0h1m-4 1h1m1 0h1m1 0h1m1 0h1m-8 1h1m1 0h1m3 0h1m1 0h1m-8 1h1m5 0h1m-8 1h1m1 0h1m3 0h1m1 0h1m-12 1h1m3 0h1m3 0h1m1 0h1m-12 1h1m1 0h1m1 0h1m1 0h1m1 0h1m1 0h1m-12 1h1m1 0h1m1 0h1m1 0h1m3 0h1m-12 1h1m1 0h1m1 0h1m-6 1h1m1 0h1m1 0h1m1 0h1m-8 1h1m1 0h1m1 0h1m1 0h1m-6 1h1m1 0h1m-2 1h1m1 0h1m1 0h1m-4 1h1m1 0h1"/>
<path stroke="#005f32" d="M76 42h1m1 0h1m-4 1h1m1 0h1m1 0h1m0 1h1m0 1h1m0 1h1m1 0h1m-4 1h1m3 2h1m0 1h1m-2 3h1m-2 1h1m-2 1h1m-2 1h1m-1 2h1m-2 1h1m-2 1h1m1 0h1m-2 1h1m-4 1h1m1 0h1m-4 1h1m1 0h1m-4 1h1m1 0h1m1 0h1m-4 1h1m1 0h1m-4 1h1m1 0h1m1 0h1m-4 1h1m0 1h1m-2 1h1m1 0h1m1 0h1m-4 1h1m1 0h1m-2 1h1m1 0h1m-10 1h1m3 0h1m1 0h1m1 0h1m1 0h1m-8 1h1m1 0h1m1 0h1m1 0h1m-6 1h1m1 0h1m1 0h1m1 0h1m-6 1h1m1 0h1m1 0h1m-6 1h1m1 0h1m1 0h1m1 0h1m-6 1h1m1 0h1m3 0h1m-8 1h1m1 0h1m-2 1h1m1 0h1m-2 1h1m1 0h1m1 0h1m-8 1h1m1 0h1m1 0h1m-4 1h1m1 0h1m3 0h1m-8 1h1m1 0h1m1 0h1m1 0h1m-8 1h1m1 0h1m3 0h1m1 0h1m3 0h1m-12 1h1m5 0h1m3 0h1m-6 1h1m1 0h1m3 0h1m1 0h1m-12 1h1m1 0h1m1 0h1m3 0h1m-6 1h1m3 0h1m17 0h1m3 0h1m-28 1h1m1 0h1m1 0h1m17 0h1m1 0h1m1 0h1m1 0h1m1 0h1m-30 1h1m1 0h1m17 0h1m1 0h1m3 0h1m1 0h1m1 0h1m-32 1h1m1 0h1m17 0h1m1 0h1m5 0h1m-28 1h1m1 0h1m15 0h1m3 0h1m7 0h1m-30 1h1m17 0h1m1 0h1m9 0h1m-32 1h1m19 0h1m1 0h1m9 0h1m-38 1h1m3 0h1m1 0h1m19 0h1m1 0h1m-40 1h1m1 0h1m7 0h1m5 0h1m19 0h1m1 0h1m1 0h1m5 0h1m-46 1h1m7 0h1m1 0h1m3 0h1m1 0h1m21 0h1m1 0h1m-44 1h1m1 0h1m1 0h1m11 0h1m1 0h1m21 0h1m1 0h1m1 0h1m-46 1h1m5 0h1m1 0h1m3 0h1m1 0h1m1 0h1m1 0h1m1 0h1m21 0h1m1 0h1m1 0h1m-48 1h1m7 0h1m1 0h1m1 0h1m1 0h1m1 0h1m1 0h1m1 0h1m25 0h1m-46 1h1m5 0h1m1 0h1m1 0h1m1 0h1m1 0h1m1 0h1m1 0h1m-26 1h1m1 0h1m3 0h1m11 0h1m1 0h1m1 0h1m1 0h1m-26 1h1m1 0h1m1 0h1m11 0h1m1 0h1m1 0h1m1 0h1m1 0h1m-26 1h1m1 0h1m15 0h1m5 0h1m-24 1h1m-2 1h1m0 1h1m-2 1h1m1 0h1m-2 1h1m-2 1h1m-1 2h1m1 0h1m-2 1h1m0 1h1m39 0h1m1 0h1m1 0h1m-46 1h1m1 0h1m37 0h1m5 0h1m1 0h1m-48 1h1m37 0h1m5 0h1m1 0h1m3 0h1m-52 1h1m39 0h1m3 0h1m1 0h1m1 0h1m1 0h1m1 0h1m-54 1h1m33 0h1m3 0h1m3 0h1m1 0h1m1 0h1m3 0h1m1 0h1m1 0h1m1 0h1m1 0h1m1 0h1m-60 1h1m35 0h1m3 0h1m9 0h1m11 0h1m-64 1h1m33 0h1m1 0h1m5 0h1m-42 1h1m35 0h1m1 0h1m1 0h1m0 1h1m-42 1h1m-2 1h1m41 0h1m1 0h1m23 0h1m-70 1h1m45 0h1m21 0h1m-68 1h1m45 0h1m-48 1h1m45 0h1m21 0h1m-68 1h1m65 0h1m-68 1h1m0 1h1m49 0h1m-50 1h1m63 0h1m-66 1h1m1 0h1m47 0h1m13 0h1m-64 1h1m1 0h1m45 0h1m13 0h1m-62 1h1m47 0h1m11 0h1m-60 1h1m45 0h1m11 0h1m-60 1h1m45 0h1m1 0h1m1 0h1m7 0h1m1 0h1m-60 1h1m41 0h1m1 0h1m1 0h1m1 0h1m1 0h1m1 0h1m3 0h1m-56 1h1m37 0h1m3 0h1m1 0h1m1 0h1m1 0h1m1 0h1m1 0h1m1 0h1m-54 1h1m29 0h1m1 0h1m1 0h1m1 0h1m1 0h1m1 0h1m1 0h1m1 0h1m1 0h1m1 0h1m1 0h1m1 0h1m-52 1h1m27 0h1m1 0h1m1 0h1m1 0h1m1 0h1m1 0h1m1 0h1m1 0h1m1 0h1m1 0h1m3 0h1m-50 1h1m25 0h1m3 0h1m1 0h1m1 0h1m1 0h1m1 0h1m1 0h1m1 0h1m1 0h1m-44 1h1m3 0h1m19 0h1m3 0h1m1 0h1m1 0h1m5 0h1m1 0h1m-40 1h1m1 0h1m1 0h1m17 0h1m1 0h1m1 0h1m1 0h1m7 0h1m1 0h1m-40 1h1m1 0h1m1 0h1m17 0h1m1 0h1m3 0h1m1 0h1m1 0h1m-32 1h1m1 0h1m1 0h1m7 0h1m1 0h1m1 0h1m1 0h1m1 0h1m1 0h1m1 0h1m1 0h1m1 0h1m1 0h1m-28 1h1m1 0h1m1 0h1m5 0h1m1 0h1m1 0h1m1 0h1m1 0h1m3 0h1m1 0h1m1 0h1m-28 1h1m9 0h1m3 0h1m1 0h1m5 0h1m1 0h1m-22 1h1m1 0h1m3 0h1m1 0h1m3 0h1m1 0h1m-14 1h1m1 0h1m1 0h1m5 0h1m1 0h1m1 0h1m-2 1h1m0 1h1m0 1h1m-2 1h1m-2 1h1m1 0h1m-4 1h1m1 0h1m1 0h1m-4 1h1m1 0h1m-4 1h1m1 0h1m5 0h1m-10 1h1m5 0h1m1 0h1m-8 1h1m1 0h1m1 0h1m1 0h1m1 0h1m1 0h1m-10 1h1m1 0h1m1 0h1m1 0h1m1 0h1m1 0h1m-10 1h1m1 0h1m1 0h1m1 0h1m3 0h1m-12 1h1m1 0h1m1 0h1m1 0h1m1 0h1m-8 1h1m5 0h1m-6 1h1m5 0h1m3 0h1m-10 1h1m3 0h1m1 0h1m1 0h1m1 0h1m-6 1h1m1 0h1m1 0h1m-4 1h1m1 0h1m-4 1h1m1 0h1m1 0h1m-6 1h1m1 0h1m1 0h1m-6 1h1m1 0h1m1 0h1m-6 1h1m1 0h1m1 0h1m1 0h1m1 0h1m-8 1h1m3 0h1m1 0h1m-8 1h1m5 0h1m1 0h1m-8 1h1m3 0h1m1 0h1m-12 1h1m3 0h1m1 0h1m3 0h1m-10 1h1m1 0h1m1 0h1m1 0h1m1 0h1m-12 1h1m1 0h1m1 0h1m1 0h1m1 0h1m1 0h1m1 0h1m-10 1h1m1 0h1m1 0h1m-10 1h1m1 0h1m1 0h1m1 0h1m1 0h1m-8 1h1m1 0h1m1 0h1m1 0h1m-8 1h1m1 0h1m3 0h1m-6 1h1m1 0h1m1 0h1m-4 1h1m1 0h1"/>
<path stroke="#006334" d="M75 40h1m-2 1h1m1 0h1m1 0h1m2 1h1m0 1h1m0 1h1m0 1h1m0 1h1m1 2h1m-1 2h1m-1 2h1m-2 1h1m-2 1h1m-1 2h1m-2 1h1m-2 1h1m-1 2h1m0 1h1m-2 1h1m-2 1h1m-2 1h1m1 0h1m-2 1h1m-2 1h1m-2 1h1m-2 1h1m1 0h1m0 1h1m-2 1h1m1 0h1m-2 1h1m1 0h1m-2 1h1m0 1h1m-2 1h1m1 0h1m-2 1h1m-2 1h1m1 0h1m-2 1h1m-6 1h1m1 0h1m1 0h1m1 0h1m-6 1h1m1 0h1m1 0h1m1 0h1m-4 1h1m1 0h1m-2 1h1m1 0h1m1 0h1m-6 1h1m1 0h1m1 0h1m-4 1h1m1 0h1m1 0h1m1 0h1m-8 1h1m1 0h1m1 0h1m3 0h1m-8 1h1m3 0h1m3 0h1m-10 1h1m1 0h1m-2 1h1m3 0h1m1 0h1m1 0h1m5 0h1m1 0h1m1 0h1m1 0h1m1 0h1m-22 1h1m1 0h1m1 0h1m1 0h1m5 0h1m1 0h1m1 0h1m3 0h1m1 0h1m1 0h1m-24 1h1m1 0h1m9 0h1m1 0h1m-16 1h1m3 0h1m7 0h1m13 0h1m-28 1h1m1 0h1m10 1h1m15 0h1m-32 1h1m1 0h1m13 0h1m13 0h1m-30 1h1m1 0h1m-4 1h1m1 0h1m13 0h1m13 0h1m-30 1h1m-2 1h1m15 0h1m13 0h1m-30 1h1m17 0h1m-38 1h1m1 0h1m15 0h1m1 0h1m17 0h1m7 0h1m-48 1h1m1 0h1m1 0h1m13 0h1m1 0h1m19 0h1m1 0h1m3 0h1m-48 1h1m1 0h1m1 0h1m15 0h1m21 0h1m1 0h1m1 0h1m-48 1h1m3 0h1m1 0h1m13 0h1m25 0h1m-48 1h1m7 0h1m9 0h1m1 0h1m-26 1h1m1 0h1m1 0h1m1 0h1m7 0h1m7 0h1m1 0h1m-24 1h1m11 0h1m1 0h1m3 0h1m1 0h1m-22 1h1m13 0h1m1 0h1m1 0h1m1 0h1m1 0h1m-24 1h1m1 0h1m-2 1h1m40 1h1m1 0h1m-44 1h1m37 0h1m1 0h1m1 0h1m-44 1h1m1 0h1m37 0h1m1 0h1m1 0h1m-44 1h1m37 0h1m1 0h1m1 0h1m-6 1h1m1 0h1m1 0h1m1 0h1m1 0h1m-46 1h1m35 0h1m1 0h1m5 0h1m1 0h1m-46 1h1m33 0h1m1 0h1m11 0h1m-16 1h1m1 0h1m13 0h1m1 0h1m-54 1h1m1 0h1m29 0h1m1 0h1m1 0h1m9 0h1m5 0h1m1 0h1m-54 1h1m29 0h1m1 0h1m23 0h1m3 0h1m-62 1h1m29 0h1m3 0h1m3 0h1m-38 1h1m27 0h1m1 0h1m3 0h1m1 0h1m-8 1h1m1 0h1m1 0h1m-6 1h1m1 0h1m1 0h1m1 0h1m1 0h1m1 0h1m-40 1h1m29 0h1m1 0h1m1 0h1m1 0h1m1 0h1m-8 1h1m1 0h1m5 0h1m1 0h1m-42 1h1m39 0h1m25 0h1m-68 1h1m41 0h1m-42 1h1m41 0h1m-44 1h1m43 0h1m21 0h1m-22 1h1m0 1h1m-46 1h1m45 0h1m-46 1h1m0 1h1m43 0h1m-46 1h1m27 0h1m31 0h1m-60 1h1m43 0h1m-44 1h1m27 0h1m9 0h1m1 0h1m1 0h1m15 0h1m-58 1h1m27 0h1m1 0h1m1 0h1m3 0h1m1 0h1m1 0h1m15 0h1m-56 1h1m25 0h1m1 0h1m1 0h1m1 0h1m1 0h1m3 0h1m15 0h1m-54 1h1m25 0h1m23 0h1m1 0h1m-54 1h1m1 0h1m1 0h1m3 0h1m1 0h1m7 0h1m7 0h1m19 0h1m5 0h1m-52 1h1m1 0h1m1 0h1m1 0h1m3 0h1m3 0h1m1 0h1m3 0h1m3 0h1m1 0h1m1 0h1m15 0h1m1 0h1m1 0h1m1 0h1m-48 1h1m3 0h1m3 0h1m1 0h1m1 0h1m1 0h1m3 0h1m1 0h1m3 0h1m7 0h1m5 0h1m1 0h1m1 0h1m1 0h1m-42 1h1m1 0h1m1 0h1m1 0h1m3 0h1m1 0h1m1 0h1m5 0h1m3 0h1m3 0h1m1 0h1m5 0h1m-36 1h1m5 0h1m3 0h1m1 0h1m1 0h1m11 0h1m1 0h1m1 0h1m1 0h1m1 0h1m-34 1h1m1 0h1m1 0h1m13 0h1m7 0h1m1 0h1m1 0h1m1 0h1m-32 1h1m1 0h1m13 0h1m7 0h1m1 0h1m1 0h1m1 0h1m-32 1h1m1 0h1m11 0h1m3 0h1m3 0h1m1 0h1m1 0h1m1 0h1m-28 1h1m1 0h1m11 0h1m3 0h1m1 0h1m1 0h1m1 0h1m1 0h1m-12 1h1m1 0h1m1 0h1m1 0h1m1 0h1m1 0h1m-12 1h1m1 0h1m1 0h1m1 0h1m1 0h1m1 0h1m-12 1h1m1 0h1m1 0h1m1 0h1m1 0h1m1 0h1m1 0h1m-10 1h1m1 0h1m3 0h1m1 0h1m-10 1h1m1 0h1m7 0h1m-12 1h1m1 0h1m1 0h1m1 0h1m3 0h1m-10 1h1m1 0h1m1 0h1m1 0h1m1 0h1m1 0h1m-12 1h1m1 0h1m1 0h1m1 0h1m1 0h1m1 0h1m1 0h1m-12 1h1m3 0h1m1 0h1m1 0h1m1 0h1m1 0h1m-16 1h1m7 0h1m1 0h1m1 0h1m1 0h1m-4 1h1m1 0h1m-2 1h1m1 0h1m-4 1h1m1 0h1m-6 1h1m1 0h1m1 0h1m1 0h1m-6 1h1m3 0h1m-6 1h1m1 0h1m1 0h1m-4 1h1m3 0h1m-2 3h1m-3 2h1m1 0h1m0 1h1m-7 6h1m-4 1h1m1 0h1m1 0h1m-4 1h1m1 0h1m-4 1h1m1 0h1m-6 1h1m1 0h1m1 0h1m-2 1h1m-2 1h1m-4 1h1m1 0h1m1 0h1"/>
<path stroke="#006334" d="M76 40h1m-2 1h1m1 0h1m1 0h1m-6 1h1m5 0h1m0 1h1m0 1h1m0 1h1m1 2h1m0 1h1m0 1h1m-1 2h1m-2 1h1m-1 2h1m-2 1h1m-2 1h1m-2 1h1m1 0h1m-2 1h1m-2 1h1m-1 2h1m-2 1h1m1 0h1m-4 1h1m1 0h1m-2 1h1m-2 1h1m-3 2h1m1 0h1m-2 1h1m1 0h1m0 1h1m-2 1h1m1 0h1m-2 1h1m-1 2h1m0 1h1m-2 1h1m1 0h1m-2 1h1m-4 1h1m-2 1h1m1 0h1m1 0h1m1 0h1m-6 1h1m1 0h1m1 0h1m1 0h1m-4 1h1m-2 1h1m1 0h1m1 0h1m-4 1h1m1 0h1m1 0h1m-6 1h1m1 0h1m1 0h1m1 0h1m-6 1h1m3 0h1m1 0h1m-8 1h1m3 0h1m1 0h1m1 0h1m-8 1h1m5 0h1m9 0h1m-18 1h1m3 0h1m1 0h1m1 0h1m5 0h1m1 0h1m1 0h1m1 0h1m1 0h1m1 0h1m-26 1h1m3 0h1m1 0h1m1 0h1m1 0h1m5 0h1m1 0h1m3 0h1m3 0h1m1 0h1m-26 1h1m1 0h1m9 0h1m1 0h1m11 0h1m-28 1h1m1 0h1m1 0h1m9 0h1m-16 1h1m1 0h1m11 0h1m13 0h1m-28 1h1m1 0h1m25 0h1m-30 1h1m13 0h1m-16 1h1m1 0h1m13 0h1m-16 1h1m15 0h1m11 0h1m-30 1h1m15 0h1m13 0h1m-30 1h1m15 0h1m1 0h1m9 0h1m-30 1h1m1 0h1m15 0h1m9 0h1m-48 1h1m1 0h1m17 0h1m17 0h1m7 0h1m-48 1h1m1 0h1m1 0h1m15 0h1m19 0h1m1 0h1m3 0h1m-46 1h1m1 0h1m15 0h1m23 0h1m1 0h1m1 0h1m-46 1h1m1 0h1m1 0h1m11 0h1m-22 1h1m7 0h1m11 0h1m-24 1h1m1 0h1m1 0h1m7 0h1m5 0h1m3 0h1m1 0h1m-26 1h1m11 0h1m1 0h1m1 0h1m1 0h1m1 0h1m3 0h1m-26 1h1m15 0h1m3 0h1m1 0h1m-22 1h1m19 0h1m-20 1h1m-2 1h1m39 0h1m1 0h1m-44 1h1m39 0h1m1 0h1m1 0h1m-46 1h1m1 0h1m37 0h1m1 0h1m1 0h1m1 0h1m-8 1h1m1 0h1m1 0h1m-42 1h1m37 0h1m1 0h1m1 0h1m1 0h1m1 0h1m-46 1h1m35 0h1m7 0h1m1 0h1m-14 1h1m1 0h1m11 0h1m1 0h1m-50 1h1m31 0h1m1 0h1m11 0h1m3 0h1m-52 1h1m29 0h1m1 0h1m1 0h1m1 0h1m15 0h1m1 0h1m-56 1h1m33 0h1m3 0h1m21 0h1m-60 1h1m27 0h1m1 0h1m1 0h1m3 0h1m-38 1h1m29 0h1m5 0h1m1 0h1m-38 1h1m27 0h1m1 0h1m1 0h1m-34 1h1m29 0h1m1 0h1m1 0h1m1 0h1m1 0h1m-8 1h1m1 0h1m3 0h1m1 0h1m-40 1h1m31 0h1m-34 1h1m41 0h1m-42 1h1m41 0h1m-44 1h1m0 1h1m43 0h1m-46 1h1m45 0h1m19 0h1m-20 1h1m17 0h1m-18 1h1m-2 1h1m-45 2h1m43 0h1m-44 1h1m25 0h1m15 0h1m15 0h1m-60 1h1m39 0h1m1 0h1m-42 1h1m1 0h1m25 0h1m1 0h1m1 0h1m5 0h1m17 0h1m1 0h1m-58 1h1m27 0h1m1 0h1m1 0h1m1 0h1m3 0h1m15 0h1m1 0h1m-56 1h1m25 0h1m25 0h1m-52 1h1m1 0h1m1 0h1m1 0h1m11 0h1m3 0h1m23 0h1m3 0h1m-50 1h1m1 0h1m1 0h1m1 0h1m1 0h1m1 0h1m3 0h1m1 0h1m5 0h1m3 0h1m17 0h1m1 0h1m1 0h1m-48 1h1m3 0h1m1 0h1m1 0h1m1 0h1m1 0h1m1 0h1m1 0h1m1 0h1m1 0h1m3 0h1m7 0h1m1 0h1m5 0h1m1 0h1m1 0h1m1 0h1m-42 1h1m3 0h1m1 0h1m1 0h1m1 0h1m1 0h1m1 0h1m9 0h1m1 0h1m1 0h1m5 0h1m5 0h1m-42 1h1m1 0h1m3 0h1m1 0h1m1 0h1m1 0h1m1 0h1m5 0h1m7 0h1m1 0h1m1 0h1m1 0h1m1 0h1m-36 1h1m1 0h1m1 0h1m21 0h1m1 0h1m1 0h1m1 0h1m1 0h1m-32 1h1m1 0h1m11 0h1m7 0h1m1 0h1m1 0h1m1 0h1m-32 1h1m1 0h1m1 0h1m9 0h1m1 0h1m5 0h1m1 0h1m1 0h1m1 0h1m-26 1h1m11 0h1m1 0h1m1 0h1m1 0h1m1 0h1m1 0h1m1 0h1m1 0h1m-14 1h1m1 0h1m1 0h1m1 0h1m1 0h1m1 0h1m1 0h1m-14 1h1m1 0h1m1 0h1m1 0h1m1 0h1m1 0h1m1 0h1m3 0h1m-16 1h1m1 0h1m1 0h1m1 0h1m1 0h1m1 0h1m-10 1h1m1 0h1m5 0h1m-10 1h1m1 0h1m1 0h1m5 0h1m-10 1h1m1 0h1m1 0h1m1 0h1m3 0h1m-10 1h1m1 0h1m1 0h1m3 0h1m-10 1h1m1 0h1m1 0h1m1 0h1m1 0h1m1 0h1m1 0h1m-14 1h1m1 0h1m3 0h1m1 0h1m1 0h1m1 0h1m-16 1h1m1 0h1m5 0h1m1 0h1m1 0h1m1 0h1m-4 1h1m1 0h1m1 0h1m-4 1h1m1 0h1m-6 1h1m3 0h1m-4 1h1m1 0h1m1 0h1m-6 1h1m1 0h1m1 0h1m1 0h1m-6 1h1m3 2h1m-2 1h1m-1 2h1m-2 1h1m1 0h1m-2 5h1m-14 3h1m7 0h1m1 0h1m-4 1h1m-2 1h1m-6 1h1m3 0h1m-2 1h1m1 0h1m-4 1h1m1 0h1m-4 1h1m1 0h1"/>
<path stroke="#006737" d="M76 39h1m1 0h1m-2 1h1m1 0h1m0 1h1m3 2h1m0 1h1m0 1h1m0 1h1m-2 1h1m1 2h1m-1 2h1m-2 3h1m-2 1h1m-1 2h1m-2 1h1m-2 1h1m1 0h1m-2 3h1m-2 1h1m0 1h1m1 0h1m-4 1h1m1 0h1m-4 1h1m1 0h1m1 0h1m-6 1h1m1 0h1m1 0h1m-4 1h1m1 0h1m-2 1h1m1 0h1m-2 1h1m-1 2h1m1 2h1m-2 1h1m1 0h1m-2 1h1m1 0h1m-4 1h1m1 0h1m-2 1h1m0 1h1m-2 1h1m1 0h1m0 1h1m-2 1h1m3 2h1m0 1h1m1 0h1m-6 1h1m1 0h1m3 0h1m1 0h1m1 0h1m1 0h1m1 0h1m1 0h1m-14 1h1m1 0h1m11 0h1m1 0h1m-18 1h1m1 0h1m15 0h1m-22 1h1m1 0h1m1 0h1m1 0h1m-10 1h1m3 0h1m1 0h1m1 0h1m-8 1h1m1 0h1m3 0h1m1 0h1m15 0h1m-28 1h1m1 0h1m1 0h1m5 0h1m-10 1h1m1 0h1m7 0h1m-10 1h1m9 0h1m15 0h1m-28 1h1m9 0h1m-12 1h1m11 0h1m-14 1h1m1 0h1m-2 1h1m11 0h1m1 0h1m-2 1h1m1 0h1m-16 1h1m13 0h1m1 0h1m-18 1h1m15 0h1m1 0h1m-40 1h1m19 0h1m17 0h1m1 0h1m1 0h1m3 0h1m-48 1h1m1 0h1m1 0h1m15 0h1m17 0h1m1 0h1m3 0h1m1 0h1m-46 1h1m1 0h1m1 0h1m13 0h1m25 0h1m-50 1h1m1 0h1m1 0h1m3 0h1m11 0h1m1 0h1m19 0h1m3 0h1m1 0h1m-50 1h1m3 0h1m5 0h1m11 0h1m15 0h1m3 0h1m3 0h1m1 0h1m-48 1h1m9 0h1m1 0h1m1 0h1m1 0h1m1 0h1m1 0h1m17 0h1m1 0h1m1 0h1m-44 1h1m13 0h1m1 0h1m1 0h1m1 0h1m17 0h1m1 0h1m1 0h1m3 0h1m3 0h1m-52 1h1m17 0h1m1 0h1m15 0h1m1 0h1m9 0h1m-48 1h1m41 0h1m3 0h1m1 0h1m1 0h1m-16 1h1m7 0h1m1 0h1m-14 1h1m1 0h1m7 0h1m1 0h1m-46 1h1m31 0h1m1 0h1m11 0h1m1 0h1m1 0h1m-50 1h1m31 0h1m13 0h1m1 0h1m1 0h1m-24 1h1m3 0h1m17 0h1m1 0h1m-52 1h1m25 0h1m1 0h1m1 0h1m21 0h1m-28 1h1m1 0h1m25 0h1m1 0h1m-30 1h1m-28 1h1m25 0h1m-2 1h1m-26 1h1m25 0h1m-28 1h1m65 0h1m-66 1h1m25 0h1m-28 1h1m27 0h1m5 0h1m1 0h1m-36 1h1m27 0h1m1 0h1m1 0h1m1 0h1m1 0h1m-38 1h1m27 0h1m1 0h1m1 0h1m1 0h1m3 0h1m-10 1h1m3 0h1m31 0h1m-66 1h1m39 0h1m-42 1h1m1 0h1m39 0h1m-42 1h1m27 0h1m-2 1h1m1 0h1m-28 1h1m23 0h1m1 0h1m1 0h1m13 0h1m-18 1h1m1 0h1m13 0h1m-42 1h1m23 0h1m3 0h1m13 0h1m-42 1h1m21 0h1m1 0h1m1 0h1m1 0h1m1 0h1m7 0h1m1 0h1m-40 1h1m21 0h1m1 0h1m3 0h1m1 0h1m1 0h1m1 0h1m-34 1h1m19 0h1m1 0h1m1 0h1m7 0h1m-32 1h1m1 0h1m5 0h1m1 0h1m1 0h1m3 0h1m3 0h1m1 0h1m-22 1h1m1 0h1m1 0h1m1 0h1m1 0h1m1 0h1m1 0h1m1 0h1m1 0h1m1 0h1m1 0h1m1 0h1m29 0h1m-50 1h1m5 0h1m1 0h1m1 0h1m3 0h1m1 0h1m1 0h1m29 0h1m-46 1h1m3 0h1m5 0h1m3 0h1m29 0h1m-44 1h1m9 0h1m29 0h1m1 0h1m-38 1h1m29 0h1m1 0h1m1 0h1m1 0h1m-42 1h1m1 0h1m31 0h1m1 0h1m1 0h1m1 0h1m-8 1h1m1 0h1m1 0h1m-6 1h1m1 0h1m-6 1h1m1 0h1m1 0h1m1 0h1m-8 1h1m1 0h1m-4 1h1m1 0h1m1 0h1m-6 1h1m1 0h1m1 0h1m-4 1h1m1 0h1m-10 1h1m5 0h1m1 0h1m1 0h1m-12 1h1m1 0h1m1 0h1m3 0h1m-6 1h1m3 0h1m1 0h1m-2 1h1m0 1h1m-1 2h1m-2 1h1m-1 2h1m-1 2h1m-2 1h1m-9 18h1m-2 1h1m0 1h1"/>
<path stroke="#006737" d="M75 39h1m1 0h1m0 1h1m2 1h1m0 1h1m0 1h1m0 1h1m0 1h1m0 1h1m0 1h1m0 1h1m-1 2h1m-1 2h1m-2 1h1m-2 3h1m-1 2h1m-2 1h1m-2 1h1m0 1h1m0 1h1m-2 1h1m-2 1h1m1 0h1m-4 1h1m1 0h1m1 0h1m-6 1h1m1 0h1m1 0h1m-4 1h1m1 0h1m-2 1h1m0 1h1m0 1h1m-2 1h1m-2 1h1m0 1h1m0 1h1m0 1h1m-2 1h1m1 0h1m-4 1h1m1 0h1m0 1h1m-3 2h1m1 0h1m0 1h1m0 1h1m0 1h1m0 1h1m0 1h1m1 0h1m5 0h1m-10 1h1m1 0h1m1 0h1m1 0h1m3 0h1m1 0h1m1 0h1m-14 1h1m1 0h1m13 0h1m1 0h1m-18 1h1m1 0h1m-8 1h1m1 0h1m1 0h1m1 0h1m-6 1h1m3 0h1m1 0h1m15 0h1m-26 1h1m1 0h1m1 0h1m1 0h1m1 0h1m17 0h1m-26 1h1m1 0h1m3 0h1m1 0h1m-12 1h1m1 0h1m1 0h1m5 0h1m17 0h1m-28 1h1m9 0h1m-12 1h1m1 0h1m9 0h1m15 0h1m-30 1h1m1 0h1m9 0h1m-12 1h1m11 0h1m15 0h1m-16 1h1m-14 1h1m13 0h1m-16 1h1m13 0h1m1 0h1m9 0h1m-28 1h1m15 0h1m1 0h1m1 0h1m-42 1h1m19 0h1m1 0h1m17 0h1m1 0h1m1 0h1m1 0h1m-48 1h1m1 0h1m1 0h1m15 0h1m19 0h1m5 0h1m-46 1h1m3 0h1m15 0h1m23 0h1m-50 1h1m1 0h1m1 0h1m15 0h1m3 0h1m23 0h1m-50 1h1m5 0h1m3 0h1m1 0h1m3 0h1m5 0h1m21 0h1m3 0h1m1 0h1m-50 1h1m9 0h1m1 0h1m1 0h1m1 0h1m3 0h1m17 0h1m1 0h1m1 0h1m3 0h1m3 0h1m-36 1h1m1 0h1m1 0h1m17 0h1m1 0h1m1 0h1m1 0h1m5 0h1m-34 1h1m19 0h1m5 0h1m3 0h1m1 0h1m1 0h1m-52 1h1m35 0h1m7 0h1m1 0h1m1 0h1m1 0h1m-16 1h1m9 0h1m1 0h1m-48 1h1m33 0h1m7 0h1m1 0h1m1 0h1m-46 1h1m31 0h1m1 0h1m11 0h1m1 0h1m-18 1h1m1 0h1m13 0h1m1 0h1m-50 1h1m29 0h1m19 0h1m-24 1h1m1 0h1m21 0h1m-52 1h1m25 0h1m27 0h1m-56 1h1m25 0h1m1 0h1m31 0h1m-36 1h1m-26 1h1m25 0h1m38 1h1m-66 1h1m25 0h1m-28 1h1m27 0h1m5 0h1m31 0h1m-66 1h1m25 0h1m1 0h1m3 0h1m1 0h1m1 0h1m-38 1h1m27 0h1m1 0h1m1 0h1m1 0h1m1 0h1m1 0h1m-38 1h1m27 0h1m1 0h1m1 0h1m3 0h1m1 0h1m25 0h1m-66 1h1m29 0h1m1 0h1m7 0h1m0 1h1m23 0h1m-66 1h1m41 0h1m-44 1h1m43 0h1m-44 1h1m27 0h1m15 0h1m-44 1h1m25 0h1m1 0h1m-28 1h1m23 0h1m1 0h1m15 0h1m-42 1h1m21 0h1m1 0h1m1 0h1m13 0h1m-40 1h1m21 0h1m3 0h1m1 0h1m3 0h1m3 0h1m1 0h1m-40 1h1m21 0h1m1 0h1m1 0h1m1 0h1m1 0h1m1 0h1m3 0h1m21 0h1m-38 1h1m1 0h1m1 0h1m7 0h1m1 0h1m-34 1h1m1 0h1m7 0h1m1 0h1m7 0h1m1 0h1m1 0h1m-24 1h1m1 0h1m1 0h1m1 0h1m1 0h1m1 0h1m1 0h1m1 0h1m1 0h1m1 0h1m1 0h1m1 0h1m29 0h1m1 0h1m-48 1h1m1 0h1m1 0h1m1 0h1m1 0h1m3 0h1m3 0h1m27 0h1m-40 1h1m5 0h1m1 0h1m29 0h1m1 0h1m-4 1h1m1 0h1m-44 1h1m33 0h1m1 0h1m3 0h1m1 0h1m-42 1h1m33 0h1m1 0h1m1 0h1m1 0h1m-8 1h1m1 0h1m-6 1h1m1 0h1m1 0h1m-8 1h1m1 0h1m1 0h1m-4 1h1m1 0h1m-4 1h1m1 0h1m-4 1h1m-2 1h1m1 0h1m1 0h1m-12 1h1m1 0h1m3 0h1m1 0h1m1 0h1m1 0h1m-12 1h1m1 0h1m3 0h1m1 0h1m-6 1h1m3 0h1m-6 1h1m3 0h1m1 0h1m-1 2h1m-2 1h1m0 1h1m-2 1h1m-2 1h1m0 1h1m-3 2h1m0 1h1m-8 15h1m-2 1h1m1 0h1m-3 2h1m-2 1h1"/>
<path stroke="#006a39" d="M81 40h1m0 1h1m0 1h1m1 0h1m2 5h1m0 1h1m-1 2h1m-1 2h1m-2 1h1m-2 3h1m-1 2h1m-3 2h1m0 1h1m0 1h1m-2 1h1m1 0h1m-1 2h1m0 1h1m1 0h1m-4 1h1m1 0h1m-4 1h1m1 0h1m-2 1h1m-2 1h1m-2 1h1m1 0h1m-2 1h1m-2 1h1m1 0h1m0 1h1m0 1h1m-1 2h1m-2 1h1m0 1h1m0 1h1m-1 2h1m0 1h1m1 0h1m0 1h1m3 0h1m1 0h1m-4 1h1m1 0h1m1 0h1m1 0h1m3 0h1m-14 1h1m13 0h1m1 0h1m0 3h1m0 1h1m-22 1h1m-2 1h1m1 0h1m-4 1h1m1 0h1m1 0h1m-6 1h1m5 0h1m-8 1h1m1 0h1m3 0h1m-8 1h1m1 0h1m5 0h1m-8 1h1m7 0h1m-10 1h1m7 0h1m-10 1h1m9 0h1m0 1h1m-12 1h1m9 0h1m1 0h1m-14 1h1m11 0h1m1 0h1m-16 1h1m13 0h1m5 0h1m-22 1h1m1 0h1m7 0h1m1 0h1m1 0h1m1 0h1m1 0h1m1 0h1m1 0h1m-42 1h1m17 0h1m1 0h1m1 0h1m7 0h1m1 0h1m1 0h1m3 0h1m5 0h1m1 0h1m-52 1h1m3 0h1m1 0h1m17 0h1m1 0h1m3 0h1m1 0h1m1 0h1m3 0h1m3 0h1m5 0h1m1 0h1m-50 1h1m1 0h1m1 0h1m1 0h1m13 0h1m7 0h1m1 0h1m1 0h1m1 0h1m7 0h1m1 0h1m1 0h1m1 0h1m-50 1h1m5 0h1m1 0h1m1 0h1m9 0h1m9 0h1m1 0h1m1 0h1m7 0h1m3 0h1m3 0h1m-52 1h1m5 0h1m1 0h1m1 0h1m1 0h1m1 0h1m5 0h1m7 0h1m1 0h1m1 0h1m9 0h1m1 0h1m3 0h1m1 0h1m-50 1h1m5 0h1m1 0h1m5 0h1m1 0h1m1 0h1m1 0h1m9 0h1m1 0h1m9 0h1m-44 1h1m15 0h1m1 0h1m1 0h1m9 0h1m1 0h1m13 0h1m1 0h1m-50 1h1m13 0h1m1 0h1m1 0h1m1 0h1m25 0h1m1 0h1m1 0h1m-50 1h1m15 0h1m1 0h1m31 0h1m-34 1h1m1 0h1m7 0h1m1 0h1m21 0h1m-52 1h1m17 0h1m1 0h1m3 0h1m3 0h1m-28 1h1m17 0h1m1 0h1m1 0h1m29 0h1m-54 1h1m19 0h1m1 0h1m33 0h1m1 0h1m-60 1h1m21 0h1m1 0h1m-24 1h1m19 0h1m1 0h1m-24 1h1m19 0h1m1 0h1m0 1h1m-24 1h1m23 0h1m-25 2h1m21 0h1m1 0h1m39 0h1m-42 1h1m1 0h1m-26 1h1m23 0h1m9 0h1m-36 1h1m25 0h1m3 0h1m3 0h1m1 0h1m1 0h1m-38 1h1m25 0h1m1 0h1m1 0h1m1 0h1m-12 1h1m1 0h1m1 0h1m1 0h1m1 0h1m-30 1h1m21 0h1m1 0h1m3 0h1m1 0h1m9 0h1m-42 1h1m1 0h1m21 0h1m5 0h1m9 0h1m1 0h1m-40 1h1m17 0h1m1 0h1m7 0h1m1 0h1m7 0h1m-40 1h1m17 0h1m1 0h1m1 0h1m5 0h1m1 0h1m1 0h1m1 0h1m1 0h1m1 0h1m-38 1h1m17 0h1m1 0h1m7 0h1m1 0h1m1 0h1m1 0h1m1 0h1m1 0h1m-38 1h1m15 0h1m1 0h1m11 0h1m1 0h1m1 0h1m-34 1h1m11 0h1m1 0h1m1 0h1m1 0h1m-18 1h1m1 0h1m5 0h1m1 0h1m1 0h1m1 0h1m1 0h1m37 0h1m-52 1h1m1 0h1m7 0h1m3 0h1m35 0h1m0 1h1m-2 1h1m-2 1h1m-2 1h1m-2 1h1m1 0h1m-4 1h1m1 0h1m-6 1h1m1 0h1m1 0h1m-8 1h1m1 0h1m-2 1h1m-6 1h1m1 0h1m1 0h1m0 1h1m-6 1h1m-2 1h1m1 0h1m-2 1h1m-4 1h1m1 0h1m-2 1h1m-2 1h1m1 0h1m-3 2h1m0 1h1m-2 1h1m-2 1h1m-1 2h1m-10 19h1m0 1h1m-2 1h1m-1 2h1"/>
<path stroke="#006a39" d="M79 39h1m0 1h1m1 0h1m0 1h1m0 1h1m0 1h1m0 1h1m0 1h1m0 1h1m0 3h1m-1 2h1m-1 2h1m-2 1h1m-2 1h1m-1 2h1m-1 2h1m-1 4h1m0 1h1m-1 2h1m1 0h1m-4 1h1m1 0h1m-4 1h1m0 1h1m1 0h1m-2 1h1m-2 1h1m-2 1h1m1 0h1m-2 1h1m0 1h1m0 1h1m1 0h1m-2 1h1m-2 1h1m0 1h1m-2 1h1m1 0h1m-2 1h1m0 1h1m0 1h1m0 1h1m1 0h1m-2 1h1m1 0h1m1 0h1m1 0h1m1 0h1m-6 1h1m1 0h1m3 0h1m5 0h1m-2 1h1m1 0h1m1 2h1m0 1h1m-22 1h1m-1 2h1m-2 1h1m1 0h1m-6 1h1m1 0h1m3 0h1m-6 1h1m5 0h1m-8 1h1m-2 1h1m1 0h1m5 0h1m-10 1h1m9 0h1m-10 1h1m9 0h1m-12 1h1m-2 1h1m1 0h1m9 0h1m-12 1h1m11 0h1m1 0h1m-18 1h1m1 0h1m13 0h1m3 0h1m1 0h1m-42 1h1m19 0h1m9 0h1m1 0h1m1 0h1m1 0h1m1 0h1m1 0h1m3 0h1m-46 1h1m1 0h1m17 0h1m1 0h1m7 0h1m1 0h1m1 0h1m1 0h1m1 0h1m1 0h1m3 0h1m1 0h1m-52 1h1m1 0h1m3 0h1m15 0h1m3 0h1m1 0h1m3 0h1m1 0h1m1 0h1m1 0h1m1 0h1m3 0h1m5 0h1m1 0h1m-52 1h1m1 0h1m1 0h1m1 0h1m13 0h1m1 0h1m7 0h1m1 0h1m1 0h1m7 0h1m3 0h1m3 0h1m-52 1h1m5 0h1m1 0h1m1 0h1m1 0h1m7 0h1m1 0h1m7 0h1m1 0h1m1 0h1m9 0h1m1 0h1m3 0h1m-52 1h1m7 0h1m1 0h1m1 0h1m1 0h1m3 0h1m1 0h1m1 0h1m7 0h1m1 0h1m1 0h1m9 0h1m7 0h1m-52 1h1m5 0h1m7 0h1m1 0h1m1 0h1m1 0h1m11 0h1m17 0h1m-52 1h1m15 0h1m1 0h1m13 0h1m15 0h1m1 0h1m-50 1h1m15 0h1m1 0h1m1 0h1m9 0h1m15 0h1m1 0h1m-48 1h1m15 0h1m1 0h1m9 0h1m19 0h1m-50 1h1m17 0h1m7 0h1m1 0h1m21 0h1m-50 1h1m17 0h1m1 0h1m3 0h1m1 0h1m23 0h1m-52 1h1m17 0h1m1 0h1m3 0h1m27 0h1m-34 1h1m1 0h1m1 0h1m31 0h1m1 0h1m-58 1h1m19 0h1m1 0h1m-24 1h1m19 0h1m1 0h1m-2 1h1m1 0h1m-24 1h1m23 0h1m-25 2h1m23 0h1m-2 1h1m-24 1h1m23 0h1m39 0h1m-42 1h1m1 0h1m7 0h1m-8 1h1m5 0h1m1 0h1m1 0h1m27 0h1m-66 1h1m25 0h1m1 0h1m1 0h1m1 0h1m1 0h1m3 0h1m-38 1h1m21 0h1m1 0h1m1 0h1m1 0h1m1 0h1m3 0h1m3 0h1m-40 1h1m1 0h1m21 0h1m1 0h1m1 0h1m1 0h1m9 0h1m-40 1h1m1 0h1m19 0h1m1 0h1m3 0h1m11 0h1m-40 1h1m19 0h1m1 0h1m5 0h1m1 0h1m5 0h1m1 0h1m1 0h1m-40 1h1m17 0h1m1 0h1m5 0h1m1 0h1m1 0h1m1 0h1m1 0h1m1 0h1m1 0h1m-38 1h1m17 0h1m7 0h1m1 0h1m1 0h1m1 0h1m1 0h1m1 0h1m-36 1h1m15 0h1m1 0h1m9 0h1m3 0h1m-34 1h1m1 0h1m11 0h1m1 0h1m1 0h1m13 0h1m-32 1h1m1 0h1m5 0h1m1 0h1m1 0h1m1 0h1m1 0h1m39 0h1m-54 1h1m1 0h1m1 0h1m5 0h1m1 0h1m1 0h1m37 0h1m-3 2h1m1 0h1m-3 2h1m-2 1h1m-2 1h1m-6 1h1m1 0h1m1 0h1m-6 1h1m1 0h1m-6 1h1m1 0h1m1 0h1m-6 1h1m1 0h1m1 0h1m-6 1h1m-2 1h1m1 0h1m-2 1h1m0 1h1m-4 1h1m1 0h1m-4 1h1m1 0h1m-2 1h1m-2 1h1m-1 2h1m0 1h1m-2 1h1m-2 1h1m-2 3h1m-9 18h1m-1 2h1"/>
<path stroke="#006e3c" d="M81 38h1m-2 1h1m1 0h1m0 1h1m0 1h1m1 2h1m0 1h1m0 1h1m0 1h1m0 3h1m-1 2h1m-1 2h1m-2 1h1m-2 1h1m-1 2h1m-1 2h1m-2 1h1m1 0h1m-2 1h1m1 2h1m-2 1h1m0 1h1m2 1h1m-2 1h1m-2 1h1m-2 1h1m-2 1h1m0 3h1m1 2h1m-2 1h1m1 0h1m-2 1h1m1 0h1m-4 1h1m1 0h1m-2 1h1m0 1h1m1 0h1m-4 1h1m1 0h1m1 0h1m-4 1h1m1 0h1m0 1h1m1 0h1m5 0h1m-8 1h1m5 0h1m1 0h1m1 0h1m1 0h1m-4 1h1m3 0h1m1 0h1m0 1h1m-2 1h1m0 1h1m0 1h1m-24 5h1m1 0h1m-2 1h1m-2 1h1m1 0h1m-4 1h1m1 0h1m1 0h1m-6 1h1m1 0h1m1 0h1m-6 1h1m1 0h1m3 0h1m-8 1h1m1 0h1m5 0h1m-8 1h1m1 0h1m3 0h1m-8 1h1m1 0h1m1 0h1m1 0h1m1 0h1m-10 1h1m1 0h1m1 0h1m1 0h1m1 0h1m1 0h1m-10 1h1m1 0h1m1 0h1m-4 1h1m1 0h1m1 0h1m-12 1h1m5 0h1m23 0h1m-30 1h1m1 0h1m1 0h1m23 0h1m-50 1h1m1 0h1m17 0h1m3 0h1m1 0h1m-28 1h1m1 0h1m17 0h1m1 0h1m1 0h1m25 0h1m-48 1h1m5 0h1m1 0h1m9 0h1m3 0h1m1 0h1m21 0h1m-46 1h1m1 0h1m1 0h1m1 0h1m1 0h1m7 0h1m1 0h1m1 0h1m1 0h1m21 0h1m-50 1h1m1 0h1m1 0h1m1 0h1m3 0h1m9 0h1m1 0h1m1 0h1m3 0h1m21 0h1m-50 1h1m1 0h1m7 0h1m1 0h1m5 0h1m1 0h1m1 0h1m1 0h1m1 0h1m23 0h1m-52 1h1m13 0h1m5 0h1m1 0h1m1 0h1m-24 1h1m13 0h1m5 0h1m29 0h1m-50 1h1m13 0h1m37 0h1m-54 1h1m13 0h1m1 0h1m-18 1h1m1 0h1m13 0h1m1 0h1m-18 1h1m15 0h1m-18 1h1m-2 1h1m1 0h1m1 0h1m13 0h1m1 0h1m43 0h1m-64 1h1m1 0h1m15 0h1m1 0h1m-22 1h1m17 0h1m1 0h1m1 0h1m-23 2h1m19 0h1m-20 1h1m19 0h1m41 0h1m-64 1h1m19 0h1m1 0h1m-22 1h1m17 0h1m1 0h1m1 0h1m9 0h1m1 0h1m-36 1h1m17 0h1m11 0h1m1 0h1m1 0h1m1 0h1m-36 1h1m15 0h1m1 0h1m11 0h1m1 0h1m1 0h1m1 0h1m-36 1h1m15 0h1m1 0h1m9 0h1m1 0h1m1 0h1m1 0h1m-34 1h1m13 0h1m15 0h1m1 0h1m1 0h1m-36 1h1m13 0h1m-14 1h1m1 0h1m7 0h1m1 0h1m1 0h1m-14 1h1m3 0h1m5 0h1m1 0h1m-12 1h1m1 0h1m1 0h1m1 0h1m1 0h1m-6 1h1m1 0h1m48 1h1m-1 2h1m-2 1h1m-2 1h1m0 1h1m-2 1h1m-2 1h1m-6 1h1m1 0h1m-4 1h1m1 0h1m-4 1h1m1 0h1m-8 1h1m1 0h1m-2 1h1m1 0h1m-2 1h1m-2 1h1m-2 1h1m1 0h1m-4 1h1m1 0h1m1 0h1m-4 1h1m-4 1h1m1 0h1m1 0h1m-4 1h1m1 0h1m-2 1h1m-2 1h1m-2 1h1m1 0h1m-4 1h1"/>
<path stroke="#006e3c" d="M81 39h1m1 0h1m0 1h1m0 1h1m0 1h1m2 5h1m0 1h1m-1 2h1m-1 2h1m-2 3h1m-2 1h1m0 1h1m-2 1h1m-3 2h1m1 0h1m-2 1h1m1 0h1m-2 1h1m0 1h1m0 1h1m-2 1h1m1 0h1m3 0h1m-4 1h1m-2 1h1m1 0h1m-6 1h1m1 0h1m0 1h1m-2 1h1m-2 1h1m-1 2h1m0 1h1m1 0h1m-1 2h1m-2 1h1m1 0h1m-2 1h1m0 1h1m-2 1h1m1 0h1m-2 1h1m1 0h1m-2 1h1m1 0h1m0 1h1m1 0h1m3 0h1m0 1h1m1 0h1m1 0h1m-4 1h1m1 0h1m5 0h1m-2 1h1m0 1h1m-22 7h1m-2 1h1m1 0h1m-4 1h1m1 0h1m1 0h1m-2 1h1m-6 1h1m1 0h1m1 0h1m1 0h1m-6 1h1m5 0h1m-8 1h1m1 0h1m5 0h1m-8 1h1m5 0h1m-8 1h1m1 0h1m1 0h1m1 0h1m1 0h1m-10 1h1m1 0h1m1 0h1m1 0h1m1 0h1m1 0h1m-12 1h1m1 0h1m1 0h1m1 0h1m-6 1h1m1 0h1m1 0h1m19 0h1m-30 1h1m5 0h1m-6 1h1m1 0h1m1 0h1m23 0h1m-52 1h1m1 0h1m19 0h1m1 0h1m1 0h1m-28 1h1m1 0h1m1 0h1m17 0h1m3 0h1m-24 1h1m3 0h1m1 0h1m1 0h1m9 0h1m1 0h1m1 0h1m1 0h1m1 0h1m21 0h1m-52 1h1m3 0h1m1 0h1m1 0h1m1 0h1m1 0h1m5 0h1m1 0h1m3 0h1m1 0h1m1 0h1m21 0h1m-50 1h1m9 0h1m1 0h1m9 0h1m3 0h1m21 0h1m-48 1h1m1 0h1m7 0h1m1 0h1m5 0h1m1 0h1m1 0h1m1 0h1m23 0h1m-48 1h1m11 0h1m3 0h1m1 0h1m1 0h1m27 0h1m-50 1h1m13 0h1m5 0h1m-22 1h1m13 0h1m5 0h1m31 0h1m-54 1h1m1 0h1m13 0h1m-16 1h1m15 0h1m-18 1h1m-2 1h1m17 0h1m-18 1h1m1 0h1m15 0h1m1 0h1m-22 1h1m1 0h1m17 0h1m1 0h1m41 0h1m-48 1h1m1 0h1m1 0h1m-22 1h1m19 0h1m-20 1h1m19 0h1m-22 1h1m17 0h1m1 0h1m-22 1h1m1 0h1m19 0h1m1 0h1m-24 1h1m19 0h1m1 0h1m11 0h1m-34 1h1m17 0h1m11 0h1m3 0h1m-20 1h1m1 0h1m1 0h1m9 0h1m1 0h1m1 0h1m1 0h1m-34 1h1m13 0h1m1 0h1m9 0h1m1 0h1m1 0h1m1 0h1m1 0h1m-36 1h1m15 0h1m13 0h1m1 0h1m-32 1h1m9 0h1m3 0h1m-4 1h1m1 0h1m1 0h1m-14 1h1m7 0h1m1 0h1m1 0h1m-12 1h1m1 0h1m1 0h1m1 0h1m1 0h1m-8 1h1m1 0h1m49 2h1m-3 2h1m0 1h1m-2 1h1m-2 1h1m-2 1h1m-4 1h1m-2 1h1m-7 2h1m1 0h1m1 0h1m-4 1h1m1 0h1m-4 1h1m1 0h1m-2 1h1m-2 1h1m1 0h1m-4 1h1m1 0h1m-4 1h1m1 0h1m-4 1h1m1 0h1m-4 1h1m1 0h1m-2 1h1m0 1h1m-2 1h1"/>
<path stroke="#00723e" d="M131 22h1m-2 1h1m-48 15h1m0 1h1m0 1h1m0 1h1m0 1h1m2 3h1m-1 2h1m1 0h1m-2 1h1m0 1h1m-2 1h1m0 1h1m-2 1h1m-2 3h1m-2 1h1m0 1h1m-2 1h1m1 0h1m-2 1h1m0 1h1m-2 1h1m-2 1h1m2 1h1m1 0h1m1 0h1m-6 1h1m1 0h1m1 0h1m-4 1h1m1 0h1m1 0h1m-2 1h1m-2 1h1m-2 1h1m-2 1h1m-2 1h1m-2 1h1m1 0h1m-4 1h1m1 0h1m-1 2h1m1 0h1m1 4h1m-2 1h1m1 0h1m0 1h1m-1 2h1m1 0h1m1 0h1m1 0h1m1 0h1m3 0h1m-10 1h1m1 0h1m3 0h1m1 0h1m1 0h1m1 0h1m-2 1h1m1 0h1m0 1h1m-1 2h1m0 1h1m-24 11h1m-2 1h1m1 0h1m-2 1h1m19 4h1m0 1h1m-2 1h1m-30 1h1m27 0h1m0 1h1m-52 1h1m21 0h1m27 0h1m-52 1h1m1 0h1m47 0h1m-44 1h1m17 0h1m-22 1h1m1 0h1m1 0h1m-8 1h1m1 0h1m1 0h1m1 0h1m1 0h1m1 0h1m39 0h1m-50 1h1m3 0h1m1 0h1m1 0h1m41 0h1m-50 1h1m1 0h1m1 0h1m1 0h1m3 0h1m41 0h1m-54 1h1m1 0h1m1 0h1m1 0h1m-6 1h1m1 0h1m1 0h1m3 0h1m1 0h1m-12 1h1m1 0h1m1 0h1m7 0h1m-14 1h1m1 0h1m1 0h1m7 0h1m1 0h1m-12 1h1m7 0h1m1 0h1m-12 1h1m1 0h1m7 0h1m1 0h1m-16 1h1m1 0h1m11 0h1m47 0h1m-64 1h1m1 0h1m9 0h1m1 0h1m1 0h1m1 0h1m-18 1h1m1 0h1m9 0h1m1 0h1m1 0h1m45 0h1m-62 1h1m9 0h1m3 0h1m1 0h1m-18 1h1m13 0h1m1 0h1m45 0h1m-62 1h1m13 0h1m-16 1h1m1 0h1m7 0h1m3 0h1m-14 1h1m7 0h1m1 0h1m1 0h1m-12 1h1m7 0h1m1 0h1m1 0h1m-4 1h1m1 0h1m-12 1h1m1 0h1m3 0h1m1 0h1m1 0h1m-8 1h1m1 0h1m1 0h1m-6 1h1m3 0h1m1 0h1m46 7h1m-10 7h1m-2 1h1m-2 1h1m-2 1h1m1 0h1m-2 1h1m0 1h1m-4 1h1m1 0h1m-2 1h1m-2 1h1m-2 1h1m-2 1h1"/>
<path stroke="#00723e" d="M138 22h1m-8 1h1m-50 15h1m4 5h1m0 1h1m0 1h1m0 1h1m0 1h1m0 1h1m-2 1h1m0 1h1m-2 1h1m0 1h1m-2 1h1m-2 1h1m-1 2h1m-1 2h1m-2 1h1m0 1h1m1 0h1m-3 2h1m0 1h1m1 0h1m1 0h1m-4 1h1m1 0h1m1 0h1m-4 1h1m0 1h1m0 1h1m-4 1h1m1 0h1m-2 1h1m1 0h1m-4 1h1m-2 1h1m-2 1h1m0 1h1m1 2h1m0 1h1m0 1h1m-2 1h1m0 1h1m0 1h1m1 2h1m1 0h1m1 0h1m1 0h1m-4 1h1m3 0h1m1 0h1m1 0h1m1 0h1m1 0h1m-4 1h1m1 0h1m1 0h1m-4 1h1m2 1h1m0 1h1m-2 1h1m-24 9h1m-1 2h1m1 0h1m-2 1h1m1 0h1m-4 1h1m1 0h1m18 5h1m-3 2h1m1 0h1m-30 1h1m27 0h1m-52 1h1m0 1h1m19 0h1m-20 1h1m1 0h1m1 0h1m1 0h1m11 0h1m3 0h1m25 0h1m-46 1h1m1 0h1m1 0h1m41 0h1m-52 1h1m3 0h1m1 0h1m1 0h1m1 0h1m1 0h1m-10 1h1m3 0h1m1 0h1m3 0h1m37 0h1m1 0h1m-52 1h1m1 0h1m3 0h1m45 0h1m1 0h1m-54 1h1m1 0h1m1 0h1m1 0h1m3 0h1m-12 1h1m1 0h1m1 0h1m1 0h1m1 0h1m1 0h1m1 0h1m-14 1h1m1 0h1m1 0h1m1 0h1m1 0h1m3 0h1m1 0h1m-16 1h1m1 0h1m1 0h1m1 0h1m7 0h1m-12 1h1m1 0h1m7 0h1m1 0h1m-14 1h1m1 0h1m9 0h1m1 0h1m-18 1h1m1 0h1m1 0h1m9 0h1m-14 1h1m1 0h1m9 0h1m1 0h1m1 0h1m45 0h1m-62 1h1m9 0h1m1 0h1m1 0h1m1 0h1m-18 1h1m61 0h1m-48 1h1m1 0h1m-18 1h1m13 0h1m1 0h1m-16 1h1m7 0h1m1 0h1m3 0h1m-16 1h1m1 0h1m7 0h1m1 0h1m-4 1h1m1 0h1m1 0h1m-12 1h1m9 0h1m1 0h1m-12 1h1m1 0h1m1 0h1m1 0h1m3 0h1m-12 1h1m1 0h1m1 0h1m1 0h1m1 0h1m-6 1h1m1 0h1m1 0h1m47 6h1m-1 2h1m-2 1h1m-2 1h1m-8 3h1m-1 2h1m-2 1h1m-2 1h1m1 0h1m-2 1h1m-2 1h1m-2 1h1m1 0h1m-4 1h1m1 0h1m-4 1h1m-2 1h1m0 1h1"/>
<path stroke="#007641" d="M130 21h1m1 0h1m5 0h1m-10 1h1m3 0h1m3 0h1m1 0h1m-8 1h1m1 0h1m1 0h1m1 0h1m-8 1h1m3 0h1m3 0h1m-55 12h1m2 7h1m0 1h1m1 0h1m-1 2h1m1 0h1m-1 2h1m3 0h1m-4 1h1m-2 1h1m1 0h1m5 0h1m-8 1h1m7 0h1m-10 1h1m1 0h1m5 0h1m-10 1h1m3 0h1m3 0h1m-10 1h1m2 1h1m-4 1h1m1 0h1m1 0h1m-4 1h1m1 0h1m3 0h1m-6 1h1m5 0h1m-8 1h1m5 0h1m1 0h1m-8 1h1m5 0h1m-8 1h1m5 0h1m-8 1h1m1 0h1m1 0h1m2 1h1m-2 1h1m-2 3h1m-2 1h1m1 0h1m-4 1h1m1 0h1m-4 1h1m1 0h1m-4 3h1m1 2h1m1 2h1m0 1h1m0 1h1m16 1h1m-18 1h1m1 0h1m1 0h1m7 0h1m-4 1h1m3 0h1m1 0h1m0 1h1m0 3h1m-5 26h1m0 1h1m0 1h1m-50 1h1m7 0h1m41 0h1m1 0h1m-46 1h1m-2 1h1m1 0h1m-4 1h1m-2 1h1m1 0h1m1 0h1m-6 1h1m1 0h1m1 0h1m-6 1h1m1 0h1m1 0h1m-4 1h1m1 0h1m1 0h1m51 0h1m-60 1h1m1 0h1m1 0h1m1 0h1m1 0h1m-10 1h1m1 0h1m1 0h1m1 0h1m-2 1h1m1 0h1m-8 1h1m5 0h1m3 0h1m-12 1h1m5 0h1m1 0h1m1 0h1m-10 1h1m5 0h1m1 0h1m1 0h1m-10 1h1m1 0h1m1 0h1m3 0h1m-10 1h1m3 0h1m-2 1h1m1 0h1m-6 1h1m1 0h1m1 0h1m1 0h1m-4 1h1m49 12h1m-9 6h1m-2 5h1m-2 1h1m-2 1h1m1 0h1m-4 1h1m1 0h1"/>
<path stroke="#007641" d="M144 18h1m-2 1h1m-6 1h1m-8 1h1m5 0h1m-8 1h1m1 0h1m1 0h1m1 0h1m-8 1h1m3 0h1m1 0h1m1 0h1m1 0h1m-4 1h1m1 0h1m-55 14h1m0 1h1m0 1h1m0 1h1m2 3h1m0 1h1m0 1h1m1 0h1m-2 1h1m-1 2h1m1 0h1m-2 1h1m7 0h1m-10 1h1m1 0h1m5 0h1m0 1h1m-8 1h1m5 0h1m-2 1h1m-10 1h1m0 1h1m1 0h1m-4 1h1m1 0h1m-2 1h1m5 0h1m1 0h1m-10 1h1m1 0h1m5 0h1m-6 1h1m3 0h1m-8 1h1m1 0h1m5 0h1m1 0h1m-10 1h1m1 0h1m1 0h1m0 1h1m-1 2h1m-2 1h1m0 1h1m-2 1h1m1 0h1m-5 2h1m-3 2h1m0 1h1m0 1h1m1 4h1m0 1h1m0 1h1m15 0h1m-18 1h1m1 0h1m3 0h1m5 0h1m1 0h1m-6 1h1m1 0h1m1 0h1m1 0h1m1 0h1m0 3h1m-3 22h1m-2 3h1m-2 1h1m0 1h1m-1 2h1m-48 1h1m5 0h1m43 0h1m1 0h1m-52 1h1m3 0h1m1 0h1m-2 1h1m-1 2h1m-2 1h1m1 0h1m-6 1h1m1 0h1m1 0h1m-6 1h1m1 0h1m1 0h1m1 0h1m-8 1h1m3 0h1m1 0h1m-8 1h1m3 0h1m1 0h1m-8 1h1m59 0h1m-62 1h1m5 0h1m1 0h1m1 0h1m1 0h1m-14 1h1m9 0h1m1 0h1m-12 1h1m5 0h1m1 0h1m1 0h1m-10 1h1m1 0h1m1 0h1m5 0h1m-8 1h1m1 0h1m-6 1h1m3 0h1m-4 1h1m1 0h1m1 0h1m1 0h1m34 25h1m1 0h1m-4 1h1m1 0h1m1 0h1m-4 1h1m1 0h1"/>
<path stroke="#007a43" d="M144 17h1m1 0h1m-4 1h1m1 0h1m1 0h1m-4 1h1m-14 1h1m7 0h1m5 0h1m-12 1h1m1 0h1m3 0h1m-6 1h1m4 1h1m-8 1h1m3 0h1m0 1h1m-53 12h1m-2 1h1m0 1h1m0 1h1m2 3h1m3 0h1m-2 1h1m-2 1h1m1 0h1m1 0h1m-2 1h1m1 0h1m-4 1h1m1 0h1m1 0h1m1 0h1m-5 2h1m1 0h1m1 0h1m1 0h1m-6 1h1m1 0h1m3 0h1m-8 1h1m1 0h1m1 0h1m-4 1h1m1 0h1m3 0h1m-10 1h1m3 0h1m3 0h1m1 0h1m-12 1h1m1 0h1m1 0h1m1 0h1m1 0h1m1 0h1m-12 1h1m3 0h1m3 0h1m-4 1h1m1 0h1m-4 1h1m3 0h1m-6 1h1m1 0h1m-4 1h1m1 0h1m-2 1h1m1 0h1m3 0h1m-8 1h1m1 0h1m3 0h1m1 0h1m-6 1h1m1 0h1m1 0h1m-2 1h1m-2 1h1m-2 1h1m-2 1h1m1 0h1m-2 1h1m0 1h1m-2 1h1m-5 2h1m1 0h1m-4 1h1m0 1h1m0 3h1m1 0h1m1 4h1m3 0h1m7 0h1m1 0h1m-10 1h1m1 0h1m1 0h1m3 0h1m1 0h1m1 0h1m-2 1h1m-1 2h1m1 0h1m-2 1h1m-3 22h1m-2 1h1m-1 2h1m-2 1h1m0 1h1m1 0h1m-2 1h1m0 1h1m1 0h1m5 10h1m-60 1h1m1 0h1m57 0h1m-60 1h1m1 0h1m55 0h1m-60 1h1m1 0h1m-2 1h1m1 0h1m-3 2h1m-2 1h1m43 26h1"/>
<path stroke="#007a43" d="M145 17h1m1 0h1m-2 1h1m-2 1h1m-16 1h1m9 0h1m3 0h1m-16 1h1m3 0h1m5 0h1m-12 1h1m11 0h1m-11 2h1m1 0h1m1 0h1m-49 12h1m-2 1h1m0 1h1m1 4h1m17 0h1m-18 1h1m1 0h1m1 0h1m13 0h1m-16 1h1m1 0h1m-2 1h1m1 0h1m1 0h1m-2 1h1m1 0h1m-4 1h1m1 0h1m1 0h1m-6 1h1m1 0h1m1 0h1m1 0h1m-4 1h1m1 0h1m1 0h1m1 0h1m-8 1h1m1 0h1m1 0h1m3 0h1m-6 1h1m3 0h1m-10 1h1m1 0h1m1 0h1m1 0h1m3 0h1m-12 1h1m3 0h1m1 0h1m3 0h1m-12 1h1m1 0h1m1 0h1m5 0h1m-10 1h1m1 0h1m1 0h1m-2 1h1m1 0h1m1 0h1m-6 1h1m1 0h1m1 0h1m-6 1h1m1 0h1m-2 1h1m1 0h1m3 0h1m-6 1h1m3 0h1m-6 1h1m1 0h1m0 1h1m1 0h1m-2 1h1m-2 1h1m1 0h1m-2 1h1m-2 1h1m0 1h1m-3 2h1m-2 1h1m-4 1h1m1 0h1m1 0h1m-4 1h1m0 3h1m0 1h1m0 1h1m0 1h1m0 1h1m15 0h1m-6 1h1m5 0h1m-16 1h1m3 0h1m1 0h1m5 0h1m1 0h1m-1 2h1m0 1h1m1 0h1m-2 1h1m-5 24h1m-1 2h1m-1 2h1m1 0h1m-2 1h1m3 0h1m-51 6h1m-2 3h1m55 0h1m-58 1h1m57 0h1m-60 1h1m1 0h1m1 0h1m-6 1h1m1 0h1m57 0h1m-62 1h1m1 0h1m1 0h1m1 0h1m-6 1h1m1 0h1m-3 2h1m0 1h1"/>
<path stroke="#007f46" d="M141 18h1m-4 1h1m1 0h1m1 0h1m3 0h1m-18 1h1m3 0h1m3 0h1m3 0h1m1 0h1m3 0h1m-20 1h1m13 0h1m1 0h1m-18 1h1m15 0h1m-16 1h1m0 1h1m4 1h1m1 0h1m3 0h1m-2 1h1m1 0h1m0 1h1m-2 1h1m-56 7h1m0 1h1m-1 2h1m0 1h1m0 1h1m17 0h1m-20 1h1m1 0h1m15 0h1m1 0h1m-20 1h1m1 0h1m1 0h1m1 0h1m3 0h1m3 0h1m1 0h1m1 0h1m1 0h1m-18 1h1m5 0h1m7 0h1m1 0h1m-14 1h1m1 0h1m1 0h1m7 0h1m-10 1h1m5 0h1m1 0h1m-8 1h1m1 0h1m1 0h1m-2 1h1m-8 1h1m3 0h1m1 0h1m1 0h1m0 1h1m0 1h1m-2 1h1m1 0h1m-2 1h1m-8 3h1m3 0h1m-2 1h1m0 1h1m-2 1h1m1 0h1m-2 1h1m-1 4h1m-2 1h1m-2 1h1m0 1h1m-2 1h1m-4 3h1m3 0h1m-7 2h1m0 1h1m-2 1h1m0 1h1m1 2h1m15 0h1m-16 1h1m15 0h1m-16 1h1m7 0h1m3 0h1m1 0h1m1 0h1m-16 1h1m3 0h1m1 0h1m1 0h1m7 0h1m-2 3h1m1 0h1m0 1h1m-2 1h1m-5 24h1m1 0h1m-2 1h1m-2 1h1m1 2h1m1 0h1m5 10h1m1 0h1m-2 1h1"/>
<path stroke="#007f46" d="M143 17h1m-6 1h1m3 0h1m-4 1h1m1 0h1m5 0h1m-16 1h1m9 0h1m3 0h1m1 0h1m-22 1h1m7 0h1m5 0h1m1 0h1m1 0h1m1 0h1m-8 3h1m-8 1h1m1 0h1m1 0h1m1 0h1m1 2h1m-55 10h1m-1 2h1m1 0h1m-2 1h1m1 0h1m15 0h1m1 0h1m-20 1h1m1 0h1m15 0h1m-18 1h1m1 0h1m5 0h1m9 0h1m-12 1h1m1 0h1m-4 1h1m1 0h1m9 0h1m-10 1h1m3 0h1m1 0h1m-6 1h1m0 1h1m1 0h1m-2 1h1m1 0h1m0 1h1m-9 2h1m7 0h1m1 0h1m-10 3h1m0 1h1m1 0h1m1 0h1m-2 1h1m-2 1h1m1 0h1m-2 1h1m-1 2h1m0 1h1m-2 1h1m-2 1h1m-2 3h1m-1 2h1m-2 1h1m1 0h1m-4 1h1m-4 3h1m1 2h1m16 3h1m1 0h1m-4 1h1m3 0h1m-18 1h1m1 0h1m1 0h1m1 0h1m1 0h1m3 0h1m3 2h1m0 1h1m1 2h1m-6 23h1m2 1h1m-4 1h1m0 1h1m-2 1h1m1 0h1m0 1h1m-2 1h1m7 8h1m0 1h1m-1 2h1"/>
<path stroke="#008348" d="M143 16h1m1 0h1m-8 1h1m3 0h1m5 0h1m-22 1h1m9 0h1m1 0h1m-12 1h1m1 0h1m17 0h1m-22 1h1m7 0h1m-10 1h1m19 0h1m1 0h1m-24 1h1m15 0h1m3 0h1m1 0h1m-22 1h1m14 1h1m0 1h1m-10 1h1m6 1h1m1 2h1m-2 1h1m-1 2h1m-54 5h1m17 0h1m1 0h1m1 0h1m-22 1h1m19 0h1m1 0h1m-22 1h1m15 0h1m3 0h1m1 0h1m-22 1h1m3 0h1m9 0h1m3 0h1m-18 1h1m1 0h1m1 0h1m1 0h1m5 0h1m5 0h1m-14 1h1m-2 1h1m3 0h1m1 0h1m1 0h1m5 0h1m-10 1h1m1 0h1m1 0h1m3 0h1m-10 1h1m1 0h1m7 0h1m-6 1h1m1 0h1m3 0h1m-8 1h1m1 0h1m1 0h1m1 0h1m1 0h1m-8 1h1m1 0h1m-2 1h1m1 0h1m1 0h1m1 0h1m-6 1h1m1 0h1m-2 1h1m-2 1h1m-4 3h1m-2 1h1m0 1h1m-1 2h1m-2 1h1m0 1h1m-2 1h1m-1 2h1m-2 3h1m-2 1h1m1 0h1m-4 1h1m1 0h1m-4 1h1m-2 1h1m-2 1h1m2 5h1m8 1h1m3 0h1m3 0h1m-16 1h1m7 0h1m7 0h1m-1 2h1m-2 1h1m-1 28h1m-2 1h1m0 1h1"/>
<path stroke="#008348" d="M141 17h1m-2 1h1m7 0h1m-22 1h1m7 0h1m1 0h1m-10 1h1m5 0h1m1 0h1m-11 2h1m15 0h1m1 0h1m1 0h1m1 0h1m-24 1h1m1 0h1m13 0h1m-1 2h1m-4 1h1m1 0h1m1 0h1m-4 1h1m0 1h1m1 0h1m-2 1h1m0 1h1m-2 1h1m-34 3h1m-22 1h1m19 2h1m1 0h1m1 0h1m-24 1h1m21 0h1m-2 1h1m-18 1h1m17 0h1m-18 1h1m1 0h1m3 0h1m3 0h1m1 0h1m3 0h1m-16 1h1m1 0h1m3 0h1m1 0h1m1 0h1m5 0h1m-16 1h1m5 0h1m1 0h1m1 0h1m3 0h1m1 0h1m-12 1h1m1 0h1m1 0h1m1 0h1m3 0h1m-10 1h1m5 0h1m-6 1h1m1 0h1m1 0h1m1 0h1m1 0h1m-6 1h1m1 0h1m3 0h1m-6 1h1m1 0h1m3 0h1m-6 1h1m1 0h1m1 0h1m-6 1h1m1 0h1m-3 2h1m3 0h1m-6 1h1m-2 1h1m-1 2h1m-1 2h1m-2 1h1m0 1h1m-3 4h1m-2 1h1m0 1h1m-2 1h1m0 1h1m1 0h1m-5 2h1m1 0h1m-2 1h1m-6 1h1m1 0h1m-2 1h1m-2 1h1m1 2h1m0 1h1m13 0h1m1 0h1m-12 1h1m7 0h1m-12 1h1m5 0h1m1 0h1m1 0h1m6 1h1m-2 1h1m0 1h1m0 1h1m-5 26h1m0 1h1m0 1h1m0 1h1"/>
<path stroke="#00874b" d="M147 16h1m-8 1h1m-16 1h1m23 0h1m-26 1h1m1 0h1m7 0h1m1 0h1m-12 1h1m23 0h1m-30 1h1m3 0h1m25 0h1m-2 1h1m-26 1h1m17 0h1m1 0h1m1 0h1m-24 1h1m1 0h1m17 0h1m-14 1h1m1 0h1m2 1h1m1 0h1m5 0h1m-6 1h1m-22 1h1m21 0h1m3 0h1m-4 1h1m3 0h1m-2 1h1m-32 1h1m29 0h1m-32 1h1m-4 1h1m1 0h1m1 0h1m-12 1h1m5 0h1m1 0h1m1 0h1m-24 1h1m19 0h1m1 0h1m-20 1h1m17 0h1m-20 1h1m16 1h1m5 0h1m-14 1h1m3 0h1m3 0h1m-16 1h1m3 0h1m1 0h1m1 0h1m1 0h1m7 0h1m-12 1h1m1 0h1m-2 1h1m9 0h1m0 1h1m-2 1h1m1 0h1m1 0h1m-8 1h1m3 0h1m1 0h1m3 0h1m-10 1h1m3 0h1m1 0h1m-2 1h1m-6 1h1m1 0h1m1 0h1m-3 2h1m1 0h1m1 0h1m-6 1h1m-2 1h1m1 0h1m-6 1h1m1 0h1m1 0h1m-6 1h1m1 0h1m-3 2h1m-1 2h1m-1 2h1m1 0h1m-3 2h1m-4 3h1m13 0h1m-6 1h1m1 0h1m1 0h1m-4 1h1m1 0h1m0 1h1m-13 2h1m-4 1h1m1 0h1m9 0h1m-14 1h1m1 0h1m-4 1h1m1 0h1m11 0h1m-16 1h1m15 0h1m-8 1h1m7 0h1m-16 1h1m1 0h1m1 0h1m1 0h1m7 0h1m-10 1h1m11 0h1m1 0h1m-18 1h1m1 0h1m1 0h1m1 0h1m3 0h1m7 0h1m-16 1h1m1 0h1m12 3h1"/>
<path stroke="#00874b" d="M142 16h1m1 0h1m1 0h1m-10 1h1m1 0h1m-16 1h1m3 0h1m7 0h1m-12 1h1m3 0h1m1 0h1m1 0h1m15 0h1m-24 1h1m-2 1h1m23 0h1m-26 1h1m-4 1h1m1 0h1m19 0h1m1 0h1m-22 1h1m1 0h1m1 0h1m13 0h1m-14 1h1m1 0h1m11 0h1m15 0h1m-26 1h1m1 0h1m6 1h1m-25 2h1m23 0h1m-24 1h1m19 0h1m-28 1h1m29 0h1m-32 1h1m29 0h1m-42 1h1m5 0h1m3 0h1m29 0h1m-40 1h1m7 0h1m-20 1h1m15 0h1m1 0h1m-22 1h1m1 0h1m17 0h1m1 0h1m-22 1h1m11 0h1m3 0h1m-16 1h1m15 0h1m1 0h1m3 0h1m-18 1h1m7 0h1m1 0h1m1 0h1m3 0h1m1 0h1m-20 1h1m1 0h1m1 0h1m1 0h1m1 0h1m1 0h1m7 0h1m-16 1h1m3 0h1m9 0h1m3 2h1m-4 1h1m1 0h1m-6 1h1m1 0h1m1 0h1m-2 1h1m1 0h1m1 0h1m-8 1h1m3 0h1m1 0h1m-6 1h1m3 0h1m-2 1h1m1 0h1m-6 1h1m1 0h1m-4 1h1m1 0h1m-4 1h1m3 0h1m-6 1h1m-2 1h1m-2 1h1m-1 2h1m-1 2h1m0 1h1m-2 1h1m-2 1h1m-2 1h1m-1 2h1m9 0h1m1 0h1m-4 1h1m1 0h1m1 0h1m-14 1h1m11 0h1m-13 2h1m-5 2h1m11 0h1m-12 1h1m-2 1h1m13 0h1m-2 1h1m1 0h1m-12 1h1m9 0h1m-14 1h1m1 0h1m1 0h1m1 0h1m7 0h1m1 0h1m1 0h1m-18 1h1m1 0h1m13 0h1m-18 1h1m1 0h1m5 0h1m1 0h1m7 0h1m-16 1h1m1 0h1m13 0h1m-1 2h1m0 3h1m6 39h1"/>
<path stroke="#028b4e" d="M144 15h1m-6 1h1m1 0h1m-18 1h1m1 0h1m1 0h1m7 0h1m-14 1h1m5 0h1m1 0h1m1 0h1m1 0h1m-4 1h1m17 0h1m-30 3h1m1 0h1m-4 1h1m1 0h1m25 0h1m3 0h1m-32 1h1m5 0h1m17 0h1m-22 1h1m1 0h1m17 0h1m1 0h1m-16 1h1m27 0h1m-46 1h1m3 0h1m25 0h1m-32 1h1m5 0h1m-18 1h1m15 0h1m1 0h1m-20 1h1m13 0h1m3 0h1m1 0h1m17 0h1m-42 1h1m15 0h1m1 0h1m1 0h1m21 0h1m-40 1h1m5 0h1m5 0h1m1 0h1m27 0h1m-52 1h1m9 0h1m3 0h1m9 0h1m25 0h1m-54 1h1m1 0h1m7 0h1m3 0h1m9 0h1m-24 1h1m1 0h1m5 0h1m1 0h1m1 0h1m1 0h1m1 0h1m5 0h1m-24 1h1m3 0h1m1 0h1m3 0h1m1 0h1m1 0h1m1 0h1m1 0h1m3 0h1m1 0h1m-18 1h1m1 0h1m1 0h1m1 0h1m1 0h1m7 0h1m-22 1h1m3 0h1m1 0h1m1 0h1m1 0h1m1 0h1m1 0h1m-14 1h1m1 0h1m1 0h1m1 0h1m3 0h1m11 0h1m-2 1h1m1 0h1m9 0h1m-14 1h1m1 0h1m-2 1h1m1 0h1m9 0h1m-12 1h1m1 0h1m7 0h1m-8 1h1m-2 1h1m0 1h1m3 0h1m-6 1h1m1 0h1m3 0h1m-8 1h1m9 0h1m-12 1h1m1 0h1m5 0h1m1 0h1m-8 1h1m5 0h1m-12 1h1m1 0h1m7 0h1m-10 1h1m-2 1h1m-4 1h1m3 0h1m-2 3h1m4 3h1m-12 1h1m1 0h1m-5 2h1m8 1h1m1 0h1m-12 1h1m7 0h1m1 0h1m-12 1h1m1 0h1m11 0h1m-14 1h1m0 1h1m7 0h1m-10 1h1m9 0h1m-10 1h1m0 1h1m-4 1h1m1 0h1m5 0h1m-10 1h1m1 0h1m-6 1h1m1 0h1m1 0h1m1 0h1m1 0h1m7 0h1m-18 1h1m1 0h1m1 0h1m1 0h1m7 0h1m5 0h1m1 0h1m-12 1h1m5 0h1m1 0h1m1 0h1m-18 1h1m5 0h1m1 0h1m1 0h1m6 3h1m0 1h1m-1 2h1"/>
<path stroke="#028b4e" d="M143 15h1m-4 1h1m7 0h1m-24 1h1m1 0h1m21 0h1m-24 1h1m3 0h1m3 0h1m15 0h1m-28 1h1m-4 1h1m3 0h1m25 0h1m-30 1h1m1 0h1m-4 1h1m29 0h1m-4 1h1m1 0h1m-30 1h1m1 0h1m21 0h1m1 0h1m-22 1h1m6 1h1m11 0h1m-28 1h1m19 0h1m-24 1h1m1 0h1m1 0h1m19 0h1m5 0h1m-24 1h1m17 0h1m-38 1h1m41 0h1m-46 1h1m11 0h1m61 0h1m-72 1h1m3 0h1m1 0h1m1 0h1m5 0h1m23 0h1m-48 1h1m15 0h1m5 0h1m-26 1h1m1 0h1m5 0h1m1 0h1m5 0h1m-18 1h1m9 0h1m1 0h1m1 0h1m1 0h1m5 0h1m1 0h1m-20 1h1m3 0h1m1 0h1m1 0h1m1 0h1m1 0h1m5 0h1m1 0h1m-24 1h1m3 0h1m1 0h1m1 0h1m17 0h1m-22 1h1m3 0h1m1 0h1m1 0h1m9 0h1m-24 1h1m1 0h1m3 0h1m1 0h1m1 0h1m11 2h1m1 0h1m9 0h1m-14 1h1m13 0h1m-14 1h1m2 1h1m1 0h1m-4 1h1m1 0h1m1 0h1m5 0h1m-8 1h1m3 0h1m-6 1h1m3 0h1m3 0h1m-2 1h1m-8 1h1m1 0h1m3 0h1m1 0h1m-12 1h1m1 0h1m-4 1h1m1 0h1m-7 2h1m1 0h1m1 0h1m-6 1h1m1 0h1m2 3h1m1 0h1m-9 2h1m2 1h1m5 0h1m1 0h1m-12 1h1m0 1h1m-4 1h1m-2 1h1m9 0h1m1 0h1m-6 1h1m5 0h1m-14 1h1m5 0h1m-6 1h1m5 0h1m1 0h1m-2 1h1m1 0h1m-10 1h1m-2 1h1m-2 1h1m-2 1h1m1 0h1m7 0h1m-12 1h1m1 0h1m1 0h1m5 0h1m3 0h1m-18 1h1m1 0h1m1 0h1m1 0h1m1 0h1m-8 1h1m1 0h1m3 0h1m9 0h1m3 0h1m-10 1h1m1 0h1m7 0h1m-16 1h1m1 0h1m1 0h1m1 0h1m7 0h1m-14 1h1m13 0h1m-1 2h1m-1 2h1"/>
<path stroke="#048f50" d="M136 15h1m5 0h1m-20 1h1m13 0h1m11 0h1m-28 1h1m7 0h1m3 0h1m15 0h1m-32 3h1m1 0h1m1 0h1m27 0h1m-30 1h1m-4 1h1m31 0h1m-2 1h1m3 0h1m-36 1h1m27 0h1m1 0h1m1 0h1m1 0h1m1 0h1m3 0h1m-42 1h1m1 0h1m1 0h1m5 0h1m19 0h1m5 0h1m3 0h1m1 0h1m-48 1h1m1 0h1m1 0h1m1 0h1m1 0h1m7 0h1m15 0h1m-52 1h1m13 0h1m7 0h1m3 0h1m1 0h1m11 0h1m1 0h1m-34 1h1m7 0h1m3 0h1m5 0h1m15 0h1m7 0h1m-40 1h1m5 0h1m1 0h1m1 0h1m21 0h1m31 0h1m-68 1h1m1 0h1m1 0h1m3 0h1m1 0h1m57 0h1m-72 1h1m1 0h1m1 0h1m1 0h1m1 0h1m1 0h1m9 0h1m51 0h1m-80 1h1m1 0h1m1 0h1m1 0h1m3 0h1m1 0h1m3 0h1m7 0h1m21 0h1m-46 1h1m1 0h1m1 0h1m1 0h1m3 0h1m9 0h1m3 0h1m3 0h1m17 0h1m-48 1h1m3 0h1m7 0h1m9 0h1m1 0h1m1 0h1m21 0h1m-28 1h1m1 0h1m1 0h1m-22 1h1m19 0h1m-26 1h1m1 0h1m19 0h1m1 0h1m1 0h1m-26 1h1m21 0h1m1 0h1m-2 1h1m-1 2h1m7 0h1m1 0h1m-10 1h1m1 0h1m2 1h1m3 0h1m1 0h1m-10 1h1m1 0h1m3 0h1m1 0h1m-8 1h1m1 0h1m1 0h1m1 0h1m-8 1h1m3 0h1m1 0h1m-6 1h1m3 0h1m1 0h1m-10 1h1m1 0h1m1 0h1m1 0h1m-6 1h1m1 0h1m5 0h1m-8 1h1m-4 1h1m3 0h1m-6 1h1m1 0h1m1 0h1m3 0h1m-10 1h1m1 0h1m5 0h1m-12 1h1m5 0h1m1 0h1m-14 1h1m1 0h1m1 0h1m1 0h1m1 0h1m1 0h1m1 0h1m-10 1h1m3 0h1m1 0h1m1 0h1m5 0h1m-18 1h1m7 0h1m7 0h1m-16 1h1m5 0h1m1 0h1m-10 1h1m1 0h1m7 0h1m-6 1h1m7 0h1m-10 1h1m1 0h1m3 0h1m1 0h1m-12 1h1m1 0h1m1 0h1m3 0h1m3 0h1m-14 1h1m1 0h1m1 0h1m-6 1h1m5 0h1m5 0h1m-8 1h1m-1 2h1m5 0h1m7 0h1m-14 1h1m-6 1h1m5 0h1m3 0h1m-2 1h1m-12 1h1m5 0h1m3 0h1m-8 1h1m5 0h1m1 0h1m7 0h1m1 0h1m1 0h1m-22 1h1m1 0h1m1 0h1m3 0h1m1 0h1m3 0h1m1 0h1m1 0h1m1 0h1m-16 1h1m7 0h1m3 0h1m-16 1h1m7 0h1m-10 1h1m3 0h1m-6 1h1m13 0h1m-1 2h1m0 1h1m-1 4h1"/>
<path stroke="#048f50" d="M125 15h1m19 0h1m-10 1h1m1 0h1m-16 1h1m5 0h1m3 0h1m-12 1h1m9 0h1m18 1h1m-33 2h1m31 0h1m-30 1h1m29 0h1m-34 1h1m31 0h1m1 0h1m1 0h1m-8 1h1m3 0h1m1 0h1m3 0h1m-42 1h1m1 0h1m1 0h1m1 0h1m3 0h1m17 0h1m7 0h1m-60 1h1m19 0h1m3 0h1m1 0h1m1 0h1m7 0h1m15 0h1m13 0h1m-54 1h1m3 0h1m1 0h1m1 0h1m3 0h1m1 0h1m11 0h1m1 0h1m9 0h1m-52 1h1m11 0h1m3 0h1m1 0h1m7 0h1m1 0h1m-22 1h1m1 0h1m1 0h1m5 0h1m1 0h1m1 0h1m1 0h1m27 0h1m25 0h1m-66 1h1m3 0h1m1 0h1m1 0h1m1 0h1m1 0h1m19 0h1m31 0h1m1 0h1m-76 1h1m3 0h1m1 0h1m1 0h1m1 0h1m7 0h1m1 0h1m1 0h1m1 0h1m17 0h1m31 0h1m-78 1h1m1 0h1m1 0h1m1 0h1m3 0h1m9 0h1m3 0h1m1 0h1m-30 1h1m3 0h1m1 0h1m1 0h1m3 0h1m1 0h1m7 0h1m3 0h1m1 0h1m3 0h1m-28 1h1m7 0h1m7 0h1m1 0h1m1 0h1m1 0h1m-26 1h1m1 0h1m1 0h1m19 0h1m-26 1h1m3 0h1m19 0h1m1 0h1m-26 1h1m9 0h1m9 0h1m1 0h1m-24 1h1m1 0h1m3 0h1m17 0h1m-2 1h1m13 0h1m-16 1h1m9 0h1m1 0h1m-13 2h1m1 0h1m7 0h1m-8 1h1m1 0h1m1 0h1m3 0h1m3 0h1m-8 1h1m1 0h1m1 0h1m-6 1h1m5 0h1m-8 1h1m3 0h1m-6 1h1m3 0h1m3 0h1m-12 1h1m1 0h1m1 0h1m5 0h1m-6 1h1m-2 1h1m1 0h1m1 0h1m-8 1h1m1 0h1m1 0h1m1 0h1m-10 1h1m3 0h1m1 0h1m1 0h1m-6 1h1m1 0h1m1 0h1m-10 1h1m1 0h1m3 0h1m-12 1h1m1 0h1m1 0h1m1 0h1m3 0h1m5 0h1m-18 1h1m5 0h1m1 0h1m-6 1h1m11 0h1m-16 1h1m1 0h1m0 1h1m5 0h1m-8 1h1m0 1h1m1 0h1m3 0h1m1 0h1m1 0h1m-14 1h1m3 0h1m7 0h1m-12 1h1m3 0h1m5 0h1m-8 1h1m1 0h1m-8 1h1m3 0h1m-4 1h1m16 1h1m-8 1h1m7 0h1m-12 1h1m1 0h1m-10 1h1m7 0h1m-10 1h1m1 0h1m5 0h1m1 0h1m11 0h1m-22 1h1m3 0h1m3 0h1m9 0h1m1 0h1m-20 1h1m1 0h1m13 0h1m1 0h1m-18 1h1m1 0h1m5 0h1m1 0h1m1 0h1m1 0h1m3 0h1m-20 1h1m1 0h1m7 0h1m3 0h1m-14 1h1m12 7h1"/>
<path stroke="#069353" d="M125 14h1m7 0h1m1 0h1m-12 1h1m1 0h1m7 0h1m3 0h1m1 0h1m5 0h1m-22 1h1m3 0h1m5 0h1m-16 1h1m11 0h1m-12 1h1m29 0h1m-32 1h1m1 0h1m29 2h1m0 1h1m2 1h1m0 1h1m-52 1h1m5 0h1m1 0h1m1 0h1m35 0h1m-58 1h1m1 0h1m7 0h1m1 0h1m3 0h1m11 0h1m1 0h1m1 0h1m27 0h1m5 0h1m-66 1h1m1 0h1m5 0h1m1 0h1m3 0h1m1 0h1m17 0h1m1 0h1m-40 1h1m1 0h1m1 0h1m1 0h1m1 0h1m3 0h1m3 0h1m13 0h1m11 0h1m15 0h1m17 0h1m-76 1h1m1 0h1m1 0h1m1 0h1m3 0h1m3 0h1m1 0h1m11 0h1m13 0h1m35 0h1m-78 1h1m1 0h1m1 0h1m17 0h1m19 0h1m7 0h1m23 0h1m3 0h1m-78 1h1m25 0h1m15 0h1m5 0h1m25 0h1m3 0h1m-56 1h1m1 0h1m1 0h1m47 0h1m1 0h1m-54 1h1m-26 1h1m27 0h1m1 0h1m1 0h1m11 0h1m-46 1h1m1 0h1m23 0h1m5 0h1m-12 1h1m9 0h1m-4 1h1m1 0h1m-2 1h1m1 0h1m1 0h1m-10 1h1m5 0h1m1 0h1m-8 1h1m1 0h1m5 0h1m-10 1h1m3 0h1m-2 1h1m1 0h1m3 0h1m1 0h1m-12 1h1m1 0h1m2 1h1m5 0h1m-2 1h1m-2 1h1m1 0h1m-3 2h1m-7 2h1m3 0h1m-8 1h1m5 0h1m-4 1h1m-4 1h1m1 0h1m-6 1h1m7 0h1m-2 1h1m1 0h1m-18 1h1m3 0h1m13 0h1m-18 1h1m1 0h1m15 0h1m-18 1h1m13 0h1m1 0h1m-16 1h1m1 0h1m7 0h1m3 0h1m-16 1h1m3 0h1m1 0h1m5 0h1m3 0h1m-12 1h1m9 0h1m-12 1h1m3 0h1m-6 1h1m1 0h1m1 0h1m1 0h1m1 0h1m5 0h1m-20 1h1m1 0h1m9 0h1m-12 1h1m9 0h1m3 0h1m-14 1h1m13 0h1m1 0h1m-20 1h1m15 0h1m0 1h1m0 1h1m-18 1h1m3 0h1m1 0h1m9 0h1m1 0h1m-18 1h1m11 0h1m1 0h1m3 0h1m-18 1h1m11 0h1m-4 1h1m-10 1h1m7 0h1m3 0h1m3 0h1m1 0h1m-18 1h1m11 0h1m-2 1h1m-1 2h1m-1 4h1m0 1h1m1 0h1"/>
<path stroke="#069353" d="M125 13h1m9 0h1m-12 1h1m1 0h1m7 0h1m1 0h1m-2 1h1m1 0h1m1 0h1m1 0h1m5 0h1m-26 1h1m1 0h1m1 0h1m1 0h1m1 0h1m-10 1h1m9 0h1m3 0h1m-15 2h1m0 1h1m31 2h1m4 1h1m-48 1h1m5 0h1m31 0h1m5 0h1m3 0h1m-52 1h1m3 0h1m33 0h1m7 0h1m1 0h1m-62 1h1m1 0h1m7 0h1m1 0h1m1 0h1m1 0h1m3 0h1m7 0h1m1 0h1m1 0h1m23 0h1m1 0h1m3 0h1m-64 1h1m1 0h1m1 0h1m5 0h1m17 0h1m7 0h1m27 0h1m-62 1h1m1 0h1m1 0h1m1 0h1m31 0h1m13 0h1m21 0h1m-78 1h1m3 0h1m7 0h1m29 0h1m31 0h1m-74 1h1m1 0h1m1 0h1m3 0h1m3 0h1m13 0h1m51 0h1m-66 1h1m12 1h1m15 0h1m33 0h1m-52 1h1m17 0h1m3 0h1m-50 1h1m25 0h1m3 0h1m15 0h1m1 0h1m-28 1h1m3 0h1m5 0h1m15 0h1m-16 1h1m-6 1h1m1 0h1m1 0h1m1 0h1m-10 1h1m3 0h1m1 0h1m1 0h1m-10 1h1m1 0h1m3 0h1m1 0h1m1 0h1m-12 1h1m1 0h1m3 0h1m-6 1h1m1 0h1m1 0h1m1 0h1m3 0h1m-10 1h1m1 0h1m1 0h1m5 0h1m-6 1h1m3 0h1m-8 1h1m7 0h1m-6 1h1m2 1h1m1 0h1m-7 2h1m-5 2h1m7 0h1m-11 2h1m-2 1h1m7 0h1m-8 1h1m3 0h1m1 0h1m-8 1h1m3 0h1m5 0h1m-16 1h1m5 0h1m1 0h1m3 0h1m1 0h1m-18 1h1m3 0h1m11 0h1m-14 1h1m1 0h1m1 0h1m1 0h1m3 0h1m1 0h1m-12 1h1m5 0h1m1 0h1m-8 1h1m1 0h1m5 0h1m3 0h1m-12 1h1m11 0h1m-14 1h1m1 0h1m1 0h1m3 0h1m5 0h1m-18 1h1m3 0h1m1 0h1m3 0h1m-14 1h1m11 0h1m2 1h1m2 1h1m-8 1h1m-12 1h1m3 0h1m11 0h1m-16 1h1m15 0h1m-12 1h1m3 0h1m7 0h1m-16 1h1m9 0h1m1 0h1m3 0h1m-18 1h1m7 0h1m3 0h1m1 0h1m-6 1h1m1 0h1m1 0h1m5 0h1m-4 1h1m-14 1h1m10 1h1m-2 1h1m-1 2h1m0 1h1m-2 1h1"/>
<path stroke="#089755" d="M126 11h1m0 1h1m-4 1h1m1 0h1m7 0h1m1 0h1m-14 1h1m7 0h1m5 0h1m5 0h1m1 0h1m-24 1h1m5 0h1m1 0h1m17 0h1m-22 1h1m3 0h1m1 0h1m-15 2h1m32 1h1m-40 1h1m-6 1h1m5 0h1m3 0h1m35 0h1m-46 1h1m1 0h1m1 0h1m3 0h1m37 0h1m-58 1h1m13 0h1m5 0h1m39 0h1m1 0h1m-64 1h1m11 0h1m1 0h1m1 0h1m1 0h1m1 0h1m-22 1h1m1 0h1m5 0h1m3 0h1m1 0h1m39 0h1m5 0h1m-58 1h1m3 0h1m5 0h1m41 0h1m1 0h1m3 0h1m-58 1h1m1 0h1m21 0h1m1 0h1m19 0h1m3 0h1m1 0h1m7 0h1m-54 1h1m41 0h1m3 0h1m17 0h1m-48 1h1m21 0h1m21 0h1m-60 1h1m36 1h1m-23 2h1m13 0h1m33 0h1m-52 1h1m15 0h1m5 0h1m-20 1h1m15 0h1m1 0h1m-24 1h1m7 0h1m13 0h1m-22 1h1m5 0h1m-8 1h1m1 0h1m-2 1h1m1 0h1m5 0h1m-12 1h1m5 0h1m5 0h1m-10 1h1m7 0h1m1 4h1m-3 2h1m-2 3h1m-3 2h1m1 0h1m1 0h1m-6 1h1m1 0h1m-6 1h1m3 0h1m1 0h1m7 0h1m-16 1h1m5 0h1m-8 1h1m9 0h1m-14 1h1m3 0h1m3 0h1m5 0h1m-20 1h1m5 0h1m1 0h1m1 0h1m7 0h1m-16 1h1m3 0h1m3 0h1m-3 2h1m5 0h1m-6 1h1m3 0h1m-5 2h1m5 0h1m-22 1h1m13 0h1m-14 1h1m11 0h1m-12 1h1m9 0h1m7 0h1m-20 1h1m1 0h1m11 0h1m3 0h1m-18 1h1m11 0h1m1 0h1m-6 1h1m3 0h1m-6 1h1m1 0h1m5 0h1m-8 1h1m1 0h1m4 3h1m1 0h1m-4 1h1m-2 1h1m-1 2h1m3 0h1m-5 2h1m0 1h1"/>
<path stroke="#089755" d="M127 11h1m0 1h1m3 2h1m5 0h1m3 0h1m1 0h1m-22 1h1m3 0h1m1 0h1m3 0h1m0 1h1m15 0h1m-32 1h1m0 1h1m-8 1h1m5 0h1m33 0h1m-40 1h1m3 0h1m33 0h1m-40 1h1m3 0h1m35 0h1m-46 1h1m3 0h1m1 0h1m3 0h1m39 0h1m-50 1h1m1 0h1m1 0h1m1 0h1m1 0h1m39 0h1m-62 1h1m1 0h1m11 0h1m3 0h1m1 0h1m-22 1h1m3 0h1m3 0h1m1 0h1m1 0h1m3 0h1m3 0h1m33 0h1m1 0h1m9 0h1m-58 1h1m43 0h1m1 0h1m5 0h1m-56 1h1m1 0h1m5 0h1m15 0h1m3 0h1m21 0h1m1 0h1m7 0h1m-66 1h1m11 0h1m17 0h1m7 0h1m11 0h1m5 0h1m15 0h1m1 0h1m-74 1h1m11 0h1m13 0h1m1 0h1m9 0h1m31 0h1m5 0h1m-50 1h1m11 0h1m-14 1h1m13 0h1m7 0h1m23 0h1m-26 1h1m25 0h1m0 1h1m-50 1h1m3 0h1m11 0h1m-12 1h1m-8 1h1m-2 1h1m0 1h1m7 0h1m-8 1h1m6 1h1m0 1h1m8 1h1m-10 3h1m-2 3h1m-2 1h1m-3 2h1m1 0h1m-4 1h1m1 0h1m1 0h1m-4 1h1m1 0h1m1 0h1m-6 1h1m-4 1h1m-14 1h1m11 0h1m5 0h1m-8 1h1m5 0h1m3 0h1m-12 1h1m5 0h1m1 0h1m-14 1h1m9 0h1m1 0h1m3 0h1m-8 1h1m3 0h1m-6 1h1m-1 2h1m3 0h1m-18 1h1m11 0h1m-14 1h1m11 0h1m3 0h1m-6 1h1m3 0h1m3 0h1m-20 1h1m1 0h1m15 0h1m-18 1h1m11 0h1m-10 1h1m5 0h1m-10 1h1m1 0h1m9 0h1m1 0h1m-6 1h1m5 0h1m-6 1h1m9 0h1m-6 3h1m1 0h1m-3 2h1m-2 1h1m0 3h1m-2 1h1m0 1h1"/>
<path stroke="#0a9b58" d="M127 10h1m0 1h1m-4 1h1m3 0h1m-2 1h1m3 0h1m7 0h1m-14 1h1m1 0h1m9 0h1m1 0h1m5 0h1m-16 1h1m-20 1h1m1 0h1m5 0h1m-8 1h1m3 0h1m-6 1h1m1 0h1m-2 1h1m1 0h1m1 0h1m-12 1h1m7 0h1m1 0h1m35 0h1m1 0h1m-44 1h1m3 0h1m-10 1h1m49 0h1m1 0h1m-56 1h1m1 0h1m1 0h1m1 0h1m3 0h1m1 0h1m-18 1h1m5 0h1m55 0h1m1 0h1m-64 1h1m1 0h1m59 0h1m-62 1h1m45 0h1m1 0h1m-22 1h1m19 0h1m5 0h1m1 0h1m1 0h1m9 0h1m-44 1h1m7 0h1m31 0h1m1 0h1m5 0h1m-8 1h1m7 0h1m-52 1h1m1 0h1m9 0h1m31 0h1m7 0h1m-52 1h1m11 0h1m0 1h1m7 0h1m-20 1h1m9 0h1m7 0h1m-23 2h1m5 0h1m-8 1h1m1 0h1m4 1h1m0 1h1m0 1h1m1 0h1m-2 1h1m6 1h1m0 1h1m-5 2h1m0 1h1m-8 3h1m-2 1h1m-3 2h1m1 0h1m1 0h1m-3 2h1m-8 3h1m-4 1h1m9 0h1m-2 1h1m-2 1h1m1 0h1m1 0h1m-4 1h1m-6 1h1m4 1h1m-6 1h1m0 1h1m1 0h1m-2 1h1m-4 1h1m-2 1h1m-4 1h1m1 0h1m-10 1h1m-2 1h1m9 0h1m8 3h1m-6 5h1m-1 2h1m2 1h1m-2 1h1"/>
<path stroke="#0a9b58" d="M129 11h1m-4 1h1m0 1h1m1 0h1m3 0h1m5 0h1m-18 1h1m5 0h1m1 0h1m9 0h1m-20 1h1m9 0h1m17 0h1m-36 1h1m17 0h1m-20 1h1m37 0h1m-38 1h1m3 0h1m33 0h1m-38 1h1m-8 1h1m3 0h1m3 0h1m37 0h1m-48 1h1m1 0h1m5 0h1m39 0h1m-46 1h1m5 0h1m39 0h1m3 0h1m-62 1h1m5 0h1m-2 1h1m1 0h1m1 0h1m53 0h1m-66 1h1m2 1h1m1 0h1m59 0h1m-36 1h1m21 0h1m5 0h1m1 0h1m-34 1h1m5 0h1m17 0h1m5 0h1m11 0h1m8 1h1m-30 1h1m19 0h1m1 0h1m-45 2h1m11 0h1m37 0h1m-50 1h1m1 0h1m45 0h1m-46 1h1m7 0h1m-16 1h1m1 0h1m15 0h1m3 0h1m-22 1h1m1 0h1m15 0h1m1 0h1m-2 1h1m-22 3h1m9 0h1m-1 2h1m-1 2h1m5 0h1m-2 1h1m-6 1h1m-2 1h1m2 1h1m-5 2h1m-3 4h1m1 0h1m3 0h1m1 0h1m1 0h1m-10 1h1m2 1h1m-14 1h1m9 0h1m2 1h1m-10 1h1m5 0h1m-1 2h1m-4 1h1m2 1h1m-6 1h1m1 0h1m1 0h1m-2 1h1m1 0h1m-20 1h1m11 0h1m-2 1h1m1 0h1m-4 1h1m-10 1h1m9 0h1m1 0h1m-4 1h1m9 4h1m-2 1h1m-4 1h1m1 2h1"/>
<path stroke="#1ea25c" d="M125 10h1m5 0h1m-2 1h1m7 0h1m-6 1h1m1 0h1m-14 1h1m7 0h1m7 0h1m9 0h1m-28 1h1m-2 1h1m29 0h1m-32 1h1m31 0h1m0 1h1m-36 1h1m35 0h1m-42 1h1m41 0h1m1 2h1m-54 1h1m11 0h1m46 1h1m-60 1h1m3 0h1m55 2h1m-2 1h1m1 0h1m5 0h1m1 0h1m-46 1h1m1 0h1m1 0h1m15 0h1m11 0h1m-34 1h1m3 0h1m1 0h1m1 0h1m15 0h1m1 0h1m-26 1h1m1 0h1m1 0h1m45 0h1m-52 1h1m3 0h1m3 0h1m-10 1h1m1 0h1m5 0h1m1 0h1m33 0h1m-36 1h1m35 0h1m-26 1h1m25 0h1m-34 1h1m5 0h1m-2 1h1m-2 1h1m-12 1h1m9 0h1m-7 2h1m-6 1h1m2 1h1m-4 1h1m1 0h1m-2 1h1m2 1h1m-5 2h1m2 1h1m-4 1h1m7 0h1m-1 4h1m-10 1h1m7 0h1m-10 1h1m1 0h1m3 0h1m-8 1h1m3 2h1m-9 2h1m-1 2h1m0 1h1m1 2h1m-9 4h1m10 5h1m-5 2h1m1 0h1m-4 1h1m1 0h1m-2 3h1m1 0h1"/>
<path stroke="#1ea25c" d="M126 10h1m3 0h1m0 1h1m-2 1h1m3 0h1m1 0h1m1 0h1m-18 1h1m1 0h1m7 0h1m5 0h1m-18 1h1m25 0h1m1 0h1m-30 1h1m-4 1h1m3 0h1m-6 1h1m1 2h1m-11 4h1m-8 1h1m0 1h1m61 0h1m0 1h1m-18 1h1m21 0h1m-38 1h1m25 0h1m1 0h1m3 0h1m9 0h1m-48 1h1m3 0h1m1 0h1m15 0h1m1 0h1m1 0h1m11 0h1m-40 1h1m3 0h1m1 0h1m1 0h1m41 0h1m-50 1h1m1 0h1m1 0h1m1 0h1m1 0h1m11 0h1m27 0h1m1 0h1m-52 1h1m5 0h1m1 0h1m11 0h1m-12 1h1m1 0h1m7 0h1m-2 1h1m27 0h1m-36 1h1m-10 1h1m15 0h1m-15 2h1m0 1h1m-1 2h1m7 0h1m-8 1h1m2 1h1m-4 1h1m-2 1h1m1 0h1m-5 4h1m0 1h1m7 0h1m-10 1h1m1 0h1m1 0h1m-4 1h1m7 0h1m-2 1h1m-9 2h1m1 0h1m1 0h1m-6 1h1m-1 2h1m-6 3h1m-2 1h1m5 0h1m-6 1h1m5 12h1m-4 1h1m-2 1h1m-3 2h1m1 0h1m0 1h1m-2 1h1m-2 1h1"/>
<path stroke="#32a860" d="M126 9h1m2 1h1m1 2h1m5 0h1m1 0h1m2 1h1m1 0h1m1 0h1m-28 1h1m-8 1h1m1 0h1m3 0h1m-2 1h1m-6 1h1m3 0h1m-7 2h1m45 0h1m-54 1h1m5 0h1m-8 1h1m1 0h1m1 0h1m3 0h1m47 0h1m-54 1h1m-6 1h1m0 1h1m62 1h1m-10 3h1m1 0h1m3 0h1m13 0h1m-28 1h1m27 0h1m-44 1h1m13 0h1m1 0h1m-22 1h1m3 0h1m15 0h1m1 0h1m15 0h1m1 0h1m7 0h1m1 0h1m-48 1h1m15 0h1m27 0h1m1 0h1m-50 1h1m3 0h1m13 0h1m27 0h1m-46 1h1m3 0h1m-4 3h1m3 0h1m5 0h1m-6 1h1m4 1h1m-9 2h1m1 0h1m-4 1h1m5 0h1m-5 2h1m-2 1h1m7 0h1m-10 1h1m0 1h1m5 0h1m-8 1h1m5 0h1m-6 1h1m-4 1h1m1 0h1m0 1h1m5 0h1m-2 1h1m-8 1h1m1 0h1m1 0h1m1 0h1m-4 1h1m-3 2h1m-3 4h1m-2 1h1m-1 14h1m-4 3h1m-2 3h1"/>
<path stroke="#32a860" d="M125 9h1m1 0h1m3 0h1m-4 1h1m-4 1h1m11 0h1m-6 1h1m8 1h1m1 0h1m1 0h1m1 0h1m-30 1h1m-6 1h1m1 0h1m-4 1h1m39 0h1m-36 1h1m-6 1h1m3 0h1m-6 1h1m43 0h1m-50 1h1m-6 1h1m1 0h1m1 0h1m5 0h1m45 0h1m1 0h1m-60 1h1m3 0h1m1 0h1m-6 1h1m1 0h1m57 0h1m1 0h1m-62 1h1m61 0h1m-2 3h1m1 0h1m1 0h1m3 0h1m-44 1h1m27 0h1m-28 1h1m17 0h1m11 0h1m-32 1h1m19 0h1m1 0h1m-26 1h1m4 1h1m37 0h1m7 0h1m-46 1h1m1 0h1m35 0h1m-36 1h1m11 0h1m-18 1h1m0 1h1m-2 1h1m5 0h1m-4 1h1m7 0h1m-4 1h1m1 0h1m-8 1h1m4 1h1m-4 1h1m-4 1h1m1 0h1m3 0h1m-4 1h1m-3 2h1m1 0h1m1 0h1m-6 1h1m5 0h1m-8 1h1m3 0h1m3 0h1m-8 1h1m0 3h1m2 1h1m-6 1h1m0 3h1m-4 3h1m1 0h1m-2 1h1m-2 15h1m-2 1h1m-4 1h1m2 1h1m-4 1h1"/>
<path stroke="#46af64" d="M124 9h1m3 0h1m1 0h1m1 2h1m1 0h1m1 0h1m-24 3h1m35 0h1m-34 1h1m-6 1h1m-3 2h1m1 0h1m-4 1h1m-4 1h1m5 0h1m45 0h1m2 1h1m-60 1h1m59 0h1m-60 1h1m61 0h1m0 3h1m0 1h1m7 0h1m-12 1h1m-36 1h1m25 0h1m1 0h1m1 0h1m1 0h1m3 0h1m-14 1h1m1 0h1m11 0h1m-37 2h1m0 1h1m45 0h1m-42 1h1m37 0h1m-44 1h1m5 0h1m-8 1h1m7 0h1m1 0h1m5 0h1m-10 1h1m7 0h1m-12 1h1m5 0h1m-6 1h1m1 0h1m-4 1h1m3 0h1m1 0h1m-4 1h1m-3 2h1m1 0h1m3 0h1m-4 1h1m-5 2h1m1 0h1m1 0h1m-4 1h1m1 0h1m-2 1h1m3 0h1m-6 1h1m-2 1h1m3 0h1m-4 1h1m-4 1h1m1 0h1m-3 2h1m0 1h1m0 1h1m-6 21h1m-2 1h1m-4 1h1"/>
<path stroke="#46af64" d="M124 10h1m7 0h1m0 1h1m-10 1h1m15 0h1m5 0h1m2 1h1m-33 2h1m33 0h1m-34 1h1m-8 1h1m41 0h1m-44 1h1m43 0h1m-46 1h1m47 0h1m-54 1h1m5 0h1m45 0h1m-55 2h1m62 3h1m-4 3h1m14 1h1m-26 1h1m-4 1h1m1 0h1m15 0h1m-40 1h1m49 0h1m-32 1h1m27 0h1m1 0h1m-46 1h1m12 1h1m-8 1h1m-8 1h1m1 0h1m9 0h1m-10 1h1m1 0h1m5 0h1m-10 1h1m1 0h1m5 0h1m-8 1h1m1 0h1m-4 1h1m1 0h1m4 1h1m-2 1h1m0 1h1m-4 1h1m-5 2h1m1 0h1m3 0h1m-4 1h1m-4 1h1m3 0h1m-6 1h1m1 0h1m2 1h1m-2 1h1m-6 1h1m1 0h1m-2 3h1m-5 24h1"/>
<path stroke="#53b566" d="M124 7h1m1 0h1m0 1h1m4 1h1m4 1h1m-17 2h1m1 0h1m17 0h1m3 0h1m-32 1h1m5 0h1m29 0h1m-36 1h1m36 1h1m0 1h1m-44 1h1m44 1h1m9 6h1m0 1h1m0 1h1m1 0h1m-18 5h1m14 1h1m11 0h1m-12 1h1m-38 1h1m43 0h1m-44 1h1m1 0h1m37 0h1m1 0h1m-44 1h1m3 0h1m1 2h1m0 1h1m3 0h1m-3 2h1m-6 1h1m2 1h1m2 1h1m-3 2h1m1 0h1m-6 3h1m-2 1h1m-1 2h1m-4 5h1m-5 22h1"/>
<path stroke="#53b566" d="M125 7h1m0 1h1m2 1h1m8 1h1m-4 1h1m3 0h1m-18 1h1m-4 1h1m-6 1h1m35 0h1m5 4h1m9 8h1m1 0h1m3 0h1m0 1h1m1 0h1m-19 2h1m-4 1h1m23 0h1m-26 1h1m11 0h1m-18 1h1m17 0h1m-38 1h1m37 0h1m-38 1h1m39 0h1m3 0h1m1 0h1m-46 1h1m1 0h1m1 0h1m-2 1h1m1 0h1m0 1h1m0 1h1m-1 2h1m2 3h1m-4 3h1m1 0h1m-6 3h1m-1 2h1m-2 1h1m-7 26h1"/>
<path stroke="#61ba68" d="M125 6h1m-1 2h1m5 0h1m1 0h1m-11 2h1m9 0h1m1 0h1m-14 1h1m1 0h1m21 0h1m-32 1h1m27 0h1m3 0h1m-30 1h1m-2 1h1m36 3h1m4 3h1m11 6h1m-10 3h1m-4 1h1m-6 1h1m-6 1h1m15 0h1m0 1h1m11 0h1m1 0h1m-34 1h1m21 0h1m7 0h1m-32 1h1m-14 1h1m-2 1h1m5 0h1m4 1h1m-2 5h1m-4 1h1m0 3h1m-5 4h1"/>
<path stroke="#61ba68" d="M126 6h1m0 1h1m0 1h1m1 0h1m-8 1h1m9 0h1m0 1h1m1 0h1m4 1h1m0 1h1m1 0h1m3 0h1m1 0h1m-36 1h1m1 0h1m34 1h1m0 1h1m0 1h1m3 4h1m2 1h1m0 1h1m1 0h1m11 6h1m-22 1h1m5 0h1m1 0h1m-8 1h1m22 1h1m-1 2h1m-7 2h1m1 0h1m-37 2h1m5 0h1m-6 3h1m1 0h1m-7 2h1m1 2h1m0 1h1m1 0h1m-1 2h1m-6 3h1m-8 29h1"/>
<path stroke="#6ec069" d="M126 5h1m-4 1h1m5 0h1m-2 1h1m0 1h1m-8 1h1m11 0h1m1 0h1m1 0h1m0 1h1m0 1h1m-24 1h1m31 0h1m1 0h1m-36 1h1m35 0h1m-2 1h1m4 3h1m1 2h1m4 3h1m14 7h1m-22 1h1m-10 3h1m30 1h1m-4 1h1m-31 2h1m-6 3h1m1 2h1m-1 2h1m-6 1h1"/>
<path stroke="#6ec069" d="M126 4h1m-3 2h1m-2 1h1m5 0h1m3 0h1m-12 1h1m1 0h1m7 0h1m1 0h1m3 0h1m-4 1h1m-15 2h1m1 0h1m-8 1h1m1 0h1m1 0h1m30 1h1m-36 1h1m38 3h1m10 7h1m0 1h1m2 1h1m-13 4h1m1 0h1m3 0h1m15 2h1m-3 2h1m-10 1h1m1 0h1m5 0h1m-46 1h1m13 2h1m-6 3h1m1 0h1m-1 2h1m-2 1h1"/>
<path stroke="#7bc56b" d="M125 4h1m1 2h1m6 1h1m-12 1h1m-4 1h1m-2 1h1m-2 1h1m23 0h1m-24 1h1m33 2h1m0 1h1m0 1h1m1 2h1m3 2h1m0 1h1m5 4h1m7 2h1m0 1h1m-23 2h1m5 0h1m1 0h1m0 1h1m-14 1h1m1 0h1m13 2h1m2 1h1m7 0h1m-6 1h1m4 1h1m-33 2h1m-4 1h1m-2 1h1"/>
<path stroke="#7bc56b" d="M128 6h1m-8 3h1m15 0h1m-16 1h1m17 0h1m1 0h1m3 0h1m-30 1h1m1 0h1m25 0h1m1 0h1m4 1h1m7 8h1m4 3h1m8 3h1m-20 5h1m-6 1h1m14 1h1m15 0h1m-18 1h1m1 0h1m1 0h1m10 1h1m-34 1h1m25 0h1m1 0h1m3 0h1m-36 3h1m3 0h1m2 9h1"/>
<path stroke="#85ca6d" d="M124 5h1m8 1h1m-2 1h1m2 1h1m1 0h1m1 0h1m-19 2h1m25 0h1m-28 1h1m23 0h1m3 0h1m1 0h1m2 1h1m19 14h1m1 0h1m3 2h1m-1 2h1m-24 1h1m1 0h1m21 0h1m0 1h1m-1 2h1m-16 1h1m13 0h1m9 0h1m-22 1h1m5 0h1m1 0h1m1 0h1m10 1h1m-46 1h1m1 0h1m25 0h1m-4 1h1m1 0h1m-26 1h1m-7 2h1m2 1h1m1 0h1m-5 2h1m-1 2h1m7 0h1m-2 1h1"/>
<path stroke="#85ca6d" d="M125 5h1m1 0h1m11 2h1m-4 1h1m2 1h1m-22 1h1m1 0h1m27 0h1m1 0h1m-8 1h1m7 0h1m2 1h1m-2 1h1m1 2h1m13 10h1m8 3h1m-17 2h1m-6 1h1m3 0h1m1 0h1m-12 1h1m29 0h1m-34 1h1m-2 1h1m31 0h1m-5 2h1m3 0h1m9 0h1m-18 1h1m3 0h1m-34 1h1m0 1h1m26 1h1m-31 2h1m1 0h1m0 1h1m1 0h1m-4 1h1m-2 1h1"/>
<path stroke="#8ccd6e" d="M127 4h1m0 1h1m9 0h1m0 1h1m-10 1h1m7 0h1m1 0h1m-1 2h1m0 1h1m1 0h1m1 0h1m5 0h1m0 1h1m1 0h1m-1 2h1m0 1h1m1 0h1m-2 1h1m10 9h1m4 1h1m-13 6h1m-4 1h1m6 1h1m17 0h1m-34 1h1m15 0h1m2 1h1m13 0h1m-12 1h1m15 0h1m3 0h1m-18 1h1m1 0h1m-28 1h1m25 0h1m-28 1h1m-4 1h1m3 0h1m23 0h1m-30 1h1m2 1h1m-3 2h1m-2 1h1m3 2h1m3 0h1m-2 1h1m3 0h1m1 0h1"/>
<path stroke="#8ccd6e" d="M129 5h1m5 0h1m-2 1h1m5 0h1m-10 1h1m9 0h1m13 0h1m-7 4h1m3 0h1m0 3h1m1 0h1m-1 2h1m0 1h1m1 2h1m16 7h1m3 2h1m-2 1h1m-21 2h1m-6 1h1m1 0h1m25 2h1m-36 1h1m17 0h1m15 0h1m5 0h1m3 0h1m-6 1h1m5 0h1m-46 1h1m1 0h1m25 0h1m-28 1h1m17 0h1m3 0h1m1 0h1m1 0h1m1 0h1m13 0h1m-20 1h1m1 0h1m-30 1h1m3 0h1m-2 1h1m-2 3h1m-5 2h1m14 1h1m-2 1h1"/>
<path stroke="#93d070" d="M129 4h1m9 0h1m-8 1h1m-2 1h1m3 0h1m19 0h1m-15 2h1m5 0h1m1 0h1m-8 1h1m3 0h1m1 0h1m0 1h1m5 0h1m-1 2h1m0 1h1m3 6h1m4 3h1m0 1h1m-5 8h1m-8 1h1m7 0h1m19 0h1m-34 1h1m3 0h1m1 0h1m6 1h1m19 0h1m-36 1h1m15 0h1m21 0h1m1 0h1m3 0h1m-46 1h1m17 0h1m15 0h1m-34 1h1m17 0h1m5 0h1m15 0h1m-24 1h1m5 0h1m-28 1h1m29 0h1m1 0h1m-6 1h1m0 1h1m-26 3h1m2 1h1m-8 1h1m5 0h1m6 1h1m-4 1h1m9 0h1m1 0h1m-14 1h1m-4 1h1m1 0h1"/>
<path stroke="#93d070" d="M127 3h1m11 2h1m-10 1h1m1 0h1m5 0h1m10 1h1m-10 1h1m7 0h1m-8 1h1m5 0h1m7 0h1m-12 1h1m10 1h1m-1 2h1m2 5h1m3 2h1m0 1h1m13 6h1m-20 5h1m5 0h1m-12 1h1m3 0h1m25 0h1m-34 1h1m11 0h1m4 1h1m15 0h1m5 0h1m3 0h1m-28 1h1m15 0h1m5 0h1m-24 1h1m21 0h1m1 0h1m1 0h1m-43 2h1m25 0h1m-30 1h1m-2 1h1m2 5h1m1 0h1m-2 1h1m1 0h1m3 0h1m-2 1h1m9 0h1m1 0h1m-18 1h1m1 0h1m1 0h1m1 0h1m3 0h1m3 0h1"/>
<path stroke="#99d372" d="M128 3h1m1 2h1m3 0h1m5 0h1m7 0h1m-12 1h1m-2 1h1m11 0h1m4 1h1m1 0h1m-12 1h1m5 0h1m3 0h1m2 7h1m12 9h1m9 4h1m1 2h1m-31 2h1m31 0h1m4 1h1m3 0h1m-10 1h1m9 0h1m-28 1h1m15 0h1m5 0h1m3 0h1m-30 1h1m3 0h1m17 0h1m5 0h1m-26 1h1m1 0h1m7 0h1m13 0h1m-40 1h1m13 0h1m1 0h1m23 0h1m-42 1h1m23 0h1m-30 1h1m1 0h1m3 0h1m15 0h1m-24 1h1m3 0h1m1 0h1m0 1h1m-7 2h1m1 0h1m-4 1h1m1 0h1m3 0h1m3 0h1m2 1h1m3 0h1m-20 1h1m15 0h1m-12 1h1m1 0h1m3 0h1m3 0h1m1 0h1m5 0h1m-8 1h1"/>
<path stroke="#99d372" d="M129 3h1m-2 1h1m4 1h1m1 2h1m1 0h1m8 1h1m7 0h1m-10 1h1m5 0h1m1 0h1m3 4h1m-1 2h1m9 8h1m0 1h1m2 1h1m1 0h1m5 2h1m0 3h1m0 1h1m1 0h1m-33 2h1m4 1h1m27 0h1m9 0h1m-10 1h1m-18 1h1m1 0h1m23 0h1m-28 1h1m1 0h1m1 0h1m7 0h1m-12 1h1m9 0h1m13 0h1m-42 1h1m13 0h1m3 0h1m4 1h1m1 0h1m-28 1h1m21 0h1m1 0h1m-2 1h1m-25 2h1m1 0h1m-6 1h1m5 0h1m-8 1h1m7 0h1m3 0h1m-14 1h1m9 0h1m7 0h1m-14 1h1m3 0h1m5 0h1m-2 1h1m7 0h1m-14 1h1"/>
<path stroke="#a0d673" d="M137 2h1m-7 2h1m3 0h1m13 2h1m3 0h1m-8 1h1m3 0h1m3 0h1m1 0h1m-12 1h1m5 0h1m1 2h1m5 8h1m4 3h1m4 3h1m4 1h1m1 0h1m0 1h1m0 1h1m13 2h1m-2 1h1m-33 2h1m1 0h1m33 0h1m-38 1h1m3 0h1m29 0h1m27 0h1m-64 1h1m27 0h1m-36 1h1m5 0h1m5 0h1m-14 1h1m13 0h1m21 0h1m-16 1h1m9 0h1m1 0h1m-4 1h1m9 0h1m-40 1h1m16 1h1m-18 1h1m19 0h1m3 0h1m-6 1h1m-22 1h1m1 0h1m-2 1h1m7 2h1m3 0h1m1 0h1m-10 1h1m-11 2h1m11 0h1m5 0h1"/>
<path stroke="#a0d673" d="M134 2h1m1 0h1m-4 1h1m5 0h1m-10 1h1m7 0h1m1 0h1m-10 1h1m5 0h1m9 0h1m0 1h1m-2 1h1m5 0h1m3 0h1m-8 1h1m-8 1h1m5 0h1m2 1h1m1 0h1m1 2h1m3 6h1m0 1h1m13 6h1m16 5h1m2 1h1m-34 1h1m21 0h1m-22 1h1m29 0h1m1 0h1m25 0h1m-34 1h1m1 0h1m-42 1h1m13 0h1m-16 1h1m15 0h1m19 0h1m-33 2h1m24 1h1m13 0h1m-42 1h1m1 0h1m15 0h1m1 0h1m-20 1h1m17 0h1m-24 1h1m3 0h1m1 0h1m17 0h1m-22 1h1m1 0h1m1 0h1m-5 2h1m-4 1h1m15 0h1m-16 1h1m11 0h1m3 0h1m3 0h1m-8 1h1m1 0h1m-15 2h1m1 0h1m9 0h1"/>
<path stroke="#a7da75" d="M132 3h1m1 0h1m1 0h1m-4 1h1m15 0h1m1 0h1m-16 1h1m4 1h1m5 0h1m-6 1h1m1 0h1m12 1h1m1 0h1m-8 1h1m3 0h1m1 4h1m0 3h1m-2 1h1m2 1h1m1 2h1m16 7h1m0 1h1m0 1h1m7 0h1m-10 1h1m2 1h1m9 0h1m-2 1h1m0 1h1m1 0h1m-46 1h1m35 0h1m3 0h1m3 0h1m25 0h1m-70 1h1m-2 1h1m43 0h1m-45 2h1m41 0h1m-4 1h1m-22 1h1m-16 1h1m-2 1h1m17 0h1m-4 1h1m-18 1h1m17 0h1m-14 1h1m3 0h1m1 0h1m25 0h1m-22 1h1m-24 1h1m19 0h1m-18 1h1m13 0h1m5 0h1m-4 1h1m-12 1h1m1 0h1m9 0h1"/>
<path stroke="#a7da75" d="M132 4h1m1 0h1m1 0h1m11 0h1m1 0h1m-2 1h1m3 0h1m-18 1h1m17 0h1m1 0h1m-12 1h1m5 0h1m-10 1h1m1 0h1m11 0h1m1 0h1m0 9h1m1 0h1m3 4h1m4 3h1m6 1h1m3 4h1m9 0h1m1 0h1m-12 1h1m7 0h1m-31 2h1m31 0h1m1 0h1m-36 1h1m25 0h1m0 1h1m5 0h1m3 0h1m-46 1h1m5 0h1m37 0h1m3 0h1m-48 1h1m3 0h1m6 1h1m-14 1h1m16 1h1m22 1h1m-38 1h1m13 0h1m7 0h1m-28 1h1m19 0h1m-2 1h1m-16 1h1m15 0h1m-22 1h1m9 0h1m9 0h1m21 0h1m-45 2h1m47 0h1m-50 1h1m2 1h1m6 1h1"/>
<path stroke="#addd76" d="M130 3h1m7 0h1m1 0h1m6 1h1m6 1h1m-4 1h1m6 1h1m-16 1h1m14 1h1m-2 3h1m2 5h1m6 5h1m5 2h1m3 0h1m0 1h1m0 1h1m14 3h1m-12 1h1m9 0h1m24 1h1m0 1h1m-60 1h1m29 0h1m-30 1h1m35 0h1m1 0h1m1 0h1m-4 1h1m1 0h1m-2 1h1m-44 1h1m37 0h1m-41 2h1m0 1h1m35 0h1m-37 2h1m11 0h1m5 0h1m-20 1h1m19 0h1m-8 1h1m-15 2h1m35 0h1m3 0h1m-34 1h1m27 0h1m5 0h1m-50 1h1m47 0h1m1 0h1"/>
<path stroke="#addd76" d="M128 2h1m2 1h1m3 0h1m1 0h1m17 2h1m-10 1h1m5 2h1m4 1h1m0 5h1m0 1h1m-2 1h1m1 0h1m5 6h1m9 2h1m1 2h1m2 1h1m12 3h1m1 0h1m21 2h1m-64 1h1m5 0h1m25 0h1m3 0h1m5 0h1m-46 1h1m1 0h1m3 0h1m1 0h1m37 0h1m1 0h1m19 0h1m0 1h1m-72 1h1m11 0h1m35 0h1m-48 1h1m3 0h1m25 0h1m1 0h1m1 0h1m7 0h1m1 0h1m-42 1h1m9 0h1m17 0h1m-30 1h1m39 0h1m-28 1h1m-12 1h1m-2 1h1m14 1h1m3 0h1m-15 2h1m1 0h1m29 0h1m-34 1h1m29 0h1m-24 1h1m4 1h1m17 0h1m5 0h1m-50 1h1m15 0h1m-6 1h1m9 0h1"/>
<path stroke="#b4e078" d="M136 1h1m-6 1h1m5 2h1m15 0h1m-8 1h1m3 0h1m-6 1h1m11 0h1m-6 1h1m3 4h1m2 3h1m-2 1h1m1 0h1m1 4h1m5 4h1m2 1h1m21 4h1m2 1h1m-2 1h1m-8 1h1m3 0h1m-8 1h1m1 0h1m3 0h1m25 0h1m-32 1h1m31 0h1m5 0h1m-72 1h1m1 0h1m3 0h1m-2 1h1m61 0h1m-66 1h1m41 0h1m23 0h1m-72 1h1m1 0h1m1 0h1m7 0h1m37 0h1m-48 1h1m1 0h1m7 0h1m19 0h1m3 0h1m-10 1h1m1 0h1m-16 1h1m11 0h1m-12 1h1m9 0h1m-18 1h1m15 0h1m3 0h1m-14 1h1m5 0h1m3 0h1m1 0h1m-26 1h1m19 0h1m3 0h1m-20 1h1m9 0h1m5 0h1m15 0h1m1 0h1m-34 1h1m31 0h1m-26 1h1m20 1h1m1 0h1m-43 2h1m13 0h1m-8 1h1"/>
<path stroke="#b4e078" d="M138 2h1m7 2h1m5 0h1m-12 1h1m0 1h1m7 0h1m-8 1h1m15 2h1m-2 1h1m13 14h1m6 1h1m2 3h1m7 0h1m-8 1h1m18 1h1m-16 1h1m3 0h1m9 0h1m15 0h1m-22 1h1m4 1h1m17 0h1m-65 2h1m41 0h1m3 0h1m-2 1h1m-2 1h1m-20 1h1m5 0h1m1 0h1m-34 1h1m23 0h1m9 0h1m2 1h1m-16 1h1m-12 1h1m7 0h1m5 0h1m-10 1h1m3 0h1m11 0h1m-14 1h1m13 0h1m-26 1h1m5 0h1m-10 1h1m31 0h1m-6 1h1m1 0h1m5 0h1m-50 1h1m-3 2h1m8 1h1m13 0h1"/>
<path stroke="#b8e27a" d="M129 2h1m5 0h1m6 3h1m13 0h1m-14 1h1m16 3h1m-4 1h1m1 0h1m-1 2h1m3 6h1m1 2h1m0 1h1m3 2h1m5 0h1m2 1h1m1 2h1m12 1h1m7 2h1m-14 1h1m7 0h1m5 0h1m-14 1h1m13 0h1m-8 1h1m3 0h1m-2 1h1m3 0h1m18 1h1m1 0h1m-30 1h1m5 0h1m-46 1h1m43 0h1m-4 1h1m-18 1h1m3 0h1m-4 1h1m-30 1h1m27 0h1m1 0h1m3 0h1m1 0h1m3 0h1m-14 1h1m1 0h1m-13 2h1m17 0h1m-32 1h1m1 0h1m11 0h1m3 0h1m11 0h1m1 0h1m-38 1h1m13 0h1m3 0h1m-6 1h1m3 0h1m17 0h1m-42 1h1m21 0h1m23 0h1m3 0h1m-26 1h1m1 0h1m7 0h1m9 0h1m-46 1h1m47 0h1m1 0h1m-52 1h1"/>
<path stroke="#b8e27a" d="M130 2h1m12 3h1m0 1h1m7 0h1m5 0h1m0 1h1m-4 3h1m0 1h1m0 1h1m3 6h1m0 1h1m0 1h1m4 3h1m7 0h1m-4 1h1m3 0h1m1 2h1m14 1h1m-2 1h1m-6 1h1m7 0h1m5 0h1m-15 2h1m3 0h1m9 0h1m1 0h1m-20 1h1m3 0h1m9 0h1m3 0h1m0 1h1m11 0h1m-16 1h1m19 0h1m-62 1h1m63 0h1m-68 1h1m65 0h1m-72 1h1m8 1h1m31 0h1m-14 1h1m-28 1h1m25 0h1m1 0h1m5 0h1m2 1h1m-32 1h1m16 1h1m1 0h1m-26 1h1m7 0h1m7 0h1m5 0h1m1 0h1m-14 1h1m7 0h1m1 0h1m11 0h1m-34 1h1m9 0h1m3 0h1m25 0h1m-27 2h1m15 0h1m5 0h1m1 0h1m3 0h1m-26 1h1m21 0h1m1 0h1m-50 1h1m17 0h1m29 0h1"/>
<path stroke="#bce37c" d="M141 4h1m3 0h1m6 1h1m5 6h1m2 5h1m0 1h1m12 7h1m15 4h1m3 0h1m0 3h1m3 0h1m1 0h1m13 0h1m-14 1h1m1 0h1m-18 1h1m9 0h1m4 1h1m13 0h1m1 0h1m-66 1h1m5 0h1m61 0h1m1 0h1m-72 1h1m5 0h1m24 1h1m14 1h1m-36 1h1m29 0h1m-16 1h1m5 0h1m-26 1h1m17 0h1m11 0h1m1 0h1m-32 1h1m3 0h1m11 0h1m13 0h1m-12 1h1m-20 1h1m1 0h1m1 0h1m25 0h1m-16 1h1m1 0h1m16 1h1m3 0h1m-10 1h1m6 1h1m-30 1h1m24 1h1m-28 1h1"/>
<path stroke="#bce37c" d="M144 4h1m0 1h1m5 0h1m5 0h1m2 3h1m-1 2h1m-2 1h1m-1 2h1m2 3h1m0 1h1m9 6h1m19 4h1m-2 1h1m2 1h1m-11 2h1m2 1h1m0 1h1m9 0h1m3 0h1m14 1h1m5 0h1m-72 1h1m5 0h1m-6 1h1m47 0h1m-46 1h1m39 0h1m29 0h1m-72 1h1m6 1h1m19 0h1m-20 1h1m13 0h1m-20 1h1m5 0h1m13 0h1m1 0h1m5 0h1m-12 1h1m1 0h1m13 0h1m-34 1h1m5 0h1m15 0h1m-24 1h1m5 0h1m1 0h1m5 0h1m17 0h1m1 0h1m-40 1h1m1 0h1m21 0h1m-8 1h1m7 0h1m11 0h1m-20 1h1m19 0h1m6 1h1m-32 1h1m1 0h1m27 0h1m-30 1h1m-4 1h1m36 3h1"/>
<path stroke="#c0e57e" d="M160 11h1m1 4h1m14 7h1m-4 1h1m3 0h1m1 2h1m1 2h1m9 0h1m3 0h1m-14 1h1m5 0h1m13 0h1m11 0h1m-31 2h1m31 0h1m-32 1h1m2 1h1m9 0h1m2 1h1m3 0h1m11 2h1m-16 1h1m21 0h1m1 0h1m-68 1h1m35 0h1m5 0h1m21 0h1m1 0h1m-41 2h1m1 0h1m-25 2h1m23 0h1m-8 1h1m5 0h1m5 0h1m-30 1h1m14 1h1m-26 1h1m9 0h1m21 0h1m9 0h1m-20 1h1m1 0h1m1 0h1m15 0h1m-28 1h1m9 0h1m5 0h1m-18 1h1m15 0h1m15 0h1m-30 1h1m27 0h1m-34 1h1m3 0h1m23 0h1m-4 1h1m1 0h1m-2 1h1m7 2h1"/>
<path stroke="#c0e57e" d="M137 1h1m22 13h1m7 8h1m9 0h1m18 5h1m-2 1h1m7 0h1m-17 2h1m10 1h1m-2 1h1m7 0h1m9 0h1m-13 2h1m14 1h1m3 0h1m-64 1h1m35 0h1m23 0h1m5 0h1m-26 1h1m-44 1h1m25 0h1m13 0h1m1 0h1m-16 1h1m-30 1h1m29 0h1m-26 1h1m21 0h1m5 0h1m3 0h1m-36 1h1m23 0h1m-28 1h1m5 0h1m33 0h1m-40 1h1m3 0h1m19 0h1m-1 2h1m5 0h1m9 0h1m-28 1h1m9 0h1m1 0h1m15 0h1m1 0h1m-20 1h1m5 0h1m2 1h1m6 1h1m0 1h1m0 1h1"/>
<path stroke="#c4e680" d="M144 5h1m14 1h1m3 10h1m0 3h1m4 3h1m3 0h1m-2 1h1m19 2h1m0 1h1m1 0h1m1 0h1m-8 1h1m6 1h1m3 0h1m-4 1h1m5 0h1m-18 1h1m13 0h1m-4 1h1m7 0h1m9 2h1m6 3h1m-66 1h1m-2 1h1m37 0h1m1 0h1m3 0h1m3 0h1m21 0h1m-72 1h1m1 0h1m3 0h1m-4 1h1m1 0h1m43 0h1m-48 1h1m23 2h1m7 0h1m1 0h1m1 0h1m-40 1h1m25 0h1m13 0h1m-14 1h1m-8 1h1m25 0h1m-18 1h1m13 0h1m1 0h1m-22 1h1m3 0h1m15 0h1m-30 1h1m13 0h1m7 0h1m5 0h1m-30 1h1m26 1h1m2 1h1m-2 1h1m1 0h1"/>
<path stroke="#c4e680" d="M161 15h1m2 3h1m0 1h1m0 1h1m10 1h1m-7 2h1m7 0h1m0 1h1m0 1h1m10 1h1m1 0h1m1 0h1m5 2h1m-4 1h1m15 0h1m-32 1h1m1 0h1m11 0h1m5 0h1m-8 1h1m4 1h1m0 3h1m13 0h1m4 1h1m-20 1h1m22 1h1m-68 1h1m27 0h1m17 0h1m-46 1h1m23 0h1m9 0h1m11 0h1m-19 2h1m1 0h1m3 0h1m-38 1h1m5 0h1m25 0h1m1 0h1m1 0h1m5 0h1m-18 1h1m3 0h1m7 0h1m-16 1h1m13 0h1m3 0h1m-32 1h1m9 0h1m21 0h1m1 0h1m-16 1h1m15 0h1m-20 1h1m17 0h1m-20 1h1m17 0h1m1 0h1m-10 1h1m-24 1h1m23 0h1m0 1h1m3 2h1m2 1h1m-4 1h1"/>
<path stroke="#c8e882" d="M160 7h1m5 4h1m-7 2h1m0 1h1m15 6h1m-3 2h1m4 1h1m9 0h1m9 4h1m3 0h1m3 0h1m5 0h1m-16 1h1m-16 1h1m1 0h1m1 0h1m11 0h1m-2 1h1m5 0h1m9 0h1m-11 4h1m-45 2h1m66 1h1m-70 1h1m43 0h1m-44 1h1m37 0h1m7 0h1m19 0h1m-71 2h1m29 0h1m7 0h1m11 0h1m-44 1h1m19 0h1m5 0h1m-32 1h1m1 0h1m1 0h1m23 0h1m9 0h1m-4 1h1m5 0h1m-2 1h1m-28 1h1m0 1h1m1 0h1m3 0h1m3 0h1m-7 2h1m3 0h1m9 0h1m6 1h1m1 0h1m1 0h1m-4 1h1m-4 1h1m1 2h1m5 0h1m-6 1h1m3 0h1m-6 1h1m3 0h1m-4 1h1m5 0h1"/>
<path stroke="#c8e882" d="M160 12h1m0 1h1m1 2h1m3 6h1m6 1h1m1 0h1m-2 1h1m14 1h1m15 0h1m0 1h1m-26 1h1m0 1h1m3 0h1m3 0h1m9 0h1m1 0h1m5 0h1m5 0h1m-32 1h1m15 0h1m13 0h1m-30 1h1m30 1h1m-1 4h1m-58 3h1m1 0h1m63 0h1m-66 1h1m41 0h1m1 0h1m1 0h1m-50 1h1m43 0h1m25 0h1m-70 1h1m4 1h1m41 0h1m-44 1h1m1 0h1m31 0h1m-1 2h1m1 0h1m-28 1h1m23 0h1m-22 1h1m-2 1h1m-2 1h1m12 1h1m5 0h1m-20 1h1m27 0h1m-30 1h1m27 0h1m0 1h1m-2 1h1m1 0h1m-2 1h1m-6 1h1m7 0h1"/>
<path stroke="#ccea84" d="M163 14h1m0 3h1m0 1h1m12 3h1m2 1h1m23 2h1m-8 1h1m7 0h1m3 0h1m-24 1h1m3 0h1m9 0h1m7 0h1m3 0h1m-30 1h1m3 0h1m9 0h1m3 0h1m-16 1h1m21 0h1m3 0h1m-8 1h1m7 0h1m1 0h1m-9 2h1m6 1h1m-12 3h1m11 0h1m-10 1h1m-2 1h1m15 0h1m-62 1h1m63 0h1m-42 1h1m15 0h1m3 0h1m23 0h1m-72 1h1m5 0h1m37 0h1m5 0h1m19 0h1m-71 2h1m41 0h1m-2 1h1m3 0h1m-6 1h1m5 0h1m-32 1h1m7 0h1m13 0h1m5 0h1m-28 1h1m11 0h1m-4 3h1m19 0h1m-28 1h1m1 0h1m19 2h1m3 0h1m-8 1h1m7 0h1m-4 3h1m5 0h1m-6 1h1"/>
<path stroke="#ccea84" d="M160 6h1m0 1h1m4 3h1m-4 3h1m-2 1h1m17 8h1m8 3h1m1 0h1m5 0h1m7 0h1m-8 1h1m5 0h1m3 0h1m5 0h1m-30 1h1m27 0h1m-26 1h1m19 0h1m-22 1h1m13 0h1m3 0h1m-6 1h1m5 0h1m8 1h1m-9 2h1m10 3h1m-12 1h1m15 0h1m4 1h1m-32 1h1m1 0h1m-43 2h1m27 0h1m21 0h1m-52 1h1m29 0h1m-2 1h1m14 1h1m1 0h1m-22 1h1m1 0h1m1 0h1m15 0h1m-25 2h1m5 0h1m-10 1h1m27 0h1m-30 1h1m5 0h1m-10 1h1m5 0h1m18 1h1m5 0h1m-9 2h1m3 0h1m5 0h1m-7 2h1m7 0h1m-10 1h1m3 0h1"/>
<path stroke="#d0eb86" d="M166 7h1m-6 1h1m4 1h1m-6 1h1m1 0h1m-2 3h1m1 0h1m10 5h1m-10 1h1m9 0h1m-9 2h1m3 0h1m3 0h1m2 1h1m26 1h1m-18 1h1m17 0h1m-20 1h1m7 0h1m-12 1h1m17 0h1m1 0h1m1 0h1m-22 1h1m-2 1h1m19 0h1m1 0h1m0 1h1m1 0h1m-2 1h1m-3 2h1m7 2h1m1 2h1m1 0h1m-16 1h1m-43 4h1m21 0h1m11 0h1m-2 1h1m11 0h1m-52 1h1m27 0h1m15 0h1m3 0h1m-22 1h1m1 0h1m16 1h1m-20 1h1m19 0h1m-28 1h1m28 1h1m-36 3h1m29 0h1m3 2h1m-9 2h1m3 0h1m3 0h1"/>
<path stroke="#d0eb86" d="M161 9h1m5 0h1m-4 1h1m1 2h1m7 6h1m1 2h1m-4 1h1m1 0h1m5 0h1m-12 1h1m1 0h1m9 0h1m7 0h1m14 1h1m-13 2h1m-6 1h1m1 0h1m9 0h1m5 0h1m-18 1h1m9 0h1m5 0h1m1 0h1m-22 1h1m11 0h1m7 0h1m2 1h1m-2 1h1m1 0h1m-2 1h1m-2 1h1m6 1h1m-10 1h1m-3 2h1m0 1h1m15 0h1m-26 1h1m-36 1h1m33 0h1m29 0h1m3 0h1m-68 1h1m41 0h1m21 0h1m-26 1h1m-2 1h1m3 0h1m-22 1h1m13 0h1m5 0h1m-5 2h1m-28 1h1m9 0h1m19 0h1m-28 1h1m1 2h1m5 0h1m-2 1h1m19 0h1m-7 2h1m5 0h1m-8 1h1m0 1h1m2 1h1m2 1h1m-4 1h1m1 0h1"/>
<path stroke="#d4eb88" d="M161 6h1m5 2h1m-6 1h1m2 1h1m1 0h1m-6 1h1m-2 1h1m3 2h1m8 3h1m9 0h1m-12 1h1m-7 2h1m2 1h1m3 0h1m7 0h1m-12 1h1m24 1h1m-16 1h1m9 0h1m-10 1h1m7 0h1m13 0h1m3 0h1m-26 1h1m5 0h1m9 0h1m6 1h1m3 0h1m-3 6h1m-1 2h1m-2 3h1m21 0h1m-28 1h1m5 0h1m-14 1h1m7 0h1m-4 1h1m1 0h1m1 0h1m21 0h1m-42 1h1m11 0h1m7 0h1m-5 2h1m0 3h1m-28 1h1m1 0h1m25 0h1m0 1h1m-32 1h1m7 0h1m1 0h1m19 0h1m-1 2h1m-9 2h1m3 0h1m5 0h1m11 0h1m-24 1h1m11 0h1m-4 1h1m-2 1h1m2 1h1"/>
<path stroke="#d4eb88" d="M166 8h1m-5 2h1m2 1h1m1 0h1m-6 1h1m1 0h1m0 1h1m9 4h1m-1 2h1m1 0h1m11 0h1m-12 1h1m-10 1h1m26 3h1m2 1h1m9 0h1m1 0h1m-28 1h1m1 0h1m15 0h1m7 0h1m-1 2h1m-4 1h1m6 1h1m-10 5h1m1 0h1m-2 1h1m1 0h1m15 2h1m-22 1h1m3 0h1m-12 1h1m3 0h1m1 0h1m25 0h1m-34 1h1m10 1h1m-3 2h1m-2 1h1m-20 1h1m19 0h1m-29 2h1m-2 1h1m27 0h1m-6 1h1m5 0h1m-1 2h1m11 2h1m-13 2h1m1 0h1m-4 1h1m1 0h1m-6 1h1m3 0h1"/>
<path stroke="#d9ea89" d="M164 11h1m-2 1h1m1 0h1m1 0h1m-4 3h1m26 1h1m-14 1h1m-5 2h1m13 0h1m1 0h1m-18 1h1m1 0h1m5 0h1m-2 1h1m21 0h1m2 1h1m-11 2h1m1 0h1m2 1h1m1 0h1m9 0h1m-1 2h1m-2 1h1m-5 2h1m5 0h1m0 1h1m-6 1h1m4 1h1m-9 2h1m-2 1h1m-10 3h1m33 0h1m-34 1h1m1 0h1m1 2h1m1 0h1m-20 3h1m19 0h1m-31 4h1m4 1h1m22 1h1m-7 2h1m4 5h1m5 0h1"/>
<path stroke="#d9ea89" d="M164 6h1m-2 3h1m1 0h1m-5 2h1m1 0h1m0 3h1m0 3h1m12 1h1m5 0h1m-12 1h1m17 0h1m-20 1h1m1 0h1m7 0h1m19 0h1m-32 1h1m11 0h1m19 0h1m-15 2h1m17 0h1m-16 1h1m5 0h1m3 0h1m-2 1h1m1 0h1m8 1h1m-1 2h1m0 1h1m-7 2h1m6 1h1m-1 2h1m0 1h1m0 1h1m12 1h1m-22 1h1m21 0h1m-34 3h1m1 0h1m3 0h1m23 0h1m-44 1h1m17 0h1m-2 1h1m-18 1h1m18 3h1m-26 1h1m25 0h1m-31 2h1m3 0h1m1 0h1m22 1h1m0 3h1m1 0h1m-1 4h1m0 1h1"/>
<path stroke="#dee88a" d="M163 6h1m0 1h1m-1 2h1m1 4h1m20 1h1m-3 2h1m-9 2h1m11 0h1m1 0h1m-20 1h1m9 0h1m-12 1h1m11 0h1m1 0h1m15 0h1m1 0h1m-20 1h1m-2 1h1m5 0h1m9 0h1m-18 1h1m19 0h1m-4 1h1m1 0h1m1 0h1m5 0h1m-24 1h1m7 0h1m16 1h1m0 3h1m-2 1h1m-2 1h1m7 6h1m1 0h1m2 1h1m1 2h1m-28 1h1m6 3h1m3 0h1m-5 2h1m-2 1h1m1 0h1m-29 2h1m29 2h1m-4 1h1m3 0h1m-2 1h1m7 2h1m1 0h1m-20 3h1m4 1h1"/>
<path stroke="#dee88a" d="M165 7h1m-1 8h1m21 0h1m4 1h1m-20 1h1m15 0h1m3 0h1m-18 1h1m13 0h1m-10 1h1m2 1h1m-6 1h1m21 0h1m-21 2h1m9 0h1m3 0h1m1 0h1m-16 1h1m3 0h1m1 0h1m11 0h1m3 0h1m3 0h1m-24 1h1m9 0h1m15 2h1m-1 2h1m-3 4h1m-2 1h1m0 1h1m12 3h1m-25 2h1m9 0h1m-11 2h1m6 1h1m2 1h1m-4 1h1m3 0h1m-5 2h1m0 1h1m-2 1h1m3 2h1m-2 1h1m-4 1h1m-12 1h1m23 0h1m-21 4h1"/>
<path stroke="#e2d97e" d="M162 7h1m2 1h1m2 1h1m-1 2h1m21 2h1m-7 2h1m1 0h1m3 0h1m5 0h1m-8 1h1m2 1h1m1 0h1m-24 1h1m13 0h1m7 0h1m-16 1h1m23 0h1m-34 1h1m9 0h1m9 0h1m0 1h1m13 0h1m-14 1h1m11 0h1m4 1h1m-16 1h1m13 10h1m1 0h1m-1 2h1m5 0h1m-8 1h1m21 0h1m-22 3h1m-2 1h1m-3 2h1m1 2h1m-5 6h1m1 2h1m11 0h1m-12 1h1m1 0h1m1 0h1m1 0h1m-8 3h1m-7 2h1"/>
<path stroke="#e2d97e" d="M162 6h1m-1 2h1m5 2h1m1 0h1m-3 2h1m-2 1h1m-2 1h1m17 0h1m11 0h1m-12 1h1m5 0h1m-28 1h1m19 0h1m1 0h1m-2 1h1m-20 1h1m21 0h1m5 0h1m-28 1h1m3 0h1m-4 1h1m1 0h1m9 0h1m5 0h1m-2 1h1m3 0h1m8 1h1m1 0h1m3 0h1m1 0h1m-8 1h1m3 0h1m-21 2h1m3 0h1m24 5h1m-3 2h1m-1 2h1m6 3h1m-9 2h1m15 2h1m0 1h1m-20 1h1m-29 8h1m1 0h1m23 0h1m3 2h1m-2 1h1m3 0h1m2 1h1m1 0h1m1 0h1m-19 4h1"/>
<path stroke="#e5c973" d="M170 9h1m-2 1h1m18 3h1m2 1h1m3 0h1m-4 1h1m-28 1h1m17 0h1m3 0h1m-12 1h1m11 0h1m1 0h1m-12 1h1m1 0h1m13 0h1m-12 1h1m1 0h1m5 0h1m-6 1h1m19 0h1m-22 1h1m11 0h1m1 0h1m-8 1h1m3 0h1m3 0h1m-16 1h1m1 0h1m9 0h1m1 0h1m3 0h1m-22 1h1m1 0h1m1 0h1m25 8h1m-4 1h1m0 1h1m1 0h1m0 1h1m-6 3h1m11 0h1m9 0h1m-3 2h1m-2 1h1m-16 1h1m13 0h1m-20 1h1m3 0h1m-6 1h1m-2 1h1m2 1h1m-4 3h1m-2 1h1m-26 1h1m25 0h1m9 2h1m-2 1h1m3 0h1m-12 1h1m1 0h1m6 1h1m-15 2h1m4 1h1m1 0h1"/>
<path stroke="#e5c973" d="M163 7h1m0 1h1m6 3h1m18 1h1m-4 1h1m3 0h1m-4 1h1m1 0h1m1 0h1m-3 2h1m-24 1h1m23 0h1m3 0h1m-4 1h1m-24 1h1m9 0h1m5 0h1m1 0h1m15 0h1m-16 1h1m1 0h1m9 0h1m3 0h1m-18 1h1m3 0h1m5 0h1m1 0h1m5 0h1m1 0h1m-20 1h1m13 0h1m-20 1h1m17 0h1m-8 1h1m18 7h1m-1 2h1m5 4h1m-9 2h1m19 0h1m-23 2h1m0 1h1m-2 1h1m3 0h1m-8 1h1m-1 2h1m1 0h1m-1 4h1m-2 1h1m-2 1h1m0 1h1m9 0h1m-4 1h1m-8 1h1m1 0h1m1 0h1m-4 1h1m9 0h1m-17 2h1m6 1h1m0 1h1"/>
<path stroke="#e6b769" d="M163 8h1m7 2h1m0 1h1m-2 1h1m17 0h1m-7 2h1m1 0h1m-20 1h1m5 0h1m15 0h1m-14 1h1m-10 1h1m0 1h1m15 0h1m23 0h1m-40 1h1m11 0h1m10 1h1m-4 1h1m17 0h1m1 0h1m-14 1h1m-4 1h1m1 0h1m17 8h1m-3 4h1m-1 2h1m5 0h1m-6 1h1m12 1h1m-14 1h1m-2 1h1m-1 4h1m-4 1h1m-1 2h1m-1 2h1m1 0h1m-3 2h1m4 3h1m1 0h1m-8 1h1m1 0h1m5 0h1m3 0h1m-12 1h1m-7 2h1"/>
<path stroke="#e6b769" d="M169 9h1m2 3h1m-2 1h1m14 1h1m7 0h1m-12 1h1m5 0h1m-16 1h1m13 0h1m-18 1h1m5 0h1m5 0h1m-14 1h1m1 0h1m7 0h1m1 0h1m3 0h1m-4 1h1m11 0h1m-12 3h1m9 0h1m-10 1h1m7 0h1m17 8h1m0 3h1m1 2h1m-6 1h1m1 0h1m-2 1h1m-1 2h1m-3 2h1m2 1h1m-5 4h1m-1 2h1m5 4h1m-4 1h1m-1 2h1m4 1h1m-8 1h1m-6 1h1"/>
<path stroke="#e8a55f" d="M170 11h1m20 1h1m-24 1h1m1 0h1m21 0h1m-4 1h1m3 0h1m3 0h1m-16 1h1m11 0h1m-24 1h1m-2 1h1m9 0h1m5 0h1m0 1h1m-18 1h1m23 0h1m2 1h1m1 0h1m-4 1h1m-12 1h1m1 0h1m19 0h1m-24 3h1m26 7h1m0 1h1m1 4h1m-5 2h1m1 0h1m-4 3h1m1 0h1m13 0h1m-16 1h1m-3 4h1m1 4h1m6 1h1m-8 1h1m1 0h1m1 0h1m-4 3h1m2 1h1m3 0h1m-8 3h1"/>
<path stroke="#e8a55f" d="M169 11h1m0 1h1m17 0h1m0 1h1m3 2h1m1 0h1m-24 1h1m9 0h1m13 0h1m-18 1h1m1 0h1m26 1h1m-2 1h1m-12 1h1m1 0h1m9 0h1m-1 2h1m-22 1h1m24 9h1m-2 1h1m-1 2h1m1 0h1m-4 1h1m2 1h1m-2 1h1m10 1h1m-13 2h1m2 1h1m13 0h1m-2 1h1m-18 1h1m-4 1h1m-2 5h1m3 2h1m7 0h1m-8 1h1m3 0h1m0 3h1m-10 1h1m1 0h1m9 0h1"/>
<path stroke="#e69355" d="M169 12h1m17 0h1m-16 1h1m-2 1h1m-5 2h1m5 0h1m19 0h1m-12 1h1m21 0h1m-36 1h1m33 0h1m1 0h1m-2 1h1m3 0h1m-4 1h1m3 0h1m-18 1h1m-9 2h1m27 12h1m-2 1h1m1 0h1m-2 1h1m9 2h1m-12 5h1m1 0h1m-6 5h1m2 3h1m8 3h1m-12 3h1m7 0h1"/>
<path stroke="#e69355" d="M172 10h1m-1 4h1m9 0h1m14 1h1m-32 1h1m11 0h1m15 0h1m-27 2h1m35 0h1m1 0h1m-14 1h1m7 0h1m-10 1h1m13 0h1m-21 2h1m5 0h1m3 0h1m-13 2h1m30 13h1m4 1h1m-9 2h1m0 1h1m-2 1h1m-1 2h1m-4 3h1m-2 1h1m1 2h1m5 2h1m2 1h1m-7 2h1m-2 1h1m1 0h1m2 1h1m-8 1h1m7 0h1m-8 1h1m0 1h1"/>
<path stroke="#e5814b" d="M182 13h1m1 0h1m1 0h1m-20 1h1m1 0h1m9 2h1m15 0h1m1 0h1m-26 1h1m23 0h1m12 1h1m-12 1h1m1 0h1m5 0h1m-13 2h1m18 17h1m5 0h1m12 1h1m-21 2h1m1 0h1m9 0h1m-10 1h1m-2 1h1m-2 9h1m-3 6h1m6 1h1"/>
<path stroke="#e5814b" d="M171 9h1m-3 4h1m13 0h1m1 0h1m-18 1h1m-2 1h1m3 0h1m-2 1h1m5 0h1m-8 1h1m17 0h1m9 0h1m7 0h1m1 0h1m-12 1h1m5 0h1m2 1h1m-13 2h1m1 0h1m16 15h1m5 2h1m2 1h1m2 1h1m5 0h1m-2 1h1m-19 4h1m-2 1h1m-2 3h1m1 2h1m5 0h1m2 3h1m-1 2h1m-8 1h1m2 1h1m0 1h1"/>
<path stroke="#e26e42" d="M182 11h1m0 1h1m1 0h1m8 1h1m-14 1h1m-14 1h1m5 0h1m2 1h1m23 0h1m-34 1h1m31 0h1m5 0h1m1 0h1m-12 1h1m1 0h1m-5 2h1m21 18h1m-5 2h1m12 3h1m1 0h1m-17 2h1m3 0h1m-8 3h1m0 1h1m1 2h1m3 0h1m-2 1h1m-4 5h1m3 0h1m2 1h1m-8 1h1m0 1h1"/>
<path stroke="#e26e42" d="M187 11h1m-6 1h1m1 0h1m1 0h1m6 1h1m4 1h1m-26 1h1m6 1h1m19 0h1m-2 1h1m3 0h1m-6 1h1m1 0h1m-4 1h1m11 0h1m-16 1h1m19 18h1m1 0h1m-4 1h1m-1 6h1m-2 7h1m1 0h1m-3 6h1m5 2h1"/>
<path stroke="#de5939" d="M172 9h1m6 1h1m0 1h1m-11 4h1m7 0h1m19 0h1m1 0h1m-3 2h1m3 0h1m-7 2h1m-4 1h1m21 18h1m-2 1h1m8 1h1m7 0h1m-3 2h1m-3 2h1m-13 2h1m-6 1h1m3 0h1m-4 3h1m6 1h1m0 1h1m0 1h1m-8 3h1m-4 1h1m2 1h1"/>
<path stroke="#de5939" d="M181 11h1m-1 4h1m17 0h1m-2 1h1m10 1h1m-11 2h1m14 21h1m7 0h1m-8 1h1m0 1h1m-3 2h1m1 0h1m-3 2h1m0 1h1m-2 1h1m6 7h1m-3 4h1"/>
<path stroke="#db4530" d="M181 12h1m-9 2h1m25 0h1m-20 1h1m-12 1h1m11 0h1m17 0h1m10 1h1m-10 1h1m18 21h1m-6 1h1m0 1h1m-1 2h1m-4 3h1m-1 2h1m1 0h1m1 2h1m4 5h1m-2 1h1m1 0h1m-4 1h1m-6 1h1m0 1h1m0 1h1"/>
<path stroke="#db4530" d="M180 10h1m-2 1h1m20 3h1m-32 1h1m5 0h1m1 0h1m1 0h1m21 0h1m-34 1h1m46 23h1m0 1h1m6 1h1m-9 2h1m1 2h1m-5 2h1m-4 1h1m0 1h1m0 1h1m5 0h1m-6 1h1m8 5h1m1 0h1m-14 1h1m2 1h1"/>
<path stroke="#d73027" d="M177 10h1m3 0h1m-9 2h1m26 1h1m6 3h1m8 23h1m5 2h1m7 0h1m-16 3h1m-2 1h1m-4 1h1m-1 2h1m0 1h1m1 2h1m7 2h1m-2 1h1m2 1h1"/>
<path stroke="#d73027" d="M173 9h1m5 0h1m-7 2h1m-4 3h1m3 0h1m3 0h1m1 0h1m20 3h1m31 22h1m-10 3h1m4 1h1m-15 2h1m0 1h1m-2 3h1m3 2h1m0 1h1m0 1h1m1 2h1m-10 5h1m4 1h1"/>
<path stroke="#d32e27" d="M178 9h1m1 0h1m-8 1h1m4 1h1m0 1h1m-3 2h1m1 0h1m21 0h1m-26 1h1m26 1h1m1 0h1m12 23h1m2 1h1m1 2h1m-7 4h1m-2 1h1m-3 2h1m5 0h1m-2 1h1m3 4h1m-10 7h1m3 0h1"/>
<path stroke="#d32e27" d="M177 9h1m-2 1h1m1 0h1m1 2h1m-8 1h1m1 0h1m5 0h1m20 3h1m1 0h1m1 0h1m10 23h1m1 0h1m5 4h1m0 1h1m1 0h1m-2 1h1m-16 1h1m-1 2h1m0 1h1m2 1h1m-2 1h1m6 1h1m-1 2h1m1 0h1m-12 5h1m1 2h1m1 0h1"/>
<path stroke="#cf2b27" d="M174 11h1m2 1h1m0 1h1m-4 1h1m54 29h1m-14 1h1m0 1h1m-3 4h1m1 0h1m-4 1h1m5 2h1m3 4h1m-4 1h1m-9 2h1m5 0h1m-6 1h1m0 1h1"/>
<path stroke="#cf2b27" d="M177 11h1m0 1h1m-2 1h1m1 0h1m23 2h1m3 0h1m0 1h1m1 0h1m21 24h1m-2 1h1m-10 1h1m7 0h1m-13 4h1m-8 1h1m5 0h1m1 2h1m1 0h1m-2 1h1m2 7h1m-4 1h1m-6 1h1"/>
<path stroke="#cb2927" d="M174 9h1m1 0h1m-2 1h1m0 1h1m-2 1h1m-2 1h1m1 0h1m3 0h1m21 2h1m1 0h1m1 0h1m2 1h1m7 26h1m13 0h1m-3 2h1m-4 1h1m-15 2h1m5 0h1m0 1h1m-7 2h1m7 0h1m2 7h1m-6 3h1"/>
<path stroke="#cb2927" d="M174 10h1m-1 2h1m1 0h1m-1 2h1m28 1h1m11 26h1m3 0h1m-2 7h1m-4 1h1m-4 1h1m8 3h1m1 2h1m-5 2h1m-6 3h1"/>
<path stroke="#c72628" d="M208 15h1m8 25h1m10 5h1m-10 1h1m1 2h1m-2 3h1m1 0h1m0 1h1m1 2h1"/>
<path stroke="#c72628" d="M175 9h1m-1 2h1m44 29h1m-4 3h1m1 4h1m-4 1h1m4 11h1m-2 1h1"/>
<path stroke="#c32428" d="M219 40h1m0 1h1m11 0h1m-12 1h1m2 1h1m0 1h1m-9 4h1m6 5h1m1 2h1"/>
<path stroke="#c32428" d="M218 44h1m11 0h1m-13 4h1m2 3h1m3 2h1m0 3h1m-5 2h1"/>
<path stroke="#bf2228" d="M210 15h1m22 25h1m-12 3h1m-3 4h1m6 5h1m-7 6h1"/>
<path stroke="#bf2228" d="M209 15h1m8 25h1m15 0h1m-17 2h1m13 0h1m-10 1h1m5 2h1m-8 5h1m3 2h1"/>
<path stroke="#bb1f28" d="M231 44h1m-5 2h1m-6 3h1m2 3h1m0 1h1"/>
<path stroke="#bb1f28" d="M231 43h1m-4 3h1m-7 2h1m0 3h1m2 3h1"/>
<path stroke="#b71c28" d="M218 41h1m15 0h1m-17 2h1m13 0h1m-14 1h1m10 1h1m-4 9h1"/>
<path stroke="#b71c28" d="M219 41h1m-1 2h1m1 0h1m3 2h1m-6 1h1m0 1h1m2 5h1m2 3h1"/>
<path stroke="#b41828" d="M220 43h1m8 3h1m-7 4h1m0 1h1"/>
<path stroke="#b41828" d="M233 41h1m-14 1h1m-2 3h1m6 1h1"/>
<path stroke="#b11427" d="M219 42h1m3 2h1m-2 3h1m5 0h1"/>
<path stroke="#b11427" d="M222 44h1m1 0h1m2 3h1"/>
<path stroke="#ad1027" d="M233 42h1m-13 4h1m4 5h1"/>
<path stroke="#ad1027" d="M220 44h1m2 5h1m0 1h1m0 1h1m1 0h1"/>
<path stroke="#aa0c27" d="M221 44h1m-2 1h1m4 1h1m0 1h1m-2 3h1"/>
<path stroke="#aa0c27" d="M222 46h1m5 2h1"/>
<path stroke="#a70827" d="M223 48h1m3 0h1m-4 1h1"/>
<path stroke="#a70827" d="M221 45h1m1 2h1m2 3h1"/>
<path stroke="#a30426" d="M222 45h1m1 0h1m-2 1h1"/>
<path stroke="#a30426" d="M223 45h1m1 2h1m-1 2h1"/>
<path stroke="#a00026" d="M225 48h1m0 1h1"/>
<path stroke="#a00026" d="M226 48h1m0 1h1"/>
<path stroke="#a00023" d="M224 47h1"/>
<path stroke="#a00023" d="M224 46h1m-1 2h1"/>
</g>
<path d="M1518.8 615.6L1512.9 615.7L1507.0 615.7L1501.1 614.4L1495.2 614.4L1489.3 615.6L1483.4 614.9L1477.5 615.6L1471.6 615.6L1465.7 616.2L1459.8 615.0L1453.9 615.6L1448.0 614.4L1442.1 614.0L1436.1 614.1L1430.2 613.5L1424.4 612.1L1419.8 609.9L1415.6 606.9L1410.4 605.9L1405.9 603.4L1401.6 600.6L1399.1 595.9L1396.8 591.1L1393.5 587.0L1390.4 582.6L1387.8 578.0L1383.2 573.7L1377.0 571.8L1372.3 567.6L1371.3 562.2L1368.5 557.4L1367.2 552.1L1362.4 548.8L1358.0 544.9L1354.0 540.8L1349.9 536.6L1345.3 531.8L1339.5 528.4L1335.0 523.6L1330.7 520.6L1326.4 517.7L1321.7 515.3L1317.5 512.2L1313.1 509.4L1307.7 508.2L1302.7 506.2L1297.7 503.9L1293.0 501.0L1287.8 499.5L1282.6 497.7L1277.7 495.3L1272.5 493.7L1267.3 492.6L1262.0 491.4L1257.1 489.1L1251.7 488.2L1247.8 484.9L1243.2 482.7L1239.4 479.2L1235.2 476.4L1229.7 473.2L1224.6 469.5L1218.7 467.0L1213.5 464.8L1207.9 463.9L1203.0 460.8L1197.4 459.9L1191.9 459.5L1186.8 457.7L1181.6 455.9L1176.2 455.2L1170.2 455.3L1164.4 454.0L1158.4 454.3L1152.6 452.8L1147.7 454.9L1142.9 457.1L1138.4 459.9L1133.8 455.9L1129.5 451.5L1124.3 448.1L1117.9 446.9L1111.8 444.6L1105.4 443.4L1099.5 442.0L1093.6 440.8L1087.7 439.9L1081.8 438.6L1075.9 437.9L1070.0 437.7L1064.1 438.7L1058.2 438.6L1052.7 437.9L1047.1 438.7L1041.7 437.5L1036.5 438.1L1031.4 439.2L1026.2 439.5L1021.1 440.8L1016.2 442.8L1011.0 443.4L1005.8 442.6L1000.8 441.1L995.5 441.4L990.5 439.5L985.3 439.1L980.3 437.5L975.4 440.3L970.3 442.6L964.6 443.4L959.9 446.7L954.4 448.1L949.9 451.5L945.1 454.2L939.8 456.3L935.5 459.9L933.0 464.4L929.2 467.8L926.0 471.7L920.5 472.8L914.8 473.3L909.4 474.6L903.8 475.7L898.6 478.0L893.0 478.8L888.3 480.8L883.7 482.8L878.6 483.7L873.8 485.5L869.4 488.2L864.9 490.7L860.2 492.6L855.4 494.3L850.7 496.2L845.8 497.6L842.7 501.6L839.4 505.4L836.4 509.4L832.8 512.9L829.2 516.5L824.7 519.0L820.8 522.2L816.7 525.0L812.8 528.3L807.6 530.3L803.1 533.5L798.6 536.5L793.7 539.1L789.0 541.7L784.4 544.8L781.3 549.2L776.4 551.8L772.9 555.7L769.1 559.3L765.5 563.2L762.4 567.6L758.6 571.3L755.4 575.5L750.9 578.5L748.0 583.1L744.3 586.8L740.0 590.0L736.8 594.0L733.3 597.6L729.5 600.9L726.3 604.9L722.8 608.6L719.1 611.9L715.6 615.6L711.6 618.8L708.5 622.8L703.8 625.2L700.6 629.1L697.6 633.4L693.9 636.8L690.0 640.0L686.7 644.1L683.1 648.0L679.8 652.3L675.2 655.2L671.4 659.0L668.6 663.6L665.0 667.5L662.0 672.0L658.4 675.9L654.5 679.5L651.1 683.5L646.7 686.7L644.1 691.5L640.0 695.0L637.1 699.5L632.1 702.0L629.1 706.4L626.1 710.7L621.9 713.9L619.0 718.5L614.7 721.6L610.4 724.7L607.0 728.7L603.6 732.7L600.6 737.1L596.8 740.8L593.5 744.9L589.0 747.8L585.8 752.0L579.9 749.9L574.0 748.0L570.6 752.1L568.4 757.0L565.6 761.6L561.7 765.4L558.4 769.6L555.7 774.2L552.8 778.6L550.4 783.4L545.7 785.2L541.3 787.7L537.4 791.0L532.7 792.8L528.4 795.5L524.3 798.4L519.9 800.8L515.0 802.3L513.9 808.7L512.3 815.0L510.3 821.2L506.2 825.2L502.1 829.1L499.0 834.0L494.5 837.6L491.4 842.4L485.5 843.9L480.0 846.3L474.9 849.5L472.3 854.4L469.7 859.2L466.8 863.9L464.1 868.7L460.7 873.1L455.6 876.0L450.0 877.6L444.5 879.4L439.5 882.5L437.0 888.2L435.9 894.3L440.3 899.0L444.3 904.0L448.9 908.5L449.1 914.9L451.3 921.0L451.3 927.4L446.9 931.3L442.4 935.1L438.5 939.4L434.7 943.9L435.0 949.5L436.3 954.9L437.1 960.4L436.2 966.1L433.4 971.2L432.7 977.0L430.3 982.2L428.4 987.6L427.7 993.4L423.7 997.1L419.6 1000.6L414.7 1003.4L411.2 1007.6L411.9 1013.6L413.5 1019.4L418.6 1022.0L423.4 1025.0L427.7 1028.8L426.6 1033.8L423.4 1038.0L421.8 1042.8L420.6 1047.7L417.3 1051.5L412.6 1053.8L408.6 1056.9L405.3 1060.7L401.7 1064.2L402.0 1069.6L401.6 1075.0L402.4 1080.3L402.7 1085.7L400.8 1091.1L401.4 1096.5L401.6 1101.9L400.8 1107.2L401.8 1112.6L401.7 1118.0L402.2 1123.1L403.4 1128.0L405.8 1132.6L406.4 1137.6L403.7 1141.8L400.5 1145.7L397.0 1149.4L398.7 1155.2L399.2 1161.2L401.0 1167.0L401.7 1173.0L403.0 1178.9L404.8 1184.7L404.4 1190.9L406.4 1196.6L410.2 1202.3L413.5 1208.4L412.8 1213.9L411.8 1219.4L411.2 1224.9L407.1 1227.9L404.1 1232.0L399.0 1232.6L393.8 1232.0L388.7 1233.2L383.6 1233.5L378.5 1234.0L373.4 1234.4L373.9 1240.0L372.6 1245.5L372.6 1251.0L372.5 1256.6L371.0 1262.0L369.4 1267.5L369.6 1273.3L368.1 1278.8L366.6 1284.3L366.0 1290.0L366.9 1295.0L368.3 1299.9L369.0 1305.0L369.9 1310.0L370.4 1315.1L372.0 1320.0L375.3 1324.6L377.1 1330.1L380.2 1334.8L382.8 1339.8L385.0 1345.0" fill="none" stroke="#00200f" stroke-opacity="0.22" stroke-width="2.2" stroke-linejoin="round"/><rect x="368.2" y="1231.3" width="5.2" height="31.8" fill="#fff"/><rect x="357.6" y="1275.6" width="4.4" height="31.9" fill="#fff"/>
</g>
<path d="M988.6 333.4L988.4 338.7L988.2 343.9L988.2 349.2L987.9 354.5L988.2 359.7L988.0 365.0L989.2 370.2L988.6 375.5L987.9 380.8L988.6 386.0L988.6 382.0L990.9 391.4L993.7 397.4L996.8 403.2L998.0 410.3L994.6 414.7L992.1 419.8L988.4 424.8L983.8 429.2L981.5 438.6L981.5 445.7L981.5 452.8L983.0 458.6L983.8 464.6L986.7 470.5L989.7 476.4L993.2 481.2L996.8 485.8L998.0 495.3L1001.7 498.8L1004.6 502.9L1007.4 507.1L1011.8 510.4L1015.7 514.2L1018.1 520.3L1021.6 526.0L1022.4 531.9L1024.0 537.8L1029.9 544.8L1032.2 551.9L1037.3 556.3L1041.7 561.4L1046.1 566.4L1051.1 570.8L1060.5 572.7M389.9 843.6L396.2 843.7L402.5 843.6L408.8 842.9L414.7 842.8L420.6 842.5L426.5 842.2L432.4 842.9L438.3 843.4L444.2 843.5L450.1 844.3L456.0 844.3L461.2 844.1L466.4 844.7L471.6 844.0L476.8 844.7L481.9 844.3L483.1 851.8L486.7 855.4L492.0 856.0L497.3 856.1L503.8 855.3L510.3 854.7L516.2 855.4L522.1 856.1L529.6 856.1L532.5 851.7L535.0 847.1L537.6 842.2L540.9 837.7L545.7 834.2L550.4 830.6L556.3 830.4L562.2 829.4L567.7 829.9L573.1 831.4L578.7 831.8L584.5 836.1L590.5 840.0L596.2 844.0L602.3 847.1L607.1 849.9L611.7 853.0L616.9 857.9L621.2 863.6L624.8 867.9L628.7 871.8L633.0 875.4L637.0 879.7L641.3 883.7L644.8 888.4L650.9 891.6L656.6 895.5L661.2 899.2L666.0 902.6L669.8 908.9L673.1 915.6L677.5 918.5L682.5 920.3L687.3 923.8L688.3 929.1L689.6 934.4L690.0 941.5L689.6 948.6L690.6 954.5L692.0 960.4L696.7 963.9L706.1 963.9L710.8 961.4L715.6 959.2L721.7 956.8L727.4 953.3L733.6 950.3L739.2 946.2L741.0 941.5L742.7 936.8L749.8 935.6L753.8 938.7L758.1 941.5L761.4 945.2L765.1 948.6L772.2 953.3L774.2 958.2L776.9 962.7L780.0 972.2L778.1 966.0L775.0 960.4L778.0 964.8L779.7 969.8L784.6 973.8L789.2 978.1L793.8 982.3L798.6 986.3L805.7 992.2L811.6 993.2L817.5 994.6L825.7 993.4L830.5 1000.5L835.7 1003.0L841.1 1005.2L847.1 1006.4L852.9 1008.8L858.7 1010.5L864.7 1011.1L874.1 1012.3L878.8 1015.9L883.6 1019.4L887.5 1022.5L890.6 1026.5L895.4 1034.7L900.1 1041.8L907.2 1046.5L910.7 1050.1L914.7 1053.5L919.0 1056.7" fill="none" stroke="#000" stroke-width="3.0" stroke-linejoin="round" stroke-linecap="round"/>
<path d="M1011.0 322.8L1015.7 324.0L1022.8 327.0L1031.0 324.0L1035.1 321.1L1039.3 318.5L1045.9 318.6L1052.3 320.0L1058.2 326.3L1062.5 328.1L1066.3 330.6L1070.0 333.4L1077.1 338.1L1083.2 336.3L1088.9 333.4L1094.3 332.5L1099.9 332.4L1105.4 332.2L1110.1 332.5L1114.8 332.1L1119.6 332.8L1124.3 331.8L1130.2 332.6L1136.1 333.4L1139.7 336.8L1143.1 340.5L1147.9 340.1L1152.6 339.3L1158.7 340.5L1164.4 342.8L1169.8 344.5L1175.4 344.1L1180.9 345.2L1186.4 345.0L1191.9 345.6L1197.4 345.2L1202.4 346.5L1206.7 349.5L1211.6 351.1L1215.8 356.4L1221.0 360.5L1226.6 361.4L1231.8 363.9L1237.5 364.1L1242.3 363.7L1247.0 363.9L1251.7 362.8L1256.4 362.4L1261.9 362.0L1267.4 361.5L1272.9 361.7L1278.5 361.0L1284.0 361.9L1289.5 362.9L1292.1 368.3L1296.5 372.3L1298.8 376.5L1301.3 380.6L1307.1 378.2L1313.1 375.9L1319.0 376.2L1324.9 374.7L1329.9 376.1L1335.0 377.1L1339.5 379.4L1344.7 379.5L1349.7 380.5L1354.1 383.4L1359.4 383.1L1363.8 385.8L1368.8 386.7L1373.7 387.9L1379.9 390.7L1386.6 391.4L1391.5 391.8L1396.1 390.3L1399.6 384.4L1403.2 387.9L1405.5 393.8L1411.5 393.6L1417.3 392.6L1423.0 392.4L1428.5 393.2L1433.8 395.0L1438.6 395.3L1443.2 396.5L1448.1 395.3L1452.7 396.6L1453.9 403.2L1452.3 408.0L1450.4 412.7L1448.8 418.9L1445.6 424.5L1442.1 432.7L1444.5 441.0L1448.0 446.9L1452.9 448.9L1457.4 451.6L1465.7 452.8L1470.4 454.2L1474.0 457.5L1477.8 460.8L1481.0 464.6L1483.3 468.8L1485.8 472.9L1490.9 476.5L1495.2 481.1L1498.3 484.6L1502.3 487.0L1506.6 491.1L1509.4 496.5L1514.2 496.7L1518.8 498.1L1523.5 497.1L1528.2 497.2L1536.5 497.6L1537.3 502.9L1537.7 508.3L1542.1 511.1L1547.1 513.0L1551.9 514.4L1556.5 516.5L1561.1 518.7L1566.0 520.1L1570.2 523.8L1575.4 526.0L1579.5 528.5L1582.0 532.8L1586.0 535.4L1584.1 540.0L1582.5 544.8L1579.1 548.0L1576.6 551.9L1570.7 557.8L1567.0 561.2L1563.6 564.9L1559.0 568.0L1554.2 570.8L1553.3 575.8L1550.6 580.2L1547.7 585.4L1543.6 589.7L1547.1 592.8L1549.5 596.7L1547.1 601.3L1543.6 605.0L1547.1 612.1L1544.7 620.3L1540.4 624.0L1535.3 626.2L1530.7 628.1L1525.9 628.6L1522.2 631.5L1518.8 634.5L1511.7 639.2L1508.8 643.7L1507.0 648.7L1500.8 650.4L1495.2 653.4L1489.4 652.0L1483.4 652.2L1477.2 650.6L1471.6 647.5L1466.9 646.4L1462.1 647.4L1457.4 646.3L1452.4 645.2L1447.8 642.8L1443.3 640.4L1437.4 638.7L1431.5 637.3L1424.4 636.9L1418.9 640.7L1412.6 642.8L1407.7 641.8L1403.1 639.8L1398.4 638.0L1393.9 636.2L1389.0 635.7L1385.5 628.6L1381.2 625.8L1377.2 622.7L1373.0 619.9L1368.9 616.8L1363.0 615.6L1361.6 611.0L1360.7 606.2L1357.0 602.6L1354.8 597.9L1357.1 589.7L1352.2 586.0L1346.5 583.8L1341.9 582.3L1337.1 582.6L1330.0 579.1L1325.0 579.2L1320.1 580.2L1314.3 582.8L1308.3 584.9L1303.7 587.8L1299.1 590.8L1294.2 593.2L1288.2 593.5L1282.4 594.4L1277.8 592.3L1272.9 590.8L1265.9 593.2L1259.8 591.8L1254.1 589.7L1249.1 590.1L1244.5 591.6L1239.9 593.2L1235.4 595.6L1230.5 596.7L1223.4 592.0L1218.5 592.5L1213.9 594.4L1209.3 593.6L1204.5 594.2L1199.8 593.2L1195.1 587.3L1190.3 587.2L1185.6 586.1L1180.7 588.0L1176.2 590.8L1171.1 589.9L1166.7 587.3L1159.7 582.6L1155.0 586.8L1150.2 590.8L1144.6 591.7L1139.6 594.4L1134.1 592.5L1129.0 589.7L1121.9 590.8L1116.0 590.3L1110.1 589.7L1101.8 593.2L1097.3 591.2L1092.4 590.8L1086.5 587.3L1084.1 580.2L1079.4 575.5L1074.9 573.5L1070.0 573.2L1065.3 572.3L1060.5 572.7L1058.7 577.6L1057.0 582.6L1053.8 588.1L1052.3 594.4L1054.0 599.0L1054.6 603.8L1051.1 609.7L1045.0 610.7L1039.3 613.3L1034.7 615.8L1029.9 618.0L1026.0 622.5L1022.8 627.4L1017.9 631.4L1013.3 635.7L1011.4 640.1L1008.6 643.9L1005.3 648.5L1002.7 653.4L996.8 658.1L994.8 663.3L993.3 668.7L989.9 673.6L988.6 679.3L985.9 683.3L983.8 687.6L981.0 691.2L977.9 694.7L980.3 700.6L983.5 704.0L986.2 707.7L992.0 709.1L998.0 708.8L999.2 717.1L1002.7 724.2L1001.3 730.2L999.2 736.0L999.4 740.7L1000.4 745.4L1001.5 752.0L996.8 755.1L989.7 759.8L985.9 764.3L982.7 769.2L975.6 771.6L971.0 770.0L966.2 770.4L963.0 773.9L959.1 776.3L955.3 779.0L952.0 782.2L946.2 783.8L940.2 783.9L934.2 784.5L928.4 785.8L927.2 791.7L928.4 797.6L922.5 803.5L916.6 809.4L916.8 814.1L917.8 818.8L916.7 824.6L916.6 830.6L914.2 838.9L909.5 843.6L913.1 850.7L907.2 854.2L902.5 852.8L897.7 853.0L895.4 858.9L898.9 866.0L895.4 873.1L889.5 879.0L887.1 887.2L890.6 893.1L895.5 893.7L900.1 895.5L904.8 896.3L909.5 895.5L913.3 898.2L916.6 901.4L920.1 908.5L921.3 913.2L926.1 914.8L930.8 916.7L937.8 920.3L937.8 927.4L941.4 933.3L943.7 939.2L942.8 944.2L940.2 948.6L936.6 952.7L933.1 956.8L929.6 962.7L931.9 969.8L935.5 976.9L940.5 977.0L944.9 979.3L950.8 980.4L954.4 984.0L959.1 984.2L963.8 985.2L968.4 987.1L973.2 988.2L980.3 993.4L988.6 995.8L982.7 998.1L979.1 1006.4L974.4 1012.3L968.9 1013.6L963.8 1015.8L959.2 1017.7L954.4 1018.2L951.4 1022.0L949.6 1026.5L946.2 1029.5L942.6 1032.4L940.8 1036.8L937.8 1040.6L933.9 1044.4L930.8 1048.9L924.9 1054.8L919.0 1056.7L924.9 1061.9L928.1 1065.2L931.9 1067.8L935.5 1074.8L937.8 1083.1L938.5 1087.8L939.0 1092.5L937.8 1097.2L936.7 1102.0L935.2 1106.6L934.3 1111.4L931.9 1118.0L928.4 1117.5L922.5 1117.8L916.6 1118.7L911.2 1118.7L906.0 1119.9L901.4 1123.6L897.7 1128.2L894.7 1133.3L890.6 1137.6L888.6 1144.0L884.7 1149.4L885.6 1155.3L884.7 1161.2L883.6 1169.5L878.8 1176.5L883.6 1181.3L889.5 1184.8L885.9 1193.1L878.8 1195.4L871.8 1196.6L864.7 1194.2L860.1 1195.8L855.2 1196.6L850.5 1198.0L845.5 1198.8L841.1 1201.3L836.5 1204.4L831.6 1207.2L827.0 1209.8L822.2 1211.9L819.8 1217.8L821.0 1224.9L815.1 1229.6L806.9 1233.2L805.7 1241.4L806.9 1248.5L804.5 1253.2L810.4 1256.8L807.9 1260.8L805.7 1265.0L803.0 1269.4L802.1 1274.5L805.7 1281.6L798.6 1286.3L793.9 1291.0L790.3 1298.1L782.1 1300.4L775.0 1302.8L777.4 1309.9L779.5 1314.7L782.1 1319.3L779.7 1326.4L779.0 1331.2L777.4 1335.8L775.0 1338.2L774.6 1334.6L768.7 1333.5L762.8 1333.5L756.7 1333.6L751.0 1335.8L745.1 1334.6L739.2 1334.6L734.3 1330.7L729.7 1326.4L722.7 1327.6L717.0 1325.2L712.0 1321.7L706.1 1315.8L701.4 1316.6L696.8 1318.1L692.0 1318.1L687.3 1319.3L682.5 1319.0L677.8 1319.3L673.0 1318.9L668.3 1319.7L663.7 1320.5L659.0 1321.8L654.0 1321.9L649.5 1324.0L647.1 1328.7L644.1 1332.2L640.1 1334.6L635.6 1337.5L630.6 1339.4L625.7 1338.1L621.2 1335.8L615.4 1332.7L609.4 1329.9L605.9 1326.8L601.4 1325.4L597.6 1322.8L592.9 1316.9L588.1 1316.2L583.4 1316.0L578.7 1316.9L571.6 1313.4L566.9 1314.6L562.2 1318.2L557.5 1321.7L553.3 1324.6L550.4 1328.7L549.5 1333.5L550.4 1338.2L545.7 1345.3L541.0 1345.9L536.2 1346.4L530.1 1344.8L524.4 1341.7L519.1 1342.7L513.8 1341.7L509.3 1338.6L505.5 1334.6L498.5 1332.3L493.8 1334.7L489.0 1337.0L485.7 1340.6L481.4 1342.8L477.2 1345.3L473.3 1347.5L469.5 1350.0L465.4 1351.9L460.6 1352.7L455.9 1354.3L451.2 1355.7L446.5 1357.1L441.8 1357.7L437.1 1358.7L432.4 1359.9L427.7 1360.6L423.0 1361.9L418.2 1361.6L413.6 1363.4L408.8 1363.0L404.2 1364.5L399.4 1364.4L394.6 1364.6L392.3 1360.6L387.6 1354.7L380.5 1350.0L375.5 1348.8L371.0 1346.4L366.3 1341.7L364.0 1335.8L359.2 1331.1L356.1 1326.1L352.2 1321.7L350.2 1317.1L349.8 1312.2L349.1 1307.5L348.6 1302.8L342.7 1298.1L335.6 1296.9L327.4 1295.7L328.6 1288.6L327.8 1283.8L326.2 1279.2L321.5 1272.1L319.1 1265.0L325.0 1264.9L330.9 1265.0L333.3 1260.3L328.6 1253.2L325.0 1246.2L321.2 1243.2L316.8 1241.4L310.5 1239.9L305.0 1236.7L300.9 1233.7L297.9 1229.6L294.5 1225.2L292.0 1220.2L291.1 1215.5L290.8 1210.8L293.3 1206.7L295.5 1202.5L299.1 1194.2L300.8 1189.2L303.8 1184.8L302.7 1180.0L301.4 1175.4L302.6 1168.3L301.2 1162.8L299.1 1157.7L302.3 1152.5L305.0 1147.0L304.5 1141.0L302.6 1135.2L303.5 1129.1L306.1 1123.4L304.1 1118.5L301.4 1114.0L307.3 1111.4L314.4 1115.0L319.1 1116.0L323.8 1116.1L328.6 1112.6L332.1 1104.3L330.9 1097.3L334.4 1093.5L336.8 1089.0L335.6 1080.7L334.3 1074.9L334.5 1068.9L336.6 1063.7L340.4 1059.5L342.1 1054.9L342.7 1050.1L346.5 1046.1L349.8 1041.8L354.5 1038.3L352.6 1032.5L352.2 1026.5L354.1 1021.9L354.5 1017.0L358.4 1012.6L361.6 1007.6L363.9 1003.0L365.8 998.1L365.5 993.3L364.0 988.7L366.3 982.8L370.4 980.7L374.0 977.8L378.1 975.7L379.6 970.6L382.8 966.3L386.1 962.5L389.9 959.2L390.2 953.9L389.9 948.6L388.6 944.0L388.7 939.2L391.1 934.6L394.6 930.9L396.9 926.3L400.5 922.6L401.7 915.6L394.6 910.8L391.1 907.9L387.6 904.9L383.0 903.3L378.1 903.8L373.6 900.9L368.7 899.0L365.4 894.8L364.0 889.6L365.5 883.0L367.5 876.6L371.9 872.8L375.8 868.4L379.9 864.1L385.2 861.3L388.7 854.2L390.0 849.6L389.9 844.8L390.5 839.9L392.3 835.3L393.3 830.6L394.6 825.9L392.8 821.4L389.9 817.6L385.6 814.5L380.5 812.9L380.5 804.6L382.0 799.5L385.2 795.2L387.0 790.6L387.6 785.8L392.3 781.6L395.8 776.3L400.4 774.0L404.1 770.4L401.7 764.5L401.7 759.7L400.5 755.1L397.0 748.0L395.8 740.7L396.7 735.9L398.2 731.3L402.0 727.4L406.4 724.2L413.5 723.7L417.9 721.2L422.9 720.6L425.1 716.4L427.7 712.4L427.8 707.0L428.8 701.8L425.3 693.5L424.8 686.4L423.7 681.2L424.1 675.8L425.3 667.5L432.4 662.8L438.5 662.6L444.2 660.5L450.4 658.9L456.0 655.7L464.2 652.2L472.5 653.9L477.3 654.3L481.9 653.4L486.5 650.4L491.4 648.2L497.2 647.0L503.2 647.5L510.3 645.8L514.1 641.9L517.5 637.6L522.1 634.5L525.4 630.7L529.1 627.4L533.9 626.5L538.6 625.1L544.4 623.5L550.4 622.7L556.1 620.0L562.2 618.0L567.3 614.7L572.8 612.1L576.9 608.4L579.9 603.8L584.1 600.0L589.3 597.9L593.9 594.9L597.6 590.8L603.5 590.3L609.4 589.2L614.1 589.1L618.8 589.2L623.5 588.5L631.8 584.9L632.6 579.9L635.3 575.5L639.9 573.8L643.6 570.8L646.2 565.8L649.5 561.4L655.3 558.6L661.3 556.2L666.0 555.4L670.9 555.5L675.5 553.8L680.7 552.3L686.1 551.9L690.2 549.0L694.3 546.0L699.1 538.9L703.5 534.2L706.1 528.3L712.0 524.8L717.9 528.3L725.0 525.5L729.7 524.7L734.5 525.5L739.1 524.2L743.9 524.8L748.6 523.7L753.3 522.3L758.1 521.2L758.8 515.3L759.2 509.4L764.2 506.7L769.9 505.9L774.8 504.1L780.0 503.5L784.4 498.8L789.5 497.7L793.6 494.2L798.6 492.9L802.9 490.7L807.8 490.4L811.7 487.1L816.3 485.8L821.0 481.1L817.6 478.0L813.9 475.2L809.1 471.2L804.5 467.0L806.9 459.9L813.9 456.3L815.1 448.1L820.6 444.9L826.9 443.8L830.7 440.9L834.0 437.5L838.7 436.6L843.4 435.8L846.6 432.4L848.2 428.0L853.2 427.2L857.6 424.5L863.2 421.8L869.4 420.9L874.1 421.7L878.8 422.1L883.4 419.4L888.3 417.4L890.8 413.3L895.3 410.9L897.7 406.8L901.8 402.0L907.2 398.5L910.7 393.8L914.2 389.1L917.4 385.1L921.3 382.0L928.4 378.2L932.4 375.6L935.9 372.2L940.2 370.0L945.8 368.1L950.8 364.8L956.1 362.5L961.4 360.5L963.9 356.6L967.3 353.5L970.9 346.4L973.8 342.6L975.6 338.1L982.7 335.8L988.6 333.4L992.1 326.3L996.5 323.8L1001.5 322.8L1006.3 323.3L1011.0 322.8Z" fill="none" stroke="#000" stroke-width="3.7" stroke-linejoin="round" stroke-linecap="round"/>
<circle cx="1382.3" cy="485.8" r="15" fill="none" stroke="#ff00ff" stroke-width="8.2" stroke-linejoin="round"/>
<path d="M431.7 965.6L452.5 1001.6L410.9 1001.6Z" fill="none" stroke="#9400d3" stroke-width="8.2" stroke-linejoin="round"/>
<path d="M1137.0 360.2h27.4v27.4h-27.4Z" fill="none" stroke="#ff4500" stroke-width="8.2" stroke-linejoin="round"/>
<circle cx="1124.4" cy="493.2" r="15" fill="none" stroke="#00ffff" stroke-width="8.2" stroke-linejoin="round"/>
<path d="M1139.9 437.6L1160.7 473.6L1119.1 473.6Z" fill="none" stroke="#00ffff" stroke-width="8.2" stroke-linejoin="round"/>
<path d="M1238.4 475.9h27.4v27.4h-27.4Z" fill="none" stroke="#9400d3" stroke-width="8.2" stroke-linejoin="round"/>
<path d="M1171.9 480.8L1192.7 444.8L1151.1 444.8Z" fill="none" stroke="#9400d3" stroke-width="8.2" stroke-linejoin="round"/>
<path d="M1348.2 486.0L1366.9 504.7L1348.2 523.4L1329.5 504.7Z" fill="none" stroke="#ff00ff" stroke-width="8.2" stroke-linejoin="round"/>
<path d="M633.7 1222.5L654.5 1186.5L612.9 1186.5Z" fill="none" stroke="#eeee00" stroke-width="8.2" stroke-linejoin="round"/>
<circle cx="1081.8" cy="439.6" r="15" fill="none" stroke="#ff4500" stroke-width="8.2" stroke-linejoin="round"/>
<path d="M496.1 1208.6L514.8 1227.3L496.1 1246.0L477.4 1227.3Z" fill="none" stroke="#eeee00" stroke-width="8.2" stroke-linejoin="round"/>
<path d="M1312.0 524.6L1332.8 488.6L1291.2 488.6Z" fill="none" stroke="#ff00ff" stroke-width="8.2" stroke-linejoin="round"/>
<path d="M569.0 1189.3h27.4v27.4h-27.4Z" fill="none" stroke="#eeee00" stroke-width="8.2" stroke-linejoin="round"/>
<path d="M1331.0 504.3L1349.7 523.0L1331.0 541.7L1312.3 523.0Z" fill="none" stroke="#0000ff" stroke-width="8.2" stroke-linejoin="round"/>
<g fill="none" stroke="#000" stroke-width="0.9"><circle cx="1762.3" cy="189.0" r="1.7"/><circle cx="1751.2" cy="200.5" r="1.7"/><circle cx="1707.1" cy="250.8" r="1.7"/><circle cx="1701.7" cy="265.0" r="1.7"/><circle cx="1691.8" cy="309.3" r="1.7"/><circle cx="1686.3" cy="336.5" r="1.7"/><circle cx="1680.4" cy="347.6" r="1.7"/><circle cx="1681.6" cy="355.1" r="1.7"/><circle cx="1673.4" cy="380.6" r="1.7"/><circle cx="1702.2" cy="443.8" r="1.7"/><circle cx="1712.3" cy="456.3" r="1.7"/><circle cx="1708.8" cy="475.2" r="1.7"/><circle cx="1708.8" cy="484.7" r="1.7"/><circle cx="1705.2" cy="500.7" r="1.7"/><circle cx="1694.6" cy="512.3" r="1.7"/><circle cx="1688.7" cy="530.7" r="1.7"/><circle cx="1698.6" cy="532.3" r="1.7"/><circle cx="1684.0" cy="544.8" r="1.7"/><circle cx="1669.8" cy="596.0" r="1.7"/><circle cx="1675.7" cy="599.8" r="1.7"/><circle cx="1661.6" cy="612.8" r="1.7"/><circle cx="988.6" cy="1400.0" r="1.7"/><circle cx="989.7" cy="1407.3" r="1.7"/><circle cx="969.0" cy="1462.8" r="1.7"/></g><g fill="#000"><circle cx="1774.8" cy="169.4" r="2.6"/><circle cx="1708.3" cy="457.5" r="2.6"/><circle cx="1687.5" cy="438.6" r="2.6"/><circle cx="919.0" cy="1431.4" r="2.6"/><circle cx="882.4" cy="1455.0" r="2.6"/><circle cx="861.1" cy="1460.9" r="2.6"/></g>
<g stroke="#000" stroke-width="3.2" stroke-linecap="round"><line x1="1193.2" y1="253.9" x2="1225.6" y2="415.6"/><line x1="1108.9" y1="767.4" x2="876" y2="818.3"/><line x1="727.4" y1="1169.9" x2="761.1" y2="1364.6"/></g>
<g fill="#fff"><rect x="1036" y="197" width="270" height="54.2"/><rect x="1050.5" y="705.8" width="213" height="47.2"/><rect x="661.5" y="1368.9" width="227" height="46"/></g>
<g font-family="Liberation Sans, Arial, Helvetica, sans-serif" font-weight="bold" font-size="49" letter-spacing="0.2" fill="#000">
<text transform="translate(697.7 234.5) scale(1 1.035)">PY</text>
<text transform="translate(338.6 563.7) scale(1 1.035)">AR</text>
<text transform="translate(1366.8 111.6) scale(1 1.035)">PR</text>
<text transform="translate(1536.2 426.8) scale(1 1.035)">SC</text>
<text transform="translate(1364.4 751.5) scale(1 1.035)">RS</text>
<text transform="translate(888.5 1276.8) scale(1 1.035)">UY</text>
<text transform="translate(1040.1 236.8) scale(1 1.035)">Upper URB</text>
<text transform="translate(1053.9 748.3) scale(1 1.035)">Mid URB</text>
<text transform="translate(665.2 1408.2) scale(1 1.035)">Low URB</text>
</g>
<g font-family="Liberation Sans, Arial, Helvetica, sans-serif" font-weight="bold" font-size="51.6" fill="#000"><text transform="translate(1550.0 980.4) scale(1 1.035)">Atlantic</text><text transform="translate(1548.5 1039.9) scale(1 1.035)">Ocean</text></g>
<g stroke="#000" stroke-width="2" stroke-linejoin="miter"><path d="M1797.7 69.1L1763.8 166.3L1797.7 138.7Z" fill="#fff"/><path d="M1797.7 69.1L1832.7 166.3L1797.7 138.7Z" fill="#000"/><circle cx="1799.1" cy="124.6" r="41.6" fill="none" stroke-width="2.2"/></g>
<text transform="translate(1797.8 61.0) scale(1 1.035)" text-anchor="middle" font-family="Liberation Sans, Arial, sans-serif" font-size="31.8" fill="#000">N</text>
</g>
<g stroke="#333" stroke-linecap="square"><line x1="224.35" y1="20.5" x2="1888.5" y2="20.5" stroke-width="1.8"/><line x1="224.35" y1="1485.1" x2="1888.5" y2="1485.1" stroke-width="2.3"/><line x1="224.35" y1="20.5" x2="224.35" y2="1485.1" stroke-width="2.7"/><line x1="1888.5" y1="20.5" x2="1888.5" y2="1485.1" stroke-width="2.7"/></g>
<g stroke="#333" stroke-width="2.8"><line x1="490.0" x2="490.0" y1="1485.1" y2="1494.6999999999998"/><line x1="823.2" x2="823.2" y1="1485.1" y2="1494.6999999999998"/><line x1="1156.5" x2="1156.5" y1="1485.1" y2="1494.6999999999998"/><line x1="1489.7" x2="1489.7" y1="1485.1" y2="1494.6999999999998"/><line x1="1823.0" x2="1823.0" y1="1485.1" y2="1494.6999999999998"/><line y1="152.9" y2="152.9" x1="214.75" x2="224.35"/><line y1="486.4" y2="486.4" x1="214.75" x2="224.35"/><line y1="819.9" y2="819.9" x1="214.75" x2="224.35"/><line y1="1153.5" y2="1153.5" x1="214.75" x2="224.35"/><line y1="1486.0" y2="1486.0" x1="214.75" x2="224.35"/></g>
<g font-family="DejaVu Sans, Liberation Sans, sans-serif" font-weight="bold" font-size="43.8" letter-spacing="0.8" fill="#4d4d4d">
<text x="490.4" y="1535.0" text-anchor="middle">-57.5</text>
<text x="823.6" y="1535.0" text-anchor="middle">-55.0</text>
<text x="1156.9" y="1535.0" text-anchor="middle">-52.5</text>
<text x="1490.1" y="1535.0" text-anchor="middle">-50.0</text>
<text x="1823.4" y="1535.0" text-anchor="middle">-47.5</text>
<text x="207.9" y="169.3" text-anchor="end">-25.0</text>
<text x="207.9" y="502.8" text-anchor="end">-27.5</text>
<text x="207.9" y="836.3" text-anchor="end">-30.0</text>
<text x="207.9" y="1169.9" text-anchor="end">-32.5</text>
<text x="207.9" y="1502.4" text-anchor="end">-35.0</text>
</g>
<g font-family="DejaVu Sans, Liberation Sans, sans-serif" font-weight="bold" font-size="47.6" letter-spacing="0.4" fill="#000">
<text x="1056.4" y="1587.2" text-anchor="middle">Longitude (°)</text>
<text transform="translate(58.5 752.8) rotate(-90)" text-anchor="middle">Latitude (°)</text>
<text x="1942.4" y="134.4">Hydropower</text>
<text x="1942.4" y="1053.2">Elevation (m)</text>
</g>
<path d="M1970.1 172.1L1988.8 190.8L1970.1 209.5L1951.4 190.8Z" fill="none" stroke="#0000ff" stroke-width="8.2" stroke-linejoin="round"/>
<path d="M1956.4 232.7h27.4v27.4h-27.4Z" fill="none" stroke="#eeee00" stroke-width="8.2" stroke-linejoin="round"/>
<path d="M1970.1 326.0L1990.9 290.0L1949.3 290.0Z" fill="none" stroke="#ff00ff" stroke-width="8.2" stroke-linejoin="round"/>
<path d="M1970.1 339.0L1988.8 357.7L1970.1 376.4L1951.4 357.7Z" fill="none" stroke="#eeee00" stroke-width="8.2" stroke-linejoin="round"/>
<circle cx="1970.1" cy="413.3" r="15" fill="none" stroke="#ff4500" stroke-width="8.2" stroke-linejoin="round"/>
<path d="M1970.1 492.9L1990.9 456.9L1949.3 456.9Z" fill="none" stroke="#eeee00" stroke-width="8.2" stroke-linejoin="round"/>
<path d="M1970.1 505.8L1988.8 524.5L1970.1 543.2L1951.4 524.5Z" fill="none" stroke="#ff00ff" stroke-width="8.2" stroke-linejoin="round"/>
<path d="M1970.1 604.1L1990.9 568.1L1949.3 568.1Z" fill="none" stroke="#9400d3" stroke-width="8.2" stroke-linejoin="round"/>
<path d="M1956.4 622.1h27.4v27.4h-27.4Z" fill="none" stroke="#9400d3" stroke-width="8.2" stroke-linejoin="round"/>
<path d="M1970.1 667.4L1990.9 703.4L1949.3 703.4Z" fill="none" stroke="#00ffff" stroke-width="8.2" stroke-linejoin="round"/>
<circle cx="1970.1" cy="747.0" r="15" fill="none" stroke="#00ffff" stroke-width="8.2" stroke-linejoin="round"/>
<path d="M1956.4 788.9h27.4v27.4h-27.4Z" fill="none" stroke="#ff4500" stroke-width="8.2" stroke-linejoin="round"/>
<path d="M1970.1 834.2L1990.9 870.2L1949.3 870.2Z" fill="none" stroke="#9400d3" stroke-width="8.2" stroke-linejoin="round"/>
<circle cx="1970.1" cy="913.9" r="15" fill="none" stroke="#ff00ff" stroke-width="8.2" stroke-linejoin="round"/>
<g font-family="DejaVu Sans, Liberation Sans, sans-serif" font-weight="bold" font-size="44" letter-spacing="0.8" fill="#000">
<text x="2022.4" y="206.8">Barra Grande</text>
<text x="2022.4" y="262.4">Baygorria</text>
<text x="2022.4" y="318.0">Campos Novos</text>
<text x="2022.4" y="373.7">Constitución</text>
<text x="2022.4" y="429.3">Foz do Chapecó</text>
<text x="2022.4" y="484.9">Gabriel Terra</text>
<text x="2022.4" y="540.5">Garibaldi</text>
<text x="2022.4" y="596.1">Itá</text>
<text x="2022.4" y="651.8">Machadinho</text>
<text x="2022.4" y="707.4">Monjolinho</text>
<text x="2022.4" y="763.0">Passo Fundo</text>
<text x="2022.4" y="818.6">Quebra Queixo</text>
<text x="2022.4" y="874.2">Salto Grande</text>
<text x="2022.4" y="929.9">São Roque</text>
<text x="2022.4" y="1174.5">2000</text>
<text x="2022.4" y="1237.8">1500</text>
<text x="2022.4" y="1300.6">1000</text>
<text x="2022.4" y="1363.9">500</text>
<text x="2022.4" y="1426.8">0</text>
</g>
<defs><linearGradient id="cb" x1="0" y1="0" x2="0" y2="1"><stop offset="0.0000" stop-color="#faf0ee"/><stop offset="0.0434" stop-color="#c88c82"/><stop offset="0.0889" stop-color="#8b281e"/><stop offset="0.1116" stop-color="#780808"/><stop offset="0.2024" stop-color="#a00000"/><stop offset="0.3160" stop-color="#a00026"/><stop offset="0.3842" stop-color="#b91e28"/><stop offset="0.4523" stop-color="#d73027"/><stop offset="0.4841" stop-color="#e47846"/><stop offset="0.5068" stop-color="#e8a55f"/><stop offset="0.5295" stop-color="#e4d278"/><stop offset="0.5432" stop-color="#dee88a"/><stop offset="0.5659" stop-color="#d2ec87"/><stop offset="0.6340" stop-color="#b4e078"/><stop offset="0.7022" stop-color="#82c86c"/><stop offset="0.7431" stop-color="#46af64"/><stop offset="0.7703" stop-color="#0a9b58"/><stop offset="0.8158" stop-color="#00874b"/><stop offset="0.8612" stop-color="#00723e"/><stop offset="0.9066" stop-color="#005f32"/><stop offset="0.9520" stop-color="#004c27"/><stop offset="0.9975" stop-color="#003c1c"/></linearGradient></defs>
<rect x="1941.7" y="1133.8" width="56.7" height="277.7" fill="url(#cb)"/>
<path d="M1941.7 1158.5h11.3M1998.4 1158.5h-11.3M1941.7 1221.6h11.3M1998.4 1221.6h-11.3M1941.7 1284.6h11.3M1998.4 1284.6h-11.3M1941.7 1347.7h11.3M1998.4 1347.7h-11.3M1941.7 1410.8h11.3M1998.4 1410.8h-11.3" stroke="#fff" stroke-width="1.4" fill="none"/>
</svg></body></html>
